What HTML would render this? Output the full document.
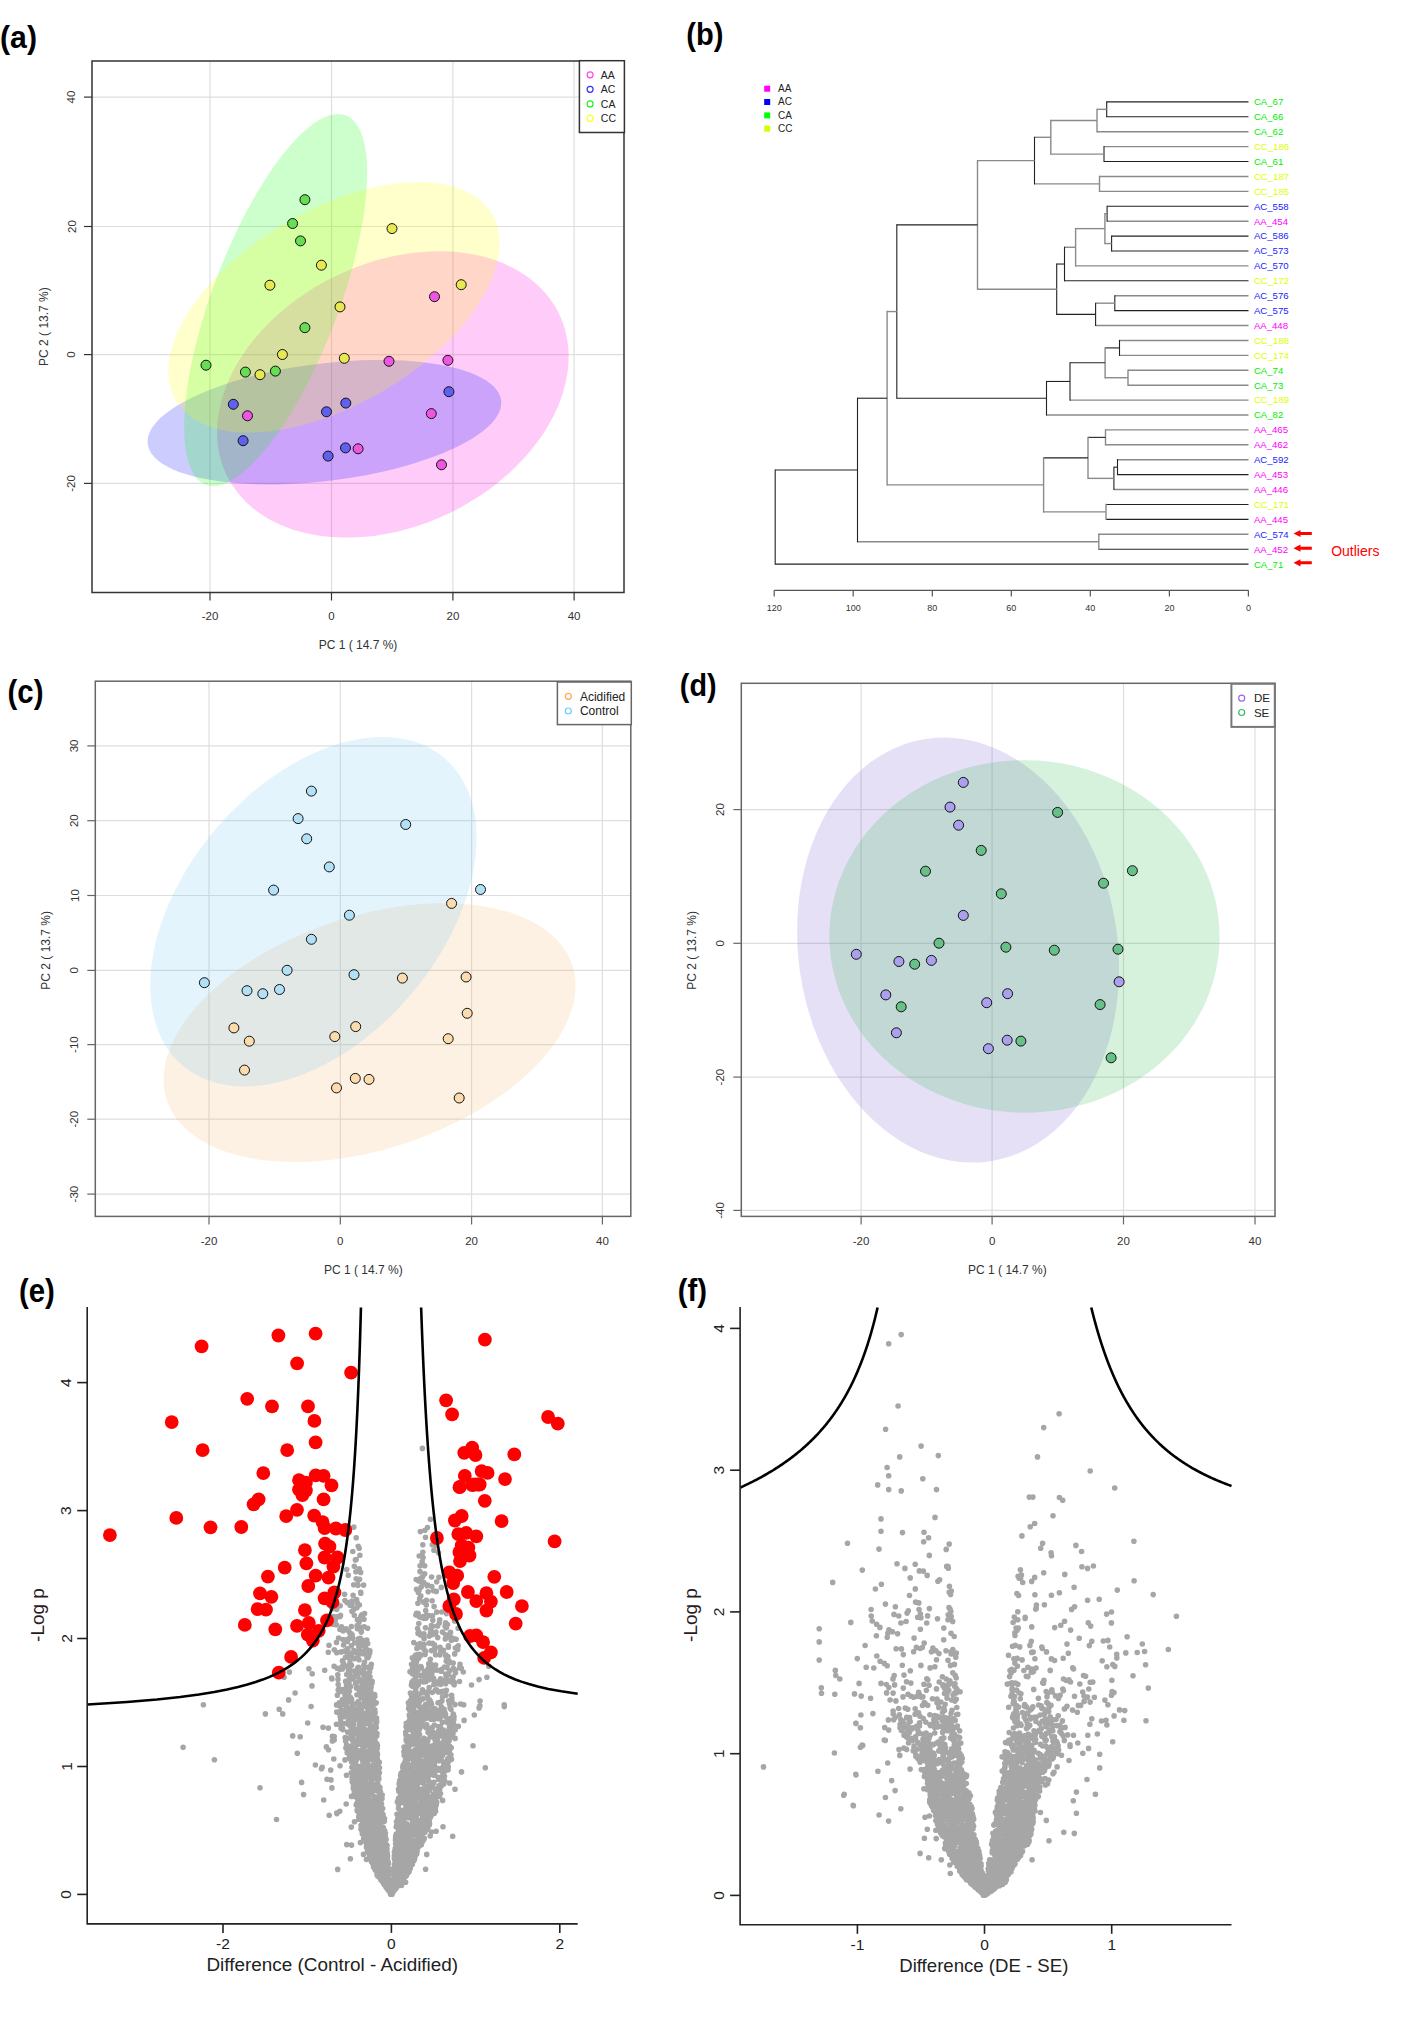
<!DOCTYPE html>
<html><head><meta charset="utf-8"><style>
html,body{margin:0;padding:0;background:#fff;overflow:hidden;}
svg{display:block;font-family:"Liberation Sans", sans-serif;}
</style></head><body>
<svg width="1421" height="2031" viewBox="0 0 1421 2031">
<rect width="1421" height="2031" fill="#fff"/>
<line x1="210" y1="61" x2="210" y2="592.5" stroke="#dedede" stroke-width="1.2"/>
<line x1="331.5" y1="61" x2="331.5" y2="592.5" stroke="#dedede" stroke-width="1.2"/>
<line x1="452.9" y1="61" x2="452.9" y2="592.5" stroke="#dedede" stroke-width="1.2"/>
<line x1="574.1" y1="61" x2="574.1" y2="592.5" stroke="#dedede" stroke-width="1.2"/>
<line x1="92" y1="97.1" x2="624" y2="97.1" stroke="#dedede" stroke-width="1.2"/>
<line x1="92" y1="226.5" x2="624" y2="226.5" stroke="#dedede" stroke-width="1.2"/>
<line x1="92" y1="354.6" x2="624" y2="354.6" stroke="#dedede" stroke-width="1.2"/>
<line x1="92" y1="483.4" x2="624" y2="483.4" stroke="#dedede" stroke-width="1.2"/>
<path d="M335.3,276.2 L325.0,281.6 L314.9,287.3 L305.2,293.5 L295.8,300.1 L286.8,307.0 L278.2,314.3 L270.0,321.9 L262.4,329.8 L255.2,338.0 L248.6,346.3 L242.6,354.9 L237.2,363.6 L232.3,372.5 L228.1,381.4 L224.6,390.4 L221.7,399.4 L219.5,408.4 L218.0,417.3 L217.2,426.1 L217.0,434.8 L217.6,443.4 L218.8,451.7 L220.8,459.9 L223.4,467.7 L226.7,475.3 L230.6,482.6 L235.2,489.5 L240.4,496.0 L246.2,502.2 L252.6,507.9 L259.5,513.2 L267.0,518.0 L274.9,522.3 L283.4,526.1 L292.2,529.4 L301.5,532.1 L311.1,534.3 L321.0,536.0 L331.3,537.1 L341.7,537.6 L352.4,537.6 L363.2,537.0 L374.1,535.9 L385.2,534.1 L396.2,531.9 L407.2,529.1 L418.2,525.7 L429.1,521.9 L439.8,517.5 L450.4,512.7 L460.7,507.4 L470.7,501.6 L480.5,495.4 L489.9,488.9 L498.9,481.9 L507.5,474.6 L515.6,467.0 L523.3,459.1 L530.4,451.0 L537.0,442.6 L543.1,434.0 L548.5,425.3 L553.3,416.4 L557.5,407.5 L561.1,398.5 L563.9,389.5 L566.1,380.6 L567.7,371.6 L568.5,362.8 L568.6,354.1 L568.1,345.5 L566.8,337.2 L564.9,329.1 L562.3,321.2 L559.0,313.6 L555.0,306.3 L550.5,299.4 L545.3,292.9 L539.4,286.7 L533.1,281.0 L526.1,275.8 L518.7,271.0 L510.7,266.7 L502.3,262.8 L493.4,259.6 L484.2,256.8 L474.6,254.6 L464.6,252.9 L454.4,251.8 L443.9,251.3 L433.3,251.3 L422.5,251.9 L411.5,253.1 L400.5,254.8 L389.5,257.0 L378.4,259.8 L367.4,263.2 L356.6,267.0 L345.8,271.4Z" fill="#ff00e4" fill-opacity="0.2"/>
<path d="M317.3,363.9 L306.2,365.4 L295.2,367.1 L284.3,369.1 L273.5,371.2 L263.0,373.5 L252.7,376.1 L242.7,378.8 L233.0,381.6 L223.7,384.7 L214.7,387.9 L206.2,391.2 L198.2,394.7 L190.7,398.2 L183.7,401.9 L177.2,405.6 L171.3,409.4 L166.1,413.2 L161.4,417.1 L157.4,421.0 L154.1,424.9 L151.4,428.8 L149.5,432.7 L148.2,436.5 L147.6,440.3 L147.7,444.0 L148.5,447.6 L150.0,451.2 L152.1,454.6 L155.0,457.8 L158.5,461.0 L162.7,464.0 L167.6,466.8 L173.0,469.4 L179.0,471.9 L185.7,474.1 L192.8,476.2 L200.5,478.0 L208.7,479.6 L217.3,481.0 L226.4,482.2 L235.8,483.1 L245.6,483.8 L255.7,484.3 L266.1,484.4 L276.7,484.4 L287.4,484.1 L298.4,483.6 L309.4,482.8 L320.5,481.8 L331.6,480.5 L342.7,479.0 L353.7,477.3 L364.6,475.4 L375.4,473.3 L385.9,470.9 L396.2,468.4 L406.2,465.7 L415.9,462.8 L425.2,459.8 L434.2,456.6 L442.7,453.2 L450.7,449.8 L458.2,446.2 L465.2,442.6 L471.7,438.9 L477.5,435.1 L482.8,431.2 L487.5,427.3 L491.4,423.4 L494.8,419.5 L497.4,415.6 L499.4,411.7 L500.7,407.9 L501.3,404.1 L501.2,400.4 L500.4,396.8 L498.9,393.3 L496.7,389.9 L493.9,386.6 L490.3,383.5 L486.2,380.5 L481.3,377.7 L475.9,375.0 L469.8,372.6 L463.2,370.3 L456.1,368.3 L448.4,366.4 L440.2,364.8 L431.6,363.4 L422.5,362.3 L413.1,361.3 L403.3,360.6 L393.2,360.2 L382.8,360.0 L372.2,360.1 L361.4,360.3 L350.5,360.9 L339.5,361.7 L328.4,362.7Z" fill="#0000ff" fill-opacity="0.2"/>
<path d="M216.7,277.7 L212.4,289.4 L208.4,301.0 L204.7,312.7 L201.2,324.4 L198.0,335.9 L195.1,347.3 L192.5,358.5 L190.3,369.5 L188.4,380.2 L186.8,390.6 L185.6,400.6 L184.8,410.2 L184.3,419.4 L184.2,428.2 L184.4,436.4 L185.0,444.1 L185.9,451.2 L187.2,457.7 L188.9,463.6 L190.9,468.9 L193.2,473.5 L195.9,477.4 L198.8,480.6 L202.1,483.0 L205.7,484.8 L209.5,485.8 L213.6,486.2 L217.9,485.7 L222.5,484.6 L227.3,482.7 L232.3,480.1 L237.4,476.7 L242.7,472.7 L248.1,468.0 L253.7,462.6 L259.3,456.6 L265.0,450.0 L270.7,442.8 L276.5,435.0 L282.2,426.7 L287.9,417.9 L293.6,408.6 L299.2,398.9 L304.7,388.8 L310.1,378.4 L315.3,367.6 L320.4,356.6 L325.4,345.4 L330.1,333.9 L334.6,322.4 L338.9,310.7 L342.9,299.0 L346.7,287.4 L350.2,275.7 L353.4,264.2 L356.2,252.8 L358.8,241.6 L361.0,230.6 L362.9,219.9 L364.5,209.5 L365.7,199.5 L366.6,189.8 L367.0,180.6 L367.2,171.9 L366.9,163.7 L366.4,156.0 L365.4,148.9 L364.1,142.4 L362.5,136.5 L360.5,131.2 L358.1,126.6 L355.5,122.7 L352.5,119.5 L349.2,117.0 L345.7,115.3 L341.8,114.2 L337.7,113.9 L333.4,114.4 L328.8,115.5 L324.0,117.4 L319.1,120.0 L313.9,123.3 L308.6,127.4 L303.2,132.1 L297.7,137.4 L292.0,143.4 L286.3,150.1 L280.6,157.3 L274.9,165.1 L269.1,173.4 L263.4,182.2 L257.7,191.5 L252.1,201.2 L246.6,211.3 L241.2,221.7 L236.0,232.5 L230.9,243.5 L226.0,254.7 L221.2,266.2Z" fill="#00ff00" fill-opacity="0.2"/>
<path d="M284.6,223.5 L274.7,229.6 L265.1,235.9 L255.8,242.5 L246.8,249.4 L238.1,256.4 L229.8,263.7 L221.9,271.2 L214.5,278.8 L207.5,286.5 L201.0,294.3 L195.0,302.2 L189.6,310.1 L184.8,317.9 L180.6,325.7 L176.9,333.5 L173.9,341.1 L171.5,348.6 L169.7,356.0 L168.6,363.1 L168.2,370.1 L168.4,376.8 L169.3,383.2 L170.8,389.3 L172.9,395.1 L175.7,400.5 L179.1,405.6 L183.1,410.3 L187.8,414.5 L192.9,418.4 L198.7,421.8 L205.0,424.8 L211.8,427.3 L219.0,429.3 L226.8,430.9 L234.9,431.9 L243.5,432.5 L252.4,432.6 L261.6,432.1 L271.1,431.2 L280.8,429.8 L290.8,427.9 L300.9,425.6 L311.2,422.7 L321.6,419.4 L332.0,415.7 L342.4,411.6 L352.7,407.0 L363.0,402.0 L373.2,396.7 L383.3,391.0 L393.1,385.0 L402.7,378.7 L412.0,372.1 L421.1,365.2 L429.7,358.1 L438.0,350.8 L445.9,343.3 L453.4,335.7 L460.3,328.0 L466.8,320.2 L472.8,312.4 L478.2,304.5 L483.0,296.6 L487.3,288.8 L490.9,281.1 L493.9,273.4 L496.3,265.9 L498.1,258.6 L499.2,251.4 L499.6,244.5 L499.4,237.8 L498.6,231.4 L497.1,225.3 L494.9,219.5 L492.1,214.0 L488.7,209.0 L484.7,204.3 L480.1,200.0 L474.9,196.1 L469.1,192.7 L462.8,189.8 L456.1,187.3 L448.8,185.2 L441.1,183.7 L432.9,182.6 L424.4,182.1 L415.5,182.0 L406.2,182.4 L396.7,183.3 L387.0,184.7 L377.0,186.6 L366.9,189.0 L356.6,191.8 L346.3,195.1 L335.9,198.8 L325.5,203.0 L315.1,207.5 L304.8,212.5 L294.6,217.8Z" fill="#ffff00" fill-opacity="0.2"/>
<circle cx="304.9" cy="199.7" r="5.0" fill="#66dd55" stroke="#111" stroke-width="1"/>
<circle cx="292.6" cy="223.5" r="5.0" fill="#66dd55" stroke="#111" stroke-width="1"/>
<circle cx="392.0" cy="228.6" r="5.0" fill="#e8e850" stroke="#111" stroke-width="1"/>
<circle cx="300.5" cy="240.9" r="5.0" fill="#66dd55" stroke="#111" stroke-width="1"/>
<circle cx="321.4" cy="265.2" r="5.0" fill="#e8e850" stroke="#111" stroke-width="1"/>
<circle cx="269.9" cy="285.2" r="5.0" fill="#e8e850" stroke="#111" stroke-width="1"/>
<circle cx="461.2" cy="284.7" r="5.0" fill="#e8e850" stroke="#111" stroke-width="1"/>
<circle cx="340.0" cy="306.9" r="5.0" fill="#e8e850" stroke="#111" stroke-width="1"/>
<circle cx="304.9" cy="327.7" r="5.0" fill="#66dd55" stroke="#111" stroke-width="1"/>
<circle cx="282.4" cy="354.5" r="5.0" fill="#e8e850" stroke="#111" stroke-width="1"/>
<circle cx="206.0" cy="365.2" r="5.0" fill="#66dd55" stroke="#111" stroke-width="1"/>
<circle cx="245.4" cy="372.1" r="5.0" fill="#66dd55" stroke="#111" stroke-width="1"/>
<circle cx="260.0" cy="374.7" r="5.0" fill="#e8e850" stroke="#111" stroke-width="1"/>
<circle cx="275.4" cy="371.1" r="5.0" fill="#66dd55" stroke="#111" stroke-width="1"/>
<circle cx="344.3" cy="358.3" r="5.0" fill="#e8e850" stroke="#111" stroke-width="1"/>
<circle cx="434.5" cy="296.7" r="5.0" fill="#ee55e0" stroke="#111" stroke-width="1"/>
<circle cx="389.0" cy="361.3" r="5.0" fill="#ee55e0" stroke="#111" stroke-width="1"/>
<circle cx="447.9" cy="360.3" r="5.0" fill="#ee55e0" stroke="#111" stroke-width="1"/>
<circle cx="448.9" cy="391.7" r="5.0" fill="#6060ee" stroke="#111" stroke-width="1"/>
<circle cx="233.3" cy="404.3" r="5.0" fill="#6060ee" stroke="#111" stroke-width="1"/>
<circle cx="247.5" cy="415.8" r="5.0" fill="#ee55e0" stroke="#111" stroke-width="1"/>
<circle cx="326.5" cy="411.8" r="5.0" fill="#6060ee" stroke="#111" stroke-width="1"/>
<circle cx="345.8" cy="403.1" r="5.0" fill="#6060ee" stroke="#111" stroke-width="1"/>
<circle cx="431.3" cy="413.6" r="5.0" fill="#ee55e0" stroke="#111" stroke-width="1"/>
<circle cx="243.1" cy="440.7" r="5.0" fill="#6060ee" stroke="#111" stroke-width="1"/>
<circle cx="345.5" cy="447.9" r="5.0" fill="#6060ee" stroke="#111" stroke-width="1"/>
<circle cx="358.1" cy="448.8" r="5.0" fill="#ee55e0" stroke="#111" stroke-width="1"/>
<circle cx="328.1" cy="456.1" r="5.0" fill="#6060ee" stroke="#111" stroke-width="1"/>
<circle cx="441.5" cy="464.8" r="5.0" fill="#ee55e0" stroke="#111" stroke-width="1"/>
<rect x="92" y="61" width="532" height="531.5" fill="none" stroke="#333" stroke-width="1.5"/>
<line x1="210" y1="592.5" x2="210" y2="600.5" stroke="#333" stroke-width="1.2"/>
<text x="210" y="620" font-size="11.5" text-anchor="middle" fill="#333" font-weight="normal">-20</text>
<line x1="331.5" y1="592.5" x2="331.5" y2="600.5" stroke="#333" stroke-width="1.2"/>
<text x="331.5" y="620" font-size="11.5" text-anchor="middle" fill="#333" font-weight="normal">0</text>
<line x1="452.9" y1="592.5" x2="452.9" y2="600.5" stroke="#333" stroke-width="1.2"/>
<text x="452.9" y="620" font-size="11.5" text-anchor="middle" fill="#333" font-weight="normal">20</text>
<line x1="574.1" y1="592.5" x2="574.1" y2="600.5" stroke="#333" stroke-width="1.2"/>
<text x="574.1" y="620" font-size="11.5" text-anchor="middle" fill="#333" font-weight="normal">40</text>
<line x1="84" y1="97.1" x2="92" y2="97.1" stroke="#333" stroke-width="1.2"/>
<text x="75.5" y="97.1" font-size="11.5" text-anchor="middle" fill="#333" font-weight="normal" transform="rotate(-90 75.5 97.1)">40</text>
<line x1="84" y1="226.5" x2="92" y2="226.5" stroke="#333" stroke-width="1.2"/>
<text x="75.5" y="226.5" font-size="11.5" text-anchor="middle" fill="#333" font-weight="normal" transform="rotate(-90 75.5 226.5)">20</text>
<line x1="84" y1="354.6" x2="92" y2="354.6" stroke="#333" stroke-width="1.2"/>
<text x="75.5" y="354.6" font-size="11.5" text-anchor="middle" fill="#333" font-weight="normal" transform="rotate(-90 75.5 354.6)">0</text>
<line x1="84" y1="483.4" x2="92" y2="483.4" stroke="#333" stroke-width="1.2"/>
<text x="75.5" y="483.4" font-size="11.5" text-anchor="middle" fill="#333" font-weight="normal" transform="rotate(-90 75.5 483.4)">-20</text>
<text x="358" y="648.5" font-size="12" text-anchor="middle" fill="#333" font-weight="normal">PC 1 ( 14.7 %)</text>
<text x="48" y="326.6" font-size="12" text-anchor="middle" fill="#333" font-weight="normal" transform="rotate(-90 48 326.6)">PC 2 ( 13.7 %)</text>
<rect x="579.4" y="60.7" width="45" height="71.8" fill="#fff" stroke="#333" stroke-width="1.5"/>
<circle cx="590.1" cy="74.8" r="3" fill="none" stroke="#ff44ee" stroke-width="1.2"/>
<text x="600.8" y="78.6" font-size="10.5" text-anchor="start" fill="#222" font-weight="normal">AA</text>
<circle cx="590.1" cy="89.35" r="3" fill="none" stroke="#3333ff" stroke-width="1.2"/>
<text x="600.8" y="93.14999999999999" font-size="10.5" text-anchor="start" fill="#222" font-weight="normal">AC</text>
<circle cx="590.1" cy="103.9" r="3" fill="none" stroke="#22ee22" stroke-width="1.2"/>
<text x="600.8" y="107.7" font-size="10.5" text-anchor="start" fill="#222" font-weight="normal">CA</text>
<circle cx="590.1" cy="118.45" r="3" fill="none" stroke="#ffff22" stroke-width="1.2"/>
<text x="600.8" y="122.25" font-size="10.5" text-anchor="start" fill="#222" font-weight="normal">CC</text>
<line x1="209" y1="681.2" x2="209" y2="1216.4" stroke="#dedede" stroke-width="1.2"/>
<line x1="340.3" y1="681.2" x2="340.3" y2="1216.4" stroke="#dedede" stroke-width="1.2"/>
<line x1="471.6" y1="681.2" x2="471.6" y2="1216.4" stroke="#dedede" stroke-width="1.2"/>
<line x1="602.4" y1="681.2" x2="602.4" y2="1216.4" stroke="#dedede" stroke-width="1.2"/>
<line x1="95.3" y1="745.9" x2="630.8" y2="745.9" stroke="#dedede" stroke-width="1.2"/>
<line x1="95.3" y1="820.7" x2="630.8" y2="820.7" stroke="#dedede" stroke-width="1.2"/>
<line x1="95.3" y1="895.5" x2="630.8" y2="895.5" stroke="#dedede" stroke-width="1.2"/>
<line x1="95.3" y1="970.4" x2="630.8" y2="970.4" stroke="#dedede" stroke-width="1.2"/>
<line x1="95.3" y1="1044.6" x2="630.8" y2="1044.6" stroke="#dedede" stroke-width="1.2"/>
<line x1="95.3" y1="1119.2" x2="630.8" y2="1119.2" stroke="#dedede" stroke-width="1.2"/>
<line x1="95.3" y1="1194.1" x2="630.8" y2="1194.1" stroke="#dedede" stroke-width="1.2"/>
<path d="M332.7,922.3 L320.1,926.8 L307.6,931.7 L295.4,936.9 L283.5,942.6 L271.9,948.6 L260.7,955.0 L249.9,961.6 L239.6,968.6 L229.8,975.7 L220.6,983.2 L212.0,990.8 L203.9,998.5 L196.6,1006.4 L189.9,1014.4 L183.9,1022.5 L178.7,1030.7 L174.2,1038.8 L170.5,1046.9 L167.5,1054.9 L165.4,1062.9 L164.1,1070.7 L163.5,1078.4 L163.8,1085.9 L164.9,1093.2 L166.9,1100.3 L169.6,1107.1 L173.1,1113.6 L177.4,1119.8 L182.4,1125.6 L188.2,1131.1 L194.7,1136.1 L201.8,1140.8 L209.7,1145.1 L218.1,1148.9 L227.2,1152.2 L236.9,1155.1 L247.0,1157.5 L257.6,1159.4 L268.7,1160.8 L280.2,1161.6 L292.0,1162.0 L304.2,1161.9 L316.6,1161.2 L329.2,1160.1 L341.9,1158.4 L354.8,1156.3 L367.8,1153.7 L380.7,1150.5 L393.6,1147.0 L406.4,1142.9 L419.0,1138.5 L431.5,1133.6 L443.7,1128.3 L455.6,1122.6 L467.2,1116.6 L478.4,1110.3 L489.2,1103.6 L499.5,1096.7 L509.3,1089.5 L518.5,1082.1 L527.1,1074.5 L535.2,1066.7 L542.5,1058.8 L549.2,1050.8 L555.2,1042.7 L560.4,1034.6 L564.9,1026.4 L568.6,1018.3 L571.6,1010.3 L573.7,1002.3 L575.0,994.5 L575.6,986.8 L575.3,979.3 L574.2,972.0 L572.2,964.9 L569.5,958.1 L566.0,951.6 L561.7,945.5 L556.7,939.6 L550.9,934.2 L544.4,929.1 L537.3,924.4 L529.4,920.2 L521.0,916.4 L511.9,913.0 L502.2,910.2 L492.1,907.8 L481.5,905.9 L470.4,904.5 L458.9,903.6 L447.1,903.2 L434.9,903.3 L422.5,904.0 L409.9,905.1 L397.2,906.8 L384.3,908.9 L371.3,911.6 L358.4,914.7 L345.5,918.3Z" fill="#f7b973" fill-opacity="0.2"/>
<path d="M215.9,828.8 L207.9,838.6 L200.3,848.7 L193.1,859.1 L186.5,869.6 L180.3,880.4 L174.6,891.2 L169.5,902.2 L165.0,913.1 L161.0,924.1 L157.6,935.0 L154.9,945.8 L152.8,956.5 L151.3,967.1 L150.5,977.4 L150.2,987.4 L150.7,997.1 L151.8,1006.5 L153.5,1015.6 L155.9,1024.2 L158.8,1032.3 L162.4,1040.0 L166.6,1047.2 L171.4,1053.9 L176.7,1060.0 L182.5,1065.5 L188.9,1070.4 L195.8,1074.7 L203.1,1078.3 L210.9,1081.3 L219.1,1083.6 L227.6,1085.2 L236.5,1086.2 L245.7,1086.4 L255.1,1086.0 L264.8,1084.9 L274.7,1083.1 L284.7,1080.6 L294.9,1077.4 L305.1,1073.6 L315.3,1069.2 L325.6,1064.1 L335.8,1058.5 L345.9,1052.2 L355.8,1045.4 L365.6,1038.1 L375.2,1030.3 L384.6,1022.0 L393.7,1013.2 L402.4,1004.1 L410.8,994.6 L418.9,984.8 L426.5,974.7 L433.6,964.3 L440.3,953.8 L446.5,943.0 L452.2,932.2 L457.3,921.3 L461.8,910.3 L465.8,899.3 L469.1,888.4 L471.9,877.6 L474.0,866.9 L475.5,856.4 L476.3,846.1 L476.5,836.0 L476.1,826.3 L475.0,816.9 L473.3,807.9 L470.9,799.2 L468.0,791.1 L464.4,783.4 L460.2,776.2 L455.4,769.5 L450.1,763.4 L444.2,757.9 L437.9,753.0 L431.0,748.7 L423.7,745.1 L415.9,742.1 L407.7,739.8 L399.2,738.2 L390.3,737.2 L381.1,737.0 L371.7,737.4 L362.0,738.5 L352.1,740.4 L342.1,742.8 L331.9,746.0 L321.7,749.8 L311.5,754.2 L301.2,759.3 L291.0,765.0 L280.9,771.2 L271.0,778.0 L261.1,785.3 L251.5,793.1 L242.2,801.4 L233.1,810.2 L224.3,819.3Z" fill="#73c8f5" fill-opacity="0.2"/>
<circle cx="311.4" cy="791.1" r="5.0" fill="#b2e0f6" stroke="#111" stroke-width="1"/>
<circle cx="298.1" cy="818.6" r="5.0" fill="#b2e0f6" stroke="#111" stroke-width="1"/>
<circle cx="405.7" cy="824.5" r="5.0" fill="#b2e0f6" stroke="#111" stroke-width="1"/>
<circle cx="306.7" cy="838.8" r="5.0" fill="#b2e0f6" stroke="#111" stroke-width="1"/>
<circle cx="329.3" cy="866.9" r="5.0" fill="#b2e0f6" stroke="#111" stroke-width="1"/>
<circle cx="273.6" cy="890.1" r="5.0" fill="#b2e0f6" stroke="#111" stroke-width="1"/>
<circle cx="480.5" cy="889.5" r="5.0" fill="#b2e0f6" stroke="#111" stroke-width="1"/>
<circle cx="349.4" cy="915.2" r="5.0" fill="#b2e0f6" stroke="#111" stroke-width="1"/>
<circle cx="311.4" cy="939.3" r="5.0" fill="#b2e0f6" stroke="#111" stroke-width="1"/>
<circle cx="287.1" cy="970.3" r="5.0" fill="#b2e0f6" stroke="#111" stroke-width="1"/>
<circle cx="204.4" cy="982.7" r="5.0" fill="#b2e0f6" stroke="#111" stroke-width="1"/>
<circle cx="247.0" cy="990.7" r="5.0" fill="#b2e0f6" stroke="#111" stroke-width="1"/>
<circle cx="262.8" cy="993.7" r="5.0" fill="#b2e0f6" stroke="#111" stroke-width="1"/>
<circle cx="279.5" cy="989.5" r="5.0" fill="#b2e0f6" stroke="#111" stroke-width="1"/>
<circle cx="354.0" cy="974.7" r="5.0" fill="#b2e0f6" stroke="#111" stroke-width="1"/>
<circle cx="451.6" cy="903.4" r="5.0" fill="#fcdcae" stroke="#111" stroke-width="1"/>
<circle cx="402.4" cy="978.1" r="5.0" fill="#fcdcae" stroke="#111" stroke-width="1"/>
<circle cx="466.1" cy="977.0" r="5.0" fill="#fcdcae" stroke="#111" stroke-width="1"/>
<circle cx="467.2" cy="1013.3" r="5.0" fill="#fcdcae" stroke="#111" stroke-width="1"/>
<circle cx="233.9" cy="1027.9" r="5.0" fill="#fcdcae" stroke="#111" stroke-width="1"/>
<circle cx="249.3" cy="1041.2" r="5.0" fill="#fcdcae" stroke="#111" stroke-width="1"/>
<circle cx="334.8" cy="1036.6" r="5.0" fill="#fcdcae" stroke="#111" stroke-width="1"/>
<circle cx="355.7" cy="1026.6" r="5.0" fill="#fcdcae" stroke="#111" stroke-width="1"/>
<circle cx="448.2" cy="1038.7" r="5.0" fill="#fcdcae" stroke="#111" stroke-width="1"/>
<circle cx="244.5" cy="1070.1" r="5.0" fill="#fcdcae" stroke="#111" stroke-width="1"/>
<circle cx="355.3" cy="1078.4" r="5.0" fill="#fcdcae" stroke="#111" stroke-width="1"/>
<circle cx="369.0" cy="1079.4" r="5.0" fill="#fcdcae" stroke="#111" stroke-width="1"/>
<circle cx="336.5" cy="1087.9" r="5.0" fill="#fcdcae" stroke="#111" stroke-width="1"/>
<circle cx="459.2" cy="1098.0" r="5.0" fill="#fcdcae" stroke="#111" stroke-width="1"/>
<rect x="95.3" y="681.2" width="535.5" height="535.2" fill="none" stroke="#666" stroke-width="1.5"/>
<line x1="209" y1="1216.4" x2="209" y2="1224.4" stroke="#666" stroke-width="1.2"/>
<text x="209" y="1245.2" font-size="11.5" text-anchor="middle" fill="#333" font-weight="normal">-20</text>
<line x1="340.3" y1="1216.4" x2="340.3" y2="1224.4" stroke="#666" stroke-width="1.2"/>
<text x="340.3" y="1245.2" font-size="11.5" text-anchor="middle" fill="#333" font-weight="normal">0</text>
<line x1="471.6" y1="1216.4" x2="471.6" y2="1224.4" stroke="#666" stroke-width="1.2"/>
<text x="471.6" y="1245.2" font-size="11.5" text-anchor="middle" fill="#333" font-weight="normal">20</text>
<line x1="602.4" y1="1216.4" x2="602.4" y2="1224.4" stroke="#666" stroke-width="1.2"/>
<text x="602.4" y="1245.2" font-size="11.5" text-anchor="middle" fill="#333" font-weight="normal">40</text>
<line x1="87.3" y1="745.9" x2="95.3" y2="745.9" stroke="#666" stroke-width="1.2"/>
<text x="78.5" y="745.9" font-size="11.5" text-anchor="middle" fill="#333" font-weight="normal" transform="rotate(-90 78.5 745.9)">30</text>
<line x1="87.3" y1="820.7" x2="95.3" y2="820.7" stroke="#666" stroke-width="1.2"/>
<text x="78.5" y="820.7" font-size="11.5" text-anchor="middle" fill="#333" font-weight="normal" transform="rotate(-90 78.5 820.7)">20</text>
<line x1="87.3" y1="895.5" x2="95.3" y2="895.5" stroke="#666" stroke-width="1.2"/>
<text x="78.5" y="895.5" font-size="11.5" text-anchor="middle" fill="#333" font-weight="normal" transform="rotate(-90 78.5 895.5)">10</text>
<line x1="87.3" y1="970.4" x2="95.3" y2="970.4" stroke="#666" stroke-width="1.2"/>
<text x="78.5" y="970.4" font-size="11.5" text-anchor="middle" fill="#333" font-weight="normal" transform="rotate(-90 78.5 970.4)">0</text>
<line x1="87.3" y1="1044.6" x2="95.3" y2="1044.6" stroke="#666" stroke-width="1.2"/>
<text x="78.5" y="1044.6" font-size="11.5" text-anchor="middle" fill="#333" font-weight="normal" transform="rotate(-90 78.5 1044.6)">-10</text>
<line x1="87.3" y1="1119.2" x2="95.3" y2="1119.2" stroke="#666" stroke-width="1.2"/>
<text x="78.5" y="1119.2" font-size="11.5" text-anchor="middle" fill="#333" font-weight="normal" transform="rotate(-90 78.5 1119.2)">-20</text>
<line x1="87.3" y1="1194.1" x2="95.3" y2="1194.1" stroke="#666" stroke-width="1.2"/>
<text x="78.5" y="1194.1" font-size="11.5" text-anchor="middle" fill="#333" font-weight="normal" transform="rotate(-90 78.5 1194.1)">-30</text>
<text x="363.3" y="1274" font-size="12" text-anchor="middle" fill="#333" font-weight="normal">PC 1 ( 14.7 %)</text>
<text x="50.5" y="950.3" font-size="12" text-anchor="middle" fill="#333" font-weight="normal" transform="rotate(-90 50.5 950.3)">PC 2 ( 13.7 %)</text>
<rect x="557.4" y="682" width="73.9" height="42.6" fill="#fff" stroke="#666" stroke-width="1.5"/>
<circle cx="568.3" cy="696.3" r="3" fill="none" stroke="#ffaa55" stroke-width="1.2"/>
<text x="579.9" y="700.5" font-size="12" text-anchor="start" fill="#222" font-weight="normal">Acidified</text>
<circle cx="568.3" cy="711.0" r="3" fill="none" stroke="#66ccff" stroke-width="1.2"/>
<text x="579.9" y="715.2" font-size="12" text-anchor="start" fill="#222" font-weight="normal">Control</text>
<line x1="861.1" y1="683.3" x2="861.1" y2="1216.4" stroke="#dedede" stroke-width="1.2"/>
<line x1="992.1" y1="683.3" x2="992.1" y2="1216.4" stroke="#dedede" stroke-width="1.2"/>
<line x1="1123.5" y1="683.3" x2="1123.5" y2="1216.4" stroke="#dedede" stroke-width="1.2"/>
<line x1="1255" y1="683.3" x2="1255" y2="1216.4" stroke="#dedede" stroke-width="1.2"/>
<line x1="741.3" y1="809.6" x2="1275" y2="809.6" stroke="#dedede" stroke-width="1.2"/>
<line x1="741.3" y1="943.3" x2="1275" y2="943.3" stroke="#dedede" stroke-width="1.2"/>
<line x1="741.3" y1="1077.1" x2="1275" y2="1077.1" stroke="#dedede" stroke-width="1.2"/>
<line x1="741.3" y1="1210.4" x2="1275" y2="1210.4" stroke="#dedede" stroke-width="1.2"/>
<path d="M800.3,974.1 L802.6,987.3 L805.6,1000.4 L809.1,1013.2 L813.2,1025.9 L817.9,1038.2 L823.2,1050.1 L829.0,1061.7 L835.3,1072.9 L842.1,1083.5 L849.3,1093.6 L857.0,1103.2 L865.0,1112.1 L873.5,1120.5 L882.3,1128.1 L891.3,1135.0 L900.7,1141.2 L910.2,1146.7 L920.0,1151.4 L929.9,1155.3 L939.9,1158.3 L949.9,1160.6 L960.1,1162.0 L970.2,1162.6 L980.2,1162.4 L990.2,1161.3 L1000.0,1159.3 L1009.7,1156.6 L1019.2,1153.0 L1028.4,1148.7 L1037.4,1143.5 L1046.0,1137.6 L1054.3,1130.9 L1062.2,1123.6 L1069.7,1115.5 L1076.8,1106.8 L1083.4,1097.5 L1089.5,1087.6 L1095.1,1077.1 L1100.1,1066.2 L1104.6,1054.8 L1108.5,1043.0 L1111.8,1030.8 L1114.5,1018.3 L1116.6,1005.5 L1118.1,992.5 L1118.9,979.4 L1119.1,966.1 L1118.6,952.7 L1117.6,939.4 L1115.9,926.1 L1113.5,912.9 L1110.6,899.8 L1107.0,886.9 L1102.9,874.3 L1098.2,862.0 L1092.9,850.0 L1087.2,838.5 L1080.9,827.3 L1074.1,816.7 L1066.8,806.5 L1059.2,797.0 L1051.1,788.0 L1042.7,779.7 L1033.9,772.1 L1024.8,765.1 L1015.5,758.9 L1005.9,753.5 L996.2,748.8 L986.3,744.9 L976.3,741.8 L966.2,739.6 L956.1,738.2 L946.0,737.6 L935.9,737.8 L925.9,738.9 L916.1,740.8 L906.4,743.6 L897.0,747.2 L887.7,751.5 L878.8,756.7 L870.1,762.6 L861.8,769.2 L853.9,776.6 L846.4,784.6 L839.3,793.4 L832.7,802.7 L826.6,812.6 L821.1,823.0 L816.0,834.0 L811.5,845.4 L807.6,857.2 L804.3,869.4 L801.6,881.9 L799.5,894.7 L798.1,907.7 L797.3,920.8 L797.1,934.1 L797.5,947.4 L798.6,960.8Z" fill="#8264d7" fill-opacity="0.2"/>
<path d="M1026.0,760.2 L1013.8,760.4 L1001.6,761.3 L989.4,762.9 L977.4,765.3 L965.6,768.2 L954.1,771.9 L942.8,776.2 L931.8,781.1 L921.2,786.7 L911.0,792.8 L901.3,799.5 L892.0,806.7 L883.3,814.5 L875.1,822.7 L867.5,831.4 L860.5,840.5 L854.2,850.0 L848.6,859.8 L843.6,869.9 L839.4,880.3 L835.8,890.9 L833.1,901.7 L831.1,912.6 L829.8,923.6 L829.3,934.7 L829.6,945.7 L830.7,956.8 L832.5,967.7 L835.1,978.5 L838.4,989.2 L842.5,999.7 L847.2,1009.9 L852.7,1019.8 L858.9,1029.4 L865.7,1038.6 L873.1,1047.4 L881.1,1055.8 L889.7,1063.7 L898.9,1071.1 L908.5,1078.0 L918.6,1084.3 L929.1,1090.0 L939.9,1095.1 L951.2,1099.6 L962.7,1103.5 L974.4,1106.7 L986.3,1109.2 L998.4,1111.0 L1010.6,1112.2 L1022.9,1112.7 L1035.1,1112.4 L1047.3,1111.5 L1059.5,1109.9 L1071.4,1107.5 L1083.2,1104.6 L1094.8,1100.9 L1106.1,1096.6 L1117.1,1091.7 L1127.7,1086.1 L1137.9,1080.0 L1147.6,1073.3 L1156.9,1066.1 L1165.6,1058.3 L1173.8,1050.1 L1181.4,1041.4 L1188.3,1032.3 L1194.7,1022.8 L1200.3,1013.0 L1205.3,1002.9 L1209.5,992.5 L1213.0,981.9 L1215.8,971.1 L1217.8,960.2 L1219.1,949.2 L1219.6,938.1 L1219.3,927.1 L1218.2,916.0 L1216.4,905.1 L1213.8,894.3 L1210.5,883.6 L1206.4,873.1 L1201.7,862.9 L1196.2,853.0 L1190.0,843.4 L1183.2,834.2 L1175.8,825.4 L1167.8,817.0 L1159.2,809.1 L1150.0,801.7 L1140.4,794.8 L1130.3,788.5 L1119.8,782.8 L1108.9,777.7 L1097.7,773.2 L1086.2,769.3 L1074.5,766.1 L1062.6,763.6 L1050.5,761.8 L1038.3,760.6Z" fill="#32b852" fill-opacity="0.2"/>
<circle cx="963.3" cy="782.4" r="5.0" fill="#aaa0ee" stroke="#111" stroke-width="1"/>
<circle cx="950.0" cy="807.1" r="5.0" fill="#aaa0ee" stroke="#111" stroke-width="1"/>
<circle cx="1057.6" cy="812.4" r="5.0" fill="#66c088" stroke="#111" stroke-width="1"/>
<circle cx="958.6" cy="825.2" r="5.0" fill="#aaa0ee" stroke="#111" stroke-width="1"/>
<circle cx="981.2" cy="850.4" r="5.0" fill="#66c088" stroke="#111" stroke-width="1"/>
<circle cx="925.5" cy="871.2" r="5.0" fill="#66c088" stroke="#111" stroke-width="1"/>
<circle cx="1132.4" cy="870.7" r="5.0" fill="#66c088" stroke="#111" stroke-width="1"/>
<circle cx="1001.3" cy="893.8" r="5.0" fill="#66c088" stroke="#111" stroke-width="1"/>
<circle cx="963.3" cy="915.4" r="5.0" fill="#aaa0ee" stroke="#111" stroke-width="1"/>
<circle cx="939.0" cy="943.2" r="5.0" fill="#66c088" stroke="#111" stroke-width="1"/>
<circle cx="856.3" cy="954.3" r="5.0" fill="#aaa0ee" stroke="#111" stroke-width="1"/>
<circle cx="898.9" cy="961.5" r="5.0" fill="#aaa0ee" stroke="#111" stroke-width="1"/>
<circle cx="914.7" cy="964.2" r="5.0" fill="#66c088" stroke="#111" stroke-width="1"/>
<circle cx="931.4" cy="960.4" r="5.0" fill="#aaa0ee" stroke="#111" stroke-width="1"/>
<circle cx="1005.9" cy="947.2" r="5.0" fill="#66c088" stroke="#111" stroke-width="1"/>
<circle cx="1103.5" cy="883.2" r="5.0" fill="#66c088" stroke="#111" stroke-width="1"/>
<circle cx="1054.3" cy="950.2" r="5.0" fill="#66c088" stroke="#111" stroke-width="1"/>
<circle cx="1118.0" cy="949.2" r="5.0" fill="#66c088" stroke="#111" stroke-width="1"/>
<circle cx="1119.1" cy="981.8" r="5.0" fill="#aaa0ee" stroke="#111" stroke-width="1"/>
<circle cx="885.8" cy="994.9" r="5.0" fill="#aaa0ee" stroke="#111" stroke-width="1"/>
<circle cx="901.2" cy="1006.8" r="5.0" fill="#66c088" stroke="#111" stroke-width="1"/>
<circle cx="986.7" cy="1002.7" r="5.0" fill="#aaa0ee" stroke="#111" stroke-width="1"/>
<circle cx="1007.6" cy="993.7" r="5.0" fill="#aaa0ee" stroke="#111" stroke-width="1"/>
<circle cx="1100.1" cy="1004.6" r="5.0" fill="#66c088" stroke="#111" stroke-width="1"/>
<circle cx="896.4" cy="1032.8" r="5.0" fill="#aaa0ee" stroke="#111" stroke-width="1"/>
<circle cx="1007.2" cy="1040.2" r="5.0" fill="#aaa0ee" stroke="#111" stroke-width="1"/>
<circle cx="1020.9" cy="1041.1" r="5.0" fill="#66c088" stroke="#111" stroke-width="1"/>
<circle cx="988.4" cy="1048.7" r="5.0" fill="#aaa0ee" stroke="#111" stroke-width="1"/>
<circle cx="1111.1" cy="1057.8" r="5.0" fill="#66c088" stroke="#111" stroke-width="1"/>
<rect x="741.3" y="683.3" width="533.7" height="533.1000000000001" fill="none" stroke="#666" stroke-width="1.5"/>
<line x1="861.1" y1="1216.4" x2="861.1" y2="1224.4" stroke="#666" stroke-width="1.2"/>
<text x="861.1" y="1245.2" font-size="11.5" text-anchor="middle" fill="#333" font-weight="normal">-20</text>
<line x1="992.1" y1="1216.4" x2="992.1" y2="1224.4" stroke="#666" stroke-width="1.2"/>
<text x="992.1" y="1245.2" font-size="11.5" text-anchor="middle" fill="#333" font-weight="normal">0</text>
<line x1="1123.5" y1="1216.4" x2="1123.5" y2="1224.4" stroke="#666" stroke-width="1.2"/>
<text x="1123.5" y="1245.2" font-size="11.5" text-anchor="middle" fill="#333" font-weight="normal">20</text>
<line x1="1255" y1="1216.4" x2="1255" y2="1224.4" stroke="#666" stroke-width="1.2"/>
<text x="1255" y="1245.2" font-size="11.5" text-anchor="middle" fill="#333" font-weight="normal">40</text>
<line x1="733.3" y1="809.6" x2="741.3" y2="809.6" stroke="#666" stroke-width="1.2"/>
<text x="724.5" y="809.6" font-size="11.5" text-anchor="middle" fill="#333" font-weight="normal" transform="rotate(-90 724.5 809.6)">20</text>
<line x1="733.3" y1="943.3" x2="741.3" y2="943.3" stroke="#666" stroke-width="1.2"/>
<text x="724.5" y="943.3" font-size="11.5" text-anchor="middle" fill="#333" font-weight="normal" transform="rotate(-90 724.5 943.3)">0</text>
<line x1="733.3" y1="1077.1" x2="741.3" y2="1077.1" stroke="#666" stroke-width="1.2"/>
<text x="724.5" y="1077.1" font-size="11.5" text-anchor="middle" fill="#333" font-weight="normal" transform="rotate(-90 724.5 1077.1)">-20</text>
<line x1="733.3" y1="1210.4" x2="741.3" y2="1210.4" stroke="#666" stroke-width="1.2"/>
<text x="724.5" y="1210.4" font-size="11.5" text-anchor="middle" fill="#333" font-weight="normal" transform="rotate(-90 724.5 1210.4)">-40</text>
<text x="1007.4" y="1274" font-size="12" text-anchor="middle" fill="#333" font-weight="normal">PC 1 ( 14.7 %)</text>
<text x="696.5" y="950.3" font-size="12" text-anchor="middle" fill="#333" font-weight="normal" transform="rotate(-90 696.5 950.3)">PC 2 ( 13.7 %)</text>
<rect x="1231.4" y="683.8" width="43.4" height="43.1" fill="#fff" stroke="#777" stroke-width="2"/>
<circle cx="1241.7" cy="698.2" r="3" fill="none" stroke="#9966ee" stroke-width="1.2"/>
<text x="1253.9" y="702.4000000000001" font-size="11.5" text-anchor="start" fill="#222" font-weight="normal">DE</text>
<circle cx="1241.7" cy="712.5" r="3" fill="none" stroke="#33bb66" stroke-width="1.2"/>
<text x="1253.9" y="716.7" font-size="11.5" text-anchor="start" fill="#222" font-weight="normal">SE</text>
<line x1="1106.7" y1="101.90" x2="1248.5" y2="101.90" stroke="#222" stroke-width="1.1"/>
<line x1="1106.7" y1="116.81" x2="1248.5" y2="116.81" stroke="#222" stroke-width="1.1"/>
<line x1="1106.7" y1="101.90" x2="1106.7" y2="116.81" stroke="#222" stroke-width="1.1" stroke-linecap="square"/>
<line x1="1097" y1="109.35" x2="1106.7" y2="109.35" stroke="#8a8a8a" stroke-width="1.4"/>
<line x1="1097" y1="131.72" x2="1248.5" y2="131.72" stroke="#8a8a8a" stroke-width="1.4"/>
<line x1="1097" y1="109.35" x2="1097" y2="131.72" stroke="#8a8a8a" stroke-width="1.4" stroke-linecap="square"/>
<line x1="1104" y1="146.63" x2="1248.5" y2="146.63" stroke="#8a8a8a" stroke-width="1.4"/>
<line x1="1104" y1="161.54" x2="1248.5" y2="161.54" stroke="#222" stroke-width="1.1"/>
<line x1="1104" y1="146.63" x2="1104" y2="161.54" stroke="#222" stroke-width="1.1" stroke-linecap="square"/>
<line x1="1050.8" y1="120.54" x2="1097" y2="120.54" stroke="#8a8a8a" stroke-width="1.4"/>
<line x1="1050.8" y1="154.08" x2="1104" y2="154.08" stroke="#8a8a8a" stroke-width="1.4"/>
<line x1="1050.8" y1="120.54" x2="1050.8" y2="154.08" stroke="#8a8a8a" stroke-width="1.4" stroke-linecap="square"/>
<line x1="1099.5" y1="176.45" x2="1248.5" y2="176.45" stroke="#8a8a8a" stroke-width="1.4"/>
<line x1="1099.5" y1="191.36" x2="1248.5" y2="191.36" stroke="#8a8a8a" stroke-width="1.4"/>
<line x1="1099.5" y1="176.45" x2="1099.5" y2="191.36" stroke="#8a8a8a" stroke-width="1.4" stroke-linecap="square"/>
<line x1="1034.5" y1="137.31" x2="1050.8" y2="137.31" stroke="#8a8a8a" stroke-width="1.4"/>
<line x1="1034.5" y1="183.90" x2="1099.5" y2="183.90" stroke="#8a8a8a" stroke-width="1.4"/>
<line x1="1034.5" y1="137.31" x2="1034.5" y2="183.90" stroke="#222" stroke-width="1.1" stroke-linecap="square"/>
<line x1="1107.1" y1="206.27" x2="1248.5" y2="206.27" stroke="#222" stroke-width="1.1"/>
<line x1="1107.1" y1="221.18" x2="1248.5" y2="221.18" stroke="#8a8a8a" stroke-width="1.4"/>
<line x1="1107.1" y1="206.27" x2="1107.1" y2="221.18" stroke="#222" stroke-width="1.1" stroke-linecap="square"/>
<line x1="1111.6" y1="236.09" x2="1248.5" y2="236.09" stroke="#222" stroke-width="1.1"/>
<line x1="1111.6" y1="251.00" x2="1248.5" y2="251.00" stroke="#222" stroke-width="1.1"/>
<line x1="1111.6" y1="236.09" x2="1111.6" y2="251.00" stroke="#222" stroke-width="1.1" stroke-linecap="square"/>
<line x1="1104.9" y1="213.72" x2="1107.1" y2="213.72" stroke="#8a8a8a" stroke-width="1.4"/>
<line x1="1104.9" y1="243.54" x2="1111.6" y2="243.54" stroke="#8a8a8a" stroke-width="1.4"/>
<line x1="1104.9" y1="213.72" x2="1104.9" y2="243.54" stroke="#8a8a8a" stroke-width="1.4" stroke-linecap="square"/>
<line x1="1075.6" y1="228.63" x2="1104.9" y2="228.63" stroke="#8a8a8a" stroke-width="1.4"/>
<line x1="1075.6" y1="265.91" x2="1248.5" y2="265.91" stroke="#8a8a8a" stroke-width="1.4"/>
<line x1="1075.6" y1="228.63" x2="1075.6" y2="265.91" stroke="#8a8a8a" stroke-width="1.4" stroke-linecap="square"/>
<line x1="1064.5" y1="247.27" x2="1075.6" y2="247.27" stroke="#8a8a8a" stroke-width="1.4"/>
<line x1="1064.5" y1="280.82" x2="1248.5" y2="280.82" stroke="#222" stroke-width="1.1"/>
<line x1="1064.5" y1="247.27" x2="1064.5" y2="280.82" stroke="#222" stroke-width="1.1" stroke-linecap="square"/>
<line x1="1114.8" y1="295.73" x2="1248.5" y2="295.73" stroke="#8a8a8a" stroke-width="1.4"/>
<line x1="1114.8" y1="310.64" x2="1248.5" y2="310.64" stroke="#222" stroke-width="1.1"/>
<line x1="1114.8" y1="295.73" x2="1114.8" y2="310.64" stroke="#222" stroke-width="1.1" stroke-linecap="square"/>
<line x1="1095.6" y1="303.18" x2="1114.8" y2="303.18" stroke="#8a8a8a" stroke-width="1.4"/>
<line x1="1095.6" y1="325.55" x2="1248.5" y2="325.55" stroke="#8a8a8a" stroke-width="1.4"/>
<line x1="1095.6" y1="303.18" x2="1095.6" y2="325.55" stroke="#222" stroke-width="1.1" stroke-linecap="square"/>
<line x1="1056.7" y1="264.04" x2="1064.5" y2="264.04" stroke="#222" stroke-width="1.1"/>
<line x1="1056.7" y1="314.36" x2="1095.6" y2="314.36" stroke="#222" stroke-width="1.1"/>
<line x1="1056.7" y1="264.04" x2="1056.7" y2="314.36" stroke="#222" stroke-width="1.1" stroke-linecap="square"/>
<line x1="977.5" y1="160.61" x2="1034.5" y2="160.61" stroke="#8a8a8a" stroke-width="1.4"/>
<line x1="977.5" y1="289.20" x2="1056.7" y2="289.20" stroke="#8a8a8a" stroke-width="1.4"/>
<line x1="977.5" y1="160.61" x2="977.5" y2="289.20" stroke="#8a8a8a" stroke-width="1.4" stroke-linecap="square"/>
<line x1="1119.5" y1="340.45" x2="1248.5" y2="340.45" stroke="#8a8a8a" stroke-width="1.4"/>
<line x1="1119.5" y1="355.36" x2="1248.5" y2="355.36" stroke="#8a8a8a" stroke-width="1.4"/>
<line x1="1119.5" y1="340.45" x2="1119.5" y2="355.36" stroke="#222" stroke-width="1.1" stroke-linecap="square"/>
<line x1="1128" y1="370.27" x2="1248.5" y2="370.27" stroke="#8a8a8a" stroke-width="1.4"/>
<line x1="1128" y1="385.18" x2="1248.5" y2="385.18" stroke="#8a8a8a" stroke-width="1.4"/>
<line x1="1128" y1="370.27" x2="1128" y2="385.18" stroke="#8a8a8a" stroke-width="1.4" stroke-linecap="square"/>
<line x1="1105.1" y1="347.91" x2="1119.5" y2="347.91" stroke="#222" stroke-width="1.1"/>
<line x1="1105.1" y1="377.73" x2="1128" y2="377.73" stroke="#8a8a8a" stroke-width="1.4"/>
<line x1="1105.1" y1="347.91" x2="1105.1" y2="377.73" stroke="#8a8a8a" stroke-width="1.4" stroke-linecap="square"/>
<line x1="1070" y1="362.82" x2="1105.1" y2="362.82" stroke="#222" stroke-width="1.1"/>
<line x1="1070" y1="400.09" x2="1248.5" y2="400.09" stroke="#8a8a8a" stroke-width="1.4"/>
<line x1="1070" y1="362.82" x2="1070" y2="400.09" stroke="#222" stroke-width="1.1" stroke-linecap="square"/>
<line x1="1046.5" y1="381.46" x2="1070" y2="381.46" stroke="#222" stroke-width="1.1"/>
<line x1="1046.5" y1="415.00" x2="1248.5" y2="415.00" stroke="#8a8a8a" stroke-width="1.4"/>
<line x1="1046.5" y1="381.46" x2="1046.5" y2="415.00" stroke="#222" stroke-width="1.1" stroke-linecap="square"/>
<line x1="1105.5" y1="429.91" x2="1248.5" y2="429.91" stroke="#8a8a8a" stroke-width="1.4"/>
<line x1="1105.5" y1="444.82" x2="1248.5" y2="444.82" stroke="#8a8a8a" stroke-width="1.4"/>
<line x1="1105.5" y1="429.91" x2="1105.5" y2="444.82" stroke="#8a8a8a" stroke-width="1.4" stroke-linecap="square"/>
<line x1="1117.5" y1="459.73" x2="1248.5" y2="459.73" stroke="#8a8a8a" stroke-width="1.4"/>
<line x1="1117.5" y1="474.64" x2="1248.5" y2="474.64" stroke="#222" stroke-width="1.1"/>
<line x1="1117.5" y1="459.73" x2="1117.5" y2="474.64" stroke="#222" stroke-width="1.1" stroke-linecap="square"/>
<line x1="1113.9" y1="467.19" x2="1117.5" y2="467.19" stroke="#222" stroke-width="1.1"/>
<line x1="1113.9" y1="489.55" x2="1248.5" y2="489.55" stroke="#8a8a8a" stroke-width="1.4"/>
<line x1="1113.9" y1="467.19" x2="1113.9" y2="489.55" stroke="#222" stroke-width="1.1" stroke-linecap="square"/>
<line x1="1088" y1="437.37" x2="1105.5" y2="437.37" stroke="#222" stroke-width="1.1"/>
<line x1="1088" y1="478.37" x2="1113.9" y2="478.37" stroke="#8a8a8a" stroke-width="1.4"/>
<line x1="1088" y1="437.37" x2="1088" y2="478.37" stroke="#8a8a8a" stroke-width="1.4" stroke-linecap="square"/>
<line x1="1106" y1="504.46" x2="1248.5" y2="504.46" stroke="#222" stroke-width="1.1"/>
<line x1="1106" y1="519.37" x2="1248.5" y2="519.37" stroke="#222" stroke-width="1.1"/>
<line x1="1106" y1="504.46" x2="1106" y2="519.37" stroke="#8a8a8a" stroke-width="1.4" stroke-linecap="square"/>
<line x1="1043.6" y1="457.87" x2="1088" y2="457.87" stroke="#222" stroke-width="1.1"/>
<line x1="1043.6" y1="511.92" x2="1106" y2="511.92" stroke="#8a8a8a" stroke-width="1.4"/>
<line x1="1043.6" y1="457.87" x2="1043.6" y2="511.92" stroke="#8a8a8a" stroke-width="1.4" stroke-linecap="square"/>
<line x1="1098.8" y1="534.28" x2="1248.5" y2="534.28" stroke="#8a8a8a" stroke-width="1.4"/>
<line x1="1098.8" y1="549.19" x2="1248.5" y2="549.19" stroke="#222" stroke-width="1.1"/>
<line x1="1098.8" y1="534.28" x2="1098.8" y2="549.19" stroke="#8a8a8a" stroke-width="1.4" stroke-linecap="square"/>
<line x1="896.8" y1="224.90" x2="977.5" y2="224.90" stroke="#222" stroke-width="1.1"/>
<line x1="896.8" y1="398.23" x2="1046.5" y2="398.23" stroke="#222" stroke-width="1.1"/>
<line x1="896.8" y1="224.90" x2="896.8" y2="398.23" stroke="#222" stroke-width="1.1" stroke-linecap="square"/>
<line x1="887.1" y1="311.57" x2="896.8" y2="311.57" stroke="#8a8a8a" stroke-width="1.4"/>
<line x1="887.1" y1="484.89" x2="1043.6" y2="484.89" stroke="#8a8a8a" stroke-width="1.4"/>
<line x1="887.1" y1="311.57" x2="887.1" y2="484.89" stroke="#8a8a8a" stroke-width="1.4" stroke-linecap="square"/>
<line x1="857.5" y1="398.23" x2="887.1" y2="398.23" stroke="#222" stroke-width="1.1"/>
<line x1="857.5" y1="541.74" x2="1098.8" y2="541.74" stroke="#8a8a8a" stroke-width="1.4"/>
<line x1="857.5" y1="398.23" x2="857.5" y2="541.74" stroke="#222" stroke-width="1.1" stroke-linecap="square"/>
<line x1="775.2" y1="469.98" x2="857.5" y2="469.98" stroke="#222" stroke-width="1.1"/>
<line x1="775.2" y1="564.10" x2="1248.5" y2="564.10" stroke="#222" stroke-width="1.1"/>
<line x1="775.2" y1="469.98" x2="775.2" y2="564.10" stroke="#222" stroke-width="1.1" stroke-linecap="square"/>
<text x="1253.9" y="105.30" font-size="9.6" fill="#00ee00">CA_67</text>
<text x="1253.9" y="120.21" font-size="9.6" fill="#00ee00">CA_66</text>
<text x="1253.9" y="135.12" font-size="9.6" fill="#00ee00">CA_62</text>
<text x="1253.9" y="150.03" font-size="9.6" fill="#ddff00">CC_186</text>
<text x="1253.9" y="164.94" font-size="9.6" fill="#00ee00">CA_61</text>
<text x="1253.9" y="179.85" font-size="9.6" fill="#ddff00">CC_187</text>
<text x="1253.9" y="194.76" font-size="9.6" fill="#ddff00">CC_185</text>
<text x="1253.9" y="209.67" font-size="9.6" fill="#2222ff">AC_558</text>
<text x="1253.9" y="224.58" font-size="9.6" fill="#ff00ff">AA_454</text>
<text x="1253.9" y="239.49" font-size="9.6" fill="#2222ff">AC_586</text>
<text x="1253.9" y="254.40" font-size="9.6" fill="#2222ff">AC_573</text>
<text x="1253.9" y="269.31" font-size="9.6" fill="#2222ff">AC_570</text>
<text x="1253.9" y="284.22" font-size="9.6" fill="#ddff00">CC_172</text>
<text x="1253.9" y="299.13" font-size="9.6" fill="#2222ff">AC_576</text>
<text x="1253.9" y="314.04" font-size="9.6" fill="#2222ff">AC_575</text>
<text x="1253.9" y="328.95" font-size="9.6" fill="#ff00ff">AA_448</text>
<text x="1253.9" y="343.85" font-size="9.6" fill="#ddff00">CC_188</text>
<text x="1253.9" y="358.76" font-size="9.6" fill="#ddff00">CC_174</text>
<text x="1253.9" y="373.67" font-size="9.6" fill="#00ee00">CA_74</text>
<text x="1253.9" y="388.58" font-size="9.6" fill="#00ee00">CA_73</text>
<text x="1253.9" y="403.49" font-size="9.6" fill="#ddff00">CC_189</text>
<text x="1253.9" y="418.40" font-size="9.6" fill="#00ee00">CA_82</text>
<text x="1253.9" y="433.31" font-size="9.6" fill="#ff00ff">AA_465</text>
<text x="1253.9" y="448.22" font-size="9.6" fill="#ff00ff">AA_462</text>
<text x="1253.9" y="463.13" font-size="9.6" fill="#2222ff">AC_592</text>
<text x="1253.9" y="478.04" font-size="9.6" fill="#ff00ff">AA_453</text>
<text x="1253.9" y="492.95" font-size="9.6" fill="#ff00ff">AA_446</text>
<text x="1253.9" y="507.86" font-size="9.6" fill="#ddff00">CC_171</text>
<text x="1253.9" y="522.77" font-size="9.6" fill="#ff00ff">AA_445</text>
<text x="1253.9" y="537.68" font-size="9.6" fill="#2222ff">AC_574</text>
<text x="1253.9" y="552.59" font-size="9.6" fill="#ff00ff">AA_452</text>
<text x="1253.9" y="567.50" font-size="9.6" fill="#00ee00">CA_71</text>
<rect x="764.2" y="85.7" width="6" height="6" fill="#ff00ff"/>
<text x="778" y="92.1" font-size="10" fill="#222">AA</text>
<rect x="764.2" y="99.0" width="6" height="6" fill="#0000ff"/>
<text x="778" y="105.4" font-size="10" fill="#222">AC</text>
<rect x="764.2" y="112.4" width="6" height="6" fill="#00ff00"/>
<text x="778" y="118.8" font-size="10" fill="#222">CA</text>
<rect x="764.2" y="125.7" width="6" height="6" fill="#d4ff00"/>
<text x="778" y="132.1" font-size="10" fill="#222">CC</text>
<line x1="774.2" y1="590.3" x2="1248.4" y2="590.3" stroke="#555" stroke-width="1.2"/>
<line x1="774.2" y1="590.3" x2="774.2" y2="596.6" stroke="#555" stroke-width="1.2"/>
<text x="774.2" y="610.7" font-size="9" text-anchor="middle" fill="#333">120</text>
<line x1="853.2" y1="590.3" x2="853.2" y2="596.6" stroke="#555" stroke-width="1.2"/>
<text x="853.2" y="610.7" font-size="9" text-anchor="middle" fill="#333">100</text>
<line x1="932.3" y1="590.3" x2="932.3" y2="596.6" stroke="#555" stroke-width="1.2"/>
<text x="932.3" y="610.7" font-size="9" text-anchor="middle" fill="#333">80</text>
<line x1="1011.3" y1="590.3" x2="1011.3" y2="596.6" stroke="#555" stroke-width="1.2"/>
<text x="1011.3" y="610.7" font-size="9" text-anchor="middle" fill="#333">60</text>
<line x1="1090.3" y1="590.3" x2="1090.3" y2="596.6" stroke="#555" stroke-width="1.2"/>
<text x="1090.3" y="610.7" font-size="9" text-anchor="middle" fill="#333">40</text>
<line x1="1169.4" y1="590.3" x2="1169.4" y2="596.6" stroke="#555" stroke-width="1.2"/>
<text x="1169.4" y="610.7" font-size="9" text-anchor="middle" fill="#333">20</text>
<line x1="1248.4" y1="590.3" x2="1248.4" y2="596.6" stroke="#555" stroke-width="1.2"/>
<text x="1248.4" y="610.7" font-size="9" text-anchor="middle" fill="#333">0</text>
<path d="M1293.5,533.5 L1300.5,529.9 L1300.5,532.0 L1311.8,532.0 L1311.8,535.0 L1300.5,535.0 L1300.5,537.1 Z" fill="#ff0000"/>
<path d="M1293.5,548.2 L1300.5,544.6 L1300.5,546.7 L1311.8,546.7 L1311.8,549.7 L1300.5,549.7 L1300.5,551.8000000000001 Z" fill="#ff0000"/>
<path d="M1293.5,562.8 L1300.5,559.1999999999999 L1300.5,561.3 L1311.8,561.3 L1311.8,564.3 L1300.5,564.3 L1300.5,566.4 Z" fill="#ff0000"/>
<text x="1331.2" y="555.5" font-size="14" fill="#ff0000">Outliers</text>
<path d="M388.3 1878.0h0M381.1 1864.0h0M391.0 1889.8h0M387.8 1864.1h0M387.0 1884.4h0M387.4 1880.9h0M378.4 1867.9h0M385.4 1881.3h0M384.2 1876.8h0M390.6 1893.5h0M388.7 1870.3h0M379.3 1877.2h0M389.9 1883.9h0M388.2 1869.2h0M384.4 1884.7h0M388.6 1879.9h0M389.7 1890.1h0M387.1 1881.5h0M389.6 1887.9h0M387.8 1886.0h0M376.7 1870.4h0M388.1 1885.4h0M383.6 1878.9h0M372.6 1863.0h0M381.1 1863.6h0M384.7 1871.2h0M384.4 1877.1h0M385.9 1885.5h0M388.6 1889.3h0M372.7 1863.4h0M386.3 1877.9h0M388.8 1890.7h0M384.6 1874.5h0M389.0 1869.6h0M381.5 1874.8h0M373.8 1865.1h0M391.1 1893.1h0M379.9 1877.5h0M382.0 1879.7h0M390.8 1892.4h0M379.3 1873.9h0M384.0 1867.1h0M381.9 1875.4h0M387.9 1886.1h0M385.6 1867.5h0M385.2 1878.1h0M385.6 1878.1h0M387.8 1870.3h0M388.2 1889.7h0M384.7 1868.2h0M385.2 1872.5h0M375.2 1869.2h0M389.3 1888.3h0M383.2 1868.7h0M387.5 1888.3h0M390.6 1891.8h0M374.3 1867.0h0M381.6 1866.8h0M383.0 1866.4h0M386.9 1879.3h0M388.8 1885.6h0M390.6 1894.2h0M383.1 1873.7h0M388.4 1871.4h0M388.0 1867.7h0M386.0 1885.4h0M386.7 1887.5h0M377.1 1873.9h0M388.0 1868.6h0M384.3 1863.6h0M388.3 1889.6h0M381.7 1879.0h0M375.8 1865.8h0M388.7 1880.9h0M380.3 1875.5h0M390.7 1893.6h0M377.3 1872.9h0M381.5 1865.0h0M379.2 1868.0h0M385.6 1866.1h0M379.6 1873.3h0M390.6 1886.5h0M376.8 1869.8h0M387.8 1887.6h0M384.1 1867.8h0M391.0 1892.4h0M382.0 1868.0h0M388.4 1889.1h0M383.0 1882.4h0M384.1 1884.3h0M382.0 1872.3h0M389.8 1888.7h0M389.3 1881.7h0M390.8 1894.2h0M387.4 1886.0h0M388.2 1880.9h0M389.9 1891.0h0M384.6 1874.1h0M384.0 1882.2h0M388.2 1871.2h0M386.8 1873.5h0M388.3 1880.6h0M381.5 1866.7h0M385.2 1874.2h0M380.2 1868.5h0M386.9 1883.5h0M385.9 1877.0h0M388.0 1888.1h0M378.9 1862.5h0M390.1 1886.6h0M388.6 1886.2h0M390.3 1892.1h0M387.3 1886.2h0M382.6 1870.0h0M386.8 1872.1h0M388.8 1890.3h0M386.1 1882.4h0M384.5 1880.9h0M378.0 1873.1h0M389.6 1879.8h0M388.1 1875.6h0M377.9 1867.5h0M387.8 1871.2h0M390.2 1882.7h0M380.9 1880.1h0M390.0 1882.6h0M389.1 1890.9h0M386.6 1887.9h0M388.3 1885.3h0M386.4 1884.4h0M389.7 1884.4h0M377.7 1876.0h0M373.8 1863.3h0M384.9 1869.6h0M388.1 1869.1h0M378.1 1870.1h0M377.2 1875.3h0M386.2 1865.0h0M377.3 1872.3h0M380.9 1878.4h0M390.8 1891.9h0M388.1 1878.8h0M389.9 1887.6h0M390.2 1890.2h0M385.5 1878.2h0M386.2 1869.3h0M388.6 1885.0h0M380.9 1869.8h0M383.3 1877.6h0M387.8 1889.6h0M385.9 1863.5h0M382.7 1881.6h0M389.1 1885.0h0M385.7 1867.3h0M388.7 1890.4h0M381.3 1870.9h0M388.1 1888.4h0M382.9 1881.8h0M387.0 1887.0h0M377.4 1867.5h0M387.5 1881.9h0M383.4 1863.2h0M383.2 1874.4h0M384.0 1872.2h0M387.8 1877.7h0M385.8 1884.5h0M383.8 1881.7h0M373.8 1864.3h0M388.1 1888.0h0M379.8 1862.8h0M383.9 1870.1h0M387.3 1882.9h0M378.8 1873.9h0M384.4 1882.2h0M389.5 1882.2h0M383.7 1878.3h0M390.6 1893.9h0M381.2 1878.6h0M382.3 1863.3h0M385.6 1885.3h0M377.3 1870.5h0M384.3 1880.2h0M386.9 1887.7h0M386.2 1865.5h0M390.6 1893.9h0M385.1 1884.7h0M381.6 1862.4h0M386.3 1886.0h0M381.3 1867.2h0M379.7 1875.0h0M384.2 1868.6h0M381.1 1874.2h0M389.8 1882.8h0M375.2 1870.1h0M390.7 1893.6h0M381.6 1880.1h0M385.2 1882.5h0M383.2 1879.1h0M388.6 1890.3h0M386.1 1887.3h0M385.4 1876.4h0M387.9 1882.0h0M378.1 1869.1h0M383.6 1875.0h0M373.5 1866.9h0M381.3 1871.0h0M388.3 1875.1h0M390.2 1885.2h0M337.7 1869.4h0M388.8 1886.4h0M390.8 1892.0h0M377.4 1863.6h0M387.0 1877.1h0M383.7 1869.6h0M385.7 1877.5h0M379.7 1874.8h0M390.7 1893.3h0M387.2 1888.4h0M385.6 1872.8h0M377.8 1876.1h0M389.1 1889.3h0M382.8 1863.9h0M387.9 1889.5h0M387.9 1878.1h0M388.1 1889.8h0M388.8 1871.5h0M389.6 1885.6h0M389.5 1890.1h0M391.0 1892.9h0M388.2 1888.8h0M388.5 1888.3h0M387.0 1877.2h0M385.8 1880.0h0M388.4 1863.8h0M373.8 1863.9h0M388.3 1868.9h0M385.2 1872.9h0M375.2 1867.4h0M380.3 1864.4h0M390.9 1893.7h0M389.4 1890.6h0M385.1 1882.9h0M390.5 1891.4h0M388.3 1875.2h0M387.2 1886.1h0M388.0 1885.9h0M386.9 1885.2h0M389.2 1891.3h0M381.3 1870.7h0M386.7 1873.6h0M385.3 1875.0h0M390.6 1893.3h0M387.8 1880.7h0M385.3 1872.5h0M387.9 1889.4h0M386.4 1882.1h0M390.8 1893.8h0M389.6 1891.8h0M386.9 1887.5h0M389.8 1881.1h0M376.5 1847.6h0M369.8 1834.1h0M384.7 1852.3h0M385.5 1861.7h0M368.1 1836.0h0M375.4 1860.4h0M370.7 1859.4h0M384.4 1831.6h0M385.3 1838.3h0M367.5 1851.6h0M375.3 1858.2h0M385.3 1850.0h0M374.2 1851.6h0M370.5 1834.4h0M372.9 1849.0h0M373.5 1859.8h0M368.2 1832.8h0M374.5 1842.5h0M350.4 1858.7h0M384.6 1858.8h0M366.5 1847.5h0M380.2 1859.5h0M380.7 1842.2h0M372.5 1842.7h0M376.7 1861.4h0M372.4 1836.6h0M366.1 1837.2h0M371.4 1833.1h0M378.1 1841.0h0M384.4 1840.2h0M385.9 1857.2h0M379.8 1861.6h0M383.4 1860.3h0M382.5 1831.6h0M368.2 1841.8h0M374.7 1832.1h0M372.8 1851.2h0M366.9 1838.3h0M387.0 1860.3h0M370.2 1857.1h0M376.5 1853.5h0M380.0 1844.8h0M346.7 1844.6h0M382.2 1846.5h0M380.3 1848.8h0M373.6 1844.0h0M381.1 1831.5h0M377.7 1847.8h0M379.5 1835.6h0M374.7 1860.6h0M382.9 1850.1h0M371.0 1844.5h0M360.4 1842.6h0M379.3 1854.4h0M377.5 1849.6h0M376.2 1832.1h0M375.0 1841.7h0M368.4 1843.7h0M379.0 1860.3h0M374.1 1860.7h0M373.8 1855.7h0M384.5 1858.0h0M378.4 1830.9h0M385.8 1862.3h0M371.6 1850.7h0M386.5 1860.5h0M367.7 1841.9h0M378.8 1860.9h0M380.6 1860.2h0M378.2 1859.9h0M377.2 1853.7h0M373.3 1844.0h0M373.4 1836.6h0M381.5 1853.9h0M369.8 1853.4h0M371.9 1836.0h0M363.7 1838.6h0M385.8 1858.4h0M364.4 1836.6h0M371.5 1835.8h0M375.2 1856.7h0M366.0 1842.4h0M386.7 1856.1h0M383.5 1854.6h0M375.0 1846.6h0M380.4 1845.7h0M386.6 1847.1h0M351.5 1845.1h0M374.7 1855.6h0M370.5 1837.5h0M387.2 1853.5h0M377.9 1833.2h0M368.7 1845.9h0M374.5 1852.7h0M376.3 1856.8h0M366.5 1846.9h0M380.6 1850.4h0M384.4 1842.5h0M373.9 1846.5h0M377.4 1861.2h0M373.3 1835.8h0M371.7 1860.8h0M370.3 1835.9h0M384.6 1836.4h0M370.1 1832.9h0M385.3 1841.2h0M377.4 1857.3h0M376.8 1848.3h0M386.8 1848.4h0M382.3 1842.2h0M378.6 1850.2h0M379.3 1840.8h0M385.3 1855.9h0M375.0 1851.1h0M366.6 1845.0h0M386.2 1848.7h0M374.1 1858.5h0M377.2 1831.5h0M380.4 1840.3h0M367.7 1835.8h0M368.5 1851.0h0M362.3 1832.2h0M364.6 1836.4h0M382.8 1831.1h0M387.6 1856.1h0M371.4 1847.1h0M371.6 1850.1h0M383.2 1842.8h0M363.5 1854.4h0M376.7 1859.2h0M379.1 1847.2h0M383.1 1842.0h0M380.4 1850.1h0M378.6 1830.8h0M386.9 1849.4h0M382.0 1852.8h0M380.4 1836.4h0M372.9 1847.5h0M375.1 1853.7h0M374.2 1853.2h0M378.5 1832.1h0M371.3 1831.6h0M384.2 1841.7h0M372.6 1853.5h0M365.3 1839.7h0M373.1 1855.5h0M372.9 1852.1h0M374.6 1845.1h0M371.5 1849.6h0M377.9 1851.2h0M379.0 1831.3h0M373.5 1857.0h0M375.2 1842.8h0M372.4 1861.2h0M366.4 1859.5h0M377.6 1855.7h0M384.7 1830.7h0M381.3 1839.2h0M369.1 1834.6h0M380.5 1860.8h0M365.9 1840.6h0M374.5 1848.3h0M381.8 1849.1h0M380.8 1839.8h0M381.5 1852.6h0M382.2 1846.0h0M377.3 1854.1h0M385.4 1849.9h0M374.4 1845.4h0M380.0 1857.4h0M370.3 1853.6h0M368.8 1849.0h0M380.9 1847.3h0M382.2 1836.8h0M377.0 1841.8h0M376.1 1844.4h0M369.3 1834.6h0M369.5 1856.1h0M372.1 1859.1h0M379.2 1849.8h0M378.1 1858.0h0M374.3 1844.6h0M367.8 1844.1h0M386.1 1858.2h0M368.0 1839.5h0M380.9 1844.6h0M384.7 1848.9h0M362.5 1833.1h0M377.7 1835.0h0M373.5 1855.3h0M381.2 1857.1h0M378.9 1833.1h0M377.9 1857.4h0M381.1 1838.2h0M382.8 1852.4h0M386.2 1850.9h0M371.4 1844.7h0M363.9 1832.8h0M388.3 1862.3h0M382.6 1857.2h0M366.8 1839.4h0M374.9 1849.8h0M385.1 1853.2h0M380.0 1831.6h0M383.6 1854.0h0M386.1 1839.6h0M382.7 1831.6h0M383.4 1838.0h0M375.3 1839.7h0M369.0 1839.3h0M374.1 1836.7h0M374.8 1853.7h0M367.2 1842.4h0M368.1 1836.7h0M362.3 1834.0h0M385.4 1833.4h0M363.8 1833.5h0M383.4 1859.3h0M369.7 1850.4h0M383.6 1847.8h0M365.2 1833.9h0M378.2 1849.0h0M387.3 1853.9h0M371.5 1861.8h0M385.4 1853.2h0M385.5 1837.4h0M374.7 1861.8h0M381.8 1857.1h0M387.0 1852.5h0M387.0 1845.4h0M378.9 1850.8h0M383.4 1834.2h0M381.1 1855.8h0M372.0 1844.4h0M364.4 1837.5h0M378.6 1832.7h0M372.2 1834.5h0M375.1 1858.1h0M367.9 1837.1h0M375.5 1840.8h0M370.9 1848.9h0M380.7 1861.6h0M374.1 1857.0h0M372.0 1838.4h0M379.7 1859.7h0M370.1 1852.4h0M381.4 1854.2h0M378.2 1838.5h0M377.3 1850.9h0M387.4 1859.6h0M369.3 1818.6h0M384.1 1820.0h0M359.9 1807.5h0M375.5 1820.2h0M359.4 1808.2h0M378.9 1813.2h0M362.9 1802.0h0M367.0 1807.0h0M369.4 1817.4h0M360.3 1814.9h0M381.9 1815.3h0M357.8 1802.5h0M378.3 1826.0h0M377.6 1816.9h0M365.6 1813.3h0M373.7 1816.5h0M339.8 1811.3h0M369.2 1814.5h0M361.6 1817.2h0M382.7 1808.5h0M374.2 1819.9h0M378.9 1811.0h0M364.2 1807.1h0M365.5 1826.2h0M381.0 1820.0h0M359.4 1800.2h0M373.9 1799.5h0M361.6 1798.7h0M382.2 1829.1h0M346.2 1804.0h0M364.7 1800.5h0M368.9 1801.6h0M364.5 1807.6h0M362.5 1808.8h0M358.2 1807.4h0M366.6 1812.0h0M378.3 1805.2h0M363.7 1814.4h0M374.2 1823.2h0M367.8 1827.4h0M363.5 1801.4h0M359.1 1806.3h0M370.1 1824.8h0M376.5 1804.1h0M373.6 1820.8h0M366.7 1810.1h0M369.8 1819.0h0M379.8 1823.6h0M364.3 1824.8h0M371.0 1828.2h0M371.0 1828.0h0M380.2 1828.2h0M373.0 1827.5h0M375.7 1803.7h0M375.5 1813.9h0M376.6 1826.3h0M336.9 1813.6h0M336.7 1813.1h0M360.3 1814.5h0M365.8 1823.8h0M358.7 1816.5h0M366.2 1802.6h0M373.4 1818.2h0M373.4 1814.3h0M380.7 1800.7h0M367.0 1823.0h0M374.5 1807.2h0M383.1 1814.9h0M358.2 1805.2h0M378.8 1818.9h0M381.1 1813.1h0M365.3 1818.6h0M361.5 1802.7h0M361.4 1801.2h0M367.2 1810.2h0M381.7 1799.0h0M369.0 1807.0h0M356.7 1803.9h0M370.0 1801.8h0M376.9 1821.7h0M367.1 1798.9h0M368.1 1817.9h0M375.5 1814.5h0M365.5 1824.7h0M359.8 1804.1h0M383.5 1819.6h0M381.0 1808.4h0M372.0 1823.4h0M382.3 1819.2h0M379.3 1818.1h0M362.8 1822.9h0M361.0 1829.3h0M360.2 1805.8h0M323.7 1800.0h0M364.7 1823.2h0M370.3 1825.2h0M358.9 1819.3h0M378.5 1827.8h0M359.3 1809.6h0M384.5 1818.6h0M378.4 1812.4h0M357.9 1801.4h0M368.3 1802.9h0M375.9 1800.9h0M363.4 1800.5h0M374.7 1811.6h0M368.3 1814.4h0M375.2 1829.2h0M351.3 1827.1h0M382.3 1813.7h0M357.8 1803.0h0M361.5 1816.6h0M373.8 1830.3h0M378.4 1823.6h0M380.3 1806.1h0M361.1 1825.4h0M371.2 1824.0h0M384.3 1821.3h0M367.2 1810.9h0M362.2 1803.7h0M377.2 1823.4h0M357.6 1811.2h0M382.2 1813.5h0M380.7 1816.2h0M367.3 1811.9h0M370.0 1804.4h0M375.7 1823.5h0M365.8 1814.5h0M362.2 1827.3h0M361.3 1814.0h0M363.3 1805.1h0M374.3 1798.5h0M329.2 1815.2h0M379.6 1820.9h0M360.4 1811.9h0M366.7 1818.5h0M370.8 1826.7h0M381.6 1813.6h0M360.0 1804.9h0M378.9 1801.9h0M368.4 1799.1h0M360.3 1818.7h0M375.6 1822.4h0M374.0 1826.9h0M359.6 1816.5h0M374.5 1804.6h0M373.3 1822.9h0M372.5 1803.2h0M372.1 1807.7h0M374.1 1824.0h0M357.1 1810.2h0M361.0 1804.2h0M380.7 1800.6h0M369.4 1825.2h0M381.5 1804.1h0M380.4 1805.6h0M370.0 1822.6h0M368.8 1821.0h0M377.6 1799.8h0M373.6 1818.8h0M376.0 1821.2h0M364.2 1807.4h0M375.0 1826.2h0M373.8 1815.0h0M363.0 1819.0h0M366.3 1813.0h0M381.4 1811.1h0M368.7 1809.9h0M377.6 1816.6h0M374.9 1802.1h0M365.8 1803.7h0M358.9 1800.6h0M374.3 1816.2h0M368.6 1807.1h0M381.7 1816.6h0M364.9 1821.5h0M378.1 1809.6h0M371.0 1800.2h0M375.6 1804.7h0M371.1 1821.3h0M377.0 1823.1h0M370.2 1805.7h0M370.9 1807.9h0M365.7 1802.8h0M367.7 1825.7h0M368.3 1802.9h0M364.7 1816.6h0M354.5 1821.7h0M372.6 1819.4h0M382.0 1798.6h0M361.6 1799.8h0M373.8 1827.7h0M364.5 1820.3h0M360.2 1807.4h0M383.3 1829.3h0M375.6 1829.3h0M367.3 1829.0h0M370.3 1802.6h0M372.8 1819.7h0M372.3 1820.2h0M356.2 1805.0h0M378.4 1820.2h0M378.8 1806.8h0M364.6 1818.6h0M363.1 1820.9h0M382.1 1818.0h0M369.7 1825.0h0M364.1 1828.0h0M363.3 1802.6h0M377.7 1802.6h0M379.7 1815.7h0M371.2 1808.4h0M372.0 1802.8h0M379.4 1817.9h0M369.5 1807.7h0M377.5 1806.3h0M383.4 1827.9h0M372.7 1826.0h0M357.7 1806.4h0M378.6 1807.9h0M379.8 1824.5h0M368.9 1804.0h0M357.2 1804.8h0M373.2 1819.8h0M276.5 1819.5h0M371.0 1826.9h0M375.6 1816.2h0M382.4 1826.9h0M367.2 1813.0h0M372.0 1810.4h0M358.4 1811.8h0M376.2 1828.1h0M379.3 1810.5h0M374.1 1806.4h0M373.2 1825.9h0M376.0 1811.4h0M371.4 1804.2h0M366.9 1824.2h0M361.6 1801.2h0M366.0 1799.3h0M366.2 1775.7h0M376.4 1770.5h0M362.8 1789.7h0M372.5 1777.2h0M357.9 1768.8h0M355.8 1797.0h0M354.8 1772.2h0M373.7 1790.9h0M366.8 1772.8h0M367.8 1777.9h0M357.2 1772.8h0M369.3 1785.6h0M370.3 1784.0h0M361.9 1768.9h0M366.0 1796.2h0M358.2 1793.4h0M351.9 1767.3h0M354.3 1769.2h0M354.3 1793.7h0M322.2 1767.3h0M369.1 1789.9h0M358.8 1769.9h0M354.0 1769.5h0M362.7 1797.7h0M366.2 1798.1h0M376.8 1788.0h0M358.1 1768.7h0M353.5 1773.1h0M367.5 1786.1h0M354.4 1771.0h0M364.4 1788.6h0M373.4 1787.3h0M354.4 1792.3h0M357.5 1767.7h0M351.3 1772.7h0M363.2 1783.6h0M360.6 1790.0h0M370.9 1767.5h0M366.0 1785.7h0M370.4 1791.7h0M361.6 1784.9h0M352.8 1775.4h0M363.5 1773.8h0M382.2 1795.0h0M371.2 1768.2h0M364.6 1776.9h0M351.5 1796.4h0M362.2 1771.7h0M373.2 1767.3h0M362.0 1771.6h0M358.2 1798.1h0M366.0 1783.3h0M356.3 1779.6h0M364.1 1770.0h0M301.6 1782.4h0M355.1 1796.0h0M377.9 1768.6h0M371.5 1768.0h0M362.1 1782.9h0M359.7 1796.7h0M374.1 1771.6h0M354.7 1774.7h0M358.6 1767.4h0M379.0 1798.2h0M368.1 1784.5h0M356.5 1789.4h0M369.3 1795.0h0M354.9 1774.9h0M375.2 1787.5h0M358.2 1797.2h0M362.5 1794.2h0M379.4 1772.7h0M377.9 1779.1h0M361.2 1791.6h0M355.9 1776.2h0M371.0 1794.3h0M372.5 1776.9h0M352.2 1777.5h0M358.9 1798.3h0M352.3 1782.1h0M346.5 1775.2h0M365.2 1774.2h0M376.8 1775.9h0M330.7 1770.1h0M367.9 1774.2h0M375.9 1768.9h0M376.7 1785.2h0M357.1 1797.3h0M357.4 1792.6h0M354.6 1789.2h0M357.5 1797.1h0M367.2 1795.0h0M365.9 1781.8h0M365.1 1790.4h0M359.8 1789.3h0M373.6 1774.7h0M367.1 1771.1h0M367.4 1770.9h0M359.1 1786.6h0M378.4 1775.7h0M360.7 1771.2h0M379.4 1793.6h0M366.5 1792.0h0M374.1 1777.7h0M354.1 1789.9h0M379.2 1792.3h0M372.3 1786.7h0M377.0 1797.9h0M373.3 1784.4h0M363.1 1796.9h0M378.6 1790.6h0M364.0 1791.5h0M331.9 1787.9h0M380.7 1794.4h0M353.9 1783.4h0M365.8 1776.4h0M379.9 1787.6h0M321.5 1768.8h0M368.5 1770.9h0M377.5 1788.6h0M360.5 1797.2h0M354.1 1773.9h0M362.0 1790.8h0M368.3 1787.8h0M331.0 1779.9h0M378.2 1766.5h0M374.6 1788.9h0M364.5 1783.5h0M374.8 1778.4h0M361.1 1776.6h0M368.0 1791.7h0M357.0 1779.4h0M352.6 1781.0h0M377.3 1777.4h0M361.4 1794.8h0M380.7 1794.4h0M363.0 1767.2h0M369.2 1772.2h0M365.4 1772.0h0M357.5 1768.6h0M379.5 1767.7h0M363.3 1785.9h0M354.5 1774.3h0M354.7 1777.9h0M365.7 1780.5h0M361.3 1776.7h0M376.0 1788.2h0M373.3 1770.9h0M353.4 1785.4h0M379.8 1793.7h0M357.2 1798.1h0M372.5 1778.0h0M366.7 1791.0h0M372.9 1767.9h0M379.6 1792.2h0M356.9 1788.3h0M360.5 1767.0h0M355.7 1781.8h0M360.4 1768.9h0M358.7 1773.4h0M303.6 1794.6h0M380.4 1791.5h0M378.4 1786.1h0M354.6 1770.3h0M260.0 1787.8h0M377.2 1783.6h0M377.7 1783.1h0M378.7 1788.0h0M369.5 1773.3h0M365.5 1796.7h0M356.0 1791.2h0M373.4 1772.0h0M378.9 1778.7h0M353.3 1782.1h0M376.8 1786.6h0M360.9 1794.3h0M354.5 1783.8h0M366.5 1766.9h0M352.2 1779.4h0M371.6 1780.0h0M373.4 1766.8h0M354.3 1770.1h0M359.3 1766.5h0M370.0 1767.9h0M378.5 1777.1h0M371.9 1788.7h0M362.4 1778.3h0M365.1 1787.3h0M371.5 1772.5h0M370.0 1794.0h0M371.7 1783.6h0M376.4 1771.5h0M362.5 1783.9h0M327.0 1779.2h0M357.9 1795.3h0M358.8 1789.3h0M366.7 1767.9h0M358.1 1777.4h0M363.3 1786.8h0M354.6 1781.9h0M373.3 1773.7h0M370.7 1773.2h0M365.9 1772.0h0M377.6 1789.2h0M365.2 1790.8h0M368.3 1778.0h0M359.4 1781.6h0M357.3 1780.4h0M378.3 1791.6h0M353.3 1788.2h0M357.0 1774.4h0M359.8 1787.0h0M372.4 1774.2h0M374.6 1796.9h0M353.6 1768.0h0M377.2 1759.8h0M374.5 1751.2h0M358.9 1737.0h0M371.9 1758.3h0M362.9 1759.2h0M362.0 1734.9h0M366.5 1737.5h0M353.1 1749.4h0M373.7 1764.5h0M354.8 1747.1h0M366.5 1758.4h0M351.4 1759.6h0M334.2 1736.6h0M371.4 1746.6h0M369.5 1752.2h0M373.6 1764.4h0M369.3 1754.6h0M367.7 1738.8h0M354.9 1756.8h0M357.6 1756.1h0M353.9 1747.0h0M362.4 1758.4h0M370.1 1748.6h0M374.0 1741.9h0M349.5 1757.3h0M359.5 1751.3h0M373.4 1748.0h0M369.7 1754.8h0M362.3 1759.3h0M365.2 1762.8h0M377.2 1748.4h0M368.0 1736.5h0M340.1 1765.8h0M351.6 1738.8h0M372.3 1735.7h0M371.5 1749.1h0M366.3 1735.5h0M371.5 1743.9h0M352.1 1749.0h0M361.7 1751.6h0M373.4 1751.5h0M363.4 1744.6h0M362.9 1758.9h0M371.3 1743.6h0M360.0 1750.7h0M354.3 1744.9h0M332.4 1736.4h0M369.9 1759.0h0M373.4 1753.6h0M369.1 1757.6h0M355.8 1764.8h0M354.9 1746.6h0M348.7 1746.3h0M365.9 1734.5h0M183.1 1747.2h0M373.0 1753.8h0M362.6 1737.6h0M375.9 1766.0h0M357.3 1756.8h0M369.5 1742.4h0M364.2 1761.3h0M365.8 1754.9h0M367.8 1739.3h0M352.8 1755.4h0M377.3 1758.7h0M348.9 1738.0h0M376.9 1764.0h0M374.7 1739.0h0M373.3 1756.4h0M352.9 1759.8h0M347.4 1750.8h0M373.7 1751.0h0M361.2 1735.6h0M360.6 1742.4h0M373.2 1751.7h0M355.6 1748.6h0M365.3 1756.3h0M371.7 1735.0h0M369.9 1754.1h0M358.4 1738.1h0M377.4 1745.5h0M351.5 1737.1h0M353.9 1755.1h0M362.6 1753.1h0M377.5 1754.6h0M356.4 1740.0h0M368.2 1736.0h0M374.9 1740.1h0M369.5 1752.0h0M366.3 1739.9h0M374.4 1743.1h0M348.4 1749.8h0M366.2 1760.6h0M354.3 1758.8h0M359.7 1743.9h0M367.3 1760.1h0M363.2 1748.5h0M362.2 1740.7h0M367.1 1745.5h0M326.4 1746.9h0M353.4 1758.2h0M363.8 1762.6h0M364.6 1765.4h0M315.4 1765.0h0M333.8 1759.0h0M349.2 1748.6h0M349.7 1752.9h0M356.5 1759.9h0M376.8 1756.8h0M367.2 1751.7h0M332.4 1740.9h0M362.3 1745.5h0M355.2 1765.1h0M369.4 1751.0h0M352.8 1760.5h0M370.5 1739.1h0M363.4 1738.1h0M371.5 1748.7h0M355.0 1742.9h0M373.8 1744.5h0M352.4 1740.3h0M357.6 1757.5h0M374.0 1759.1h0M354.2 1742.6h0M376.3 1735.8h0M366.0 1759.1h0M352.8 1748.3h0M371.5 1749.0h0M360.5 1754.5h0M363.2 1742.5h0M379.3 1762.2h0M365.9 1754.6h0M347.2 1752.7h0M376.7 1736.0h0M373.3 1744.6h0M376.9 1743.7h0M362.0 1734.5h0M370.8 1759.2h0M375.2 1747.1h0M376.9 1763.0h0M376.7 1761.3h0M357.7 1744.2h0M373.3 1740.0h0M347.4 1746.1h0M345.9 1747.9h0M369.1 1741.2h0M292.7 1735.9h0M352.4 1736.8h0M368.8 1740.6h0M361.3 1752.6h0M358.9 1741.9h0M350.2 1759.0h0M345.2 1737.5h0M356.5 1757.5h0M373.5 1735.1h0M360.4 1756.8h0M377.1 1758.0h0M365.6 1755.7h0M355.1 1750.9h0M354.3 1760.0h0M368.5 1758.0h0M369.9 1738.2h0M300.2 1736.7h0M351.5 1761.5h0M352.6 1752.3h0M357.4 1753.0h0M334.2 1740.0h0M369.6 1745.3h0M355.4 1753.4h0M357.9 1741.2h0M376.5 1747.1h0M214.4 1759.8h0M345.6 1741.1h0M370.2 1751.6h0M345.5 1738.1h0M352.6 1745.2h0M362.8 1761.6h0M374.0 1742.2h0M363.8 1747.9h0M348.1 1749.1h0M377.2 1753.0h0M369.0 1745.2h0M368.0 1764.4h0M353.4 1750.3h0M375.9 1736.5h0M345.0 1759.9h0M351.7 1762.1h0M297.3 1753.3h0M328.5 1749.8h0M354.6 1754.4h0M349.4 1751.0h0M346.6 1744.9h0M345.6 1741.1h0M362.9 1764.8h0M374.2 1754.2h0M363.0 1746.6h0M374.8 1765.8h0M361.4 1736.1h0M375.7 1746.0h0M356.7 1750.9h0M376.5 1720.1h0M371.6 1729.8h0M348.2 1732.3h0M375.1 1712.7h0M370.5 1704.9h0M367.8 1709.1h0M368.0 1733.8h0M350.6 1733.2h0M376.5 1718.1h0M364.2 1716.1h0M346.8 1715.1h0M346.8 1706.4h0M339.3 1705.7h0M376.2 1702.8h0M340.0 1723.8h0M365.9 1719.5h0M339.3 1702.7h0M336.7 1712.1h0M365.7 1732.6h0M359.5 1705.4h0M362.3 1714.7h0M341.0 1728.3h0M362.8 1723.3h0M355.0 1716.0h0M364.4 1713.6h0M352.7 1721.3h0M351.9 1710.7h0M351.9 1717.4h0M357.2 1703.3h0M362.4 1707.2h0M369.2 1729.7h0M360.9 1731.2h0M358.6 1707.2h0M356.3 1715.0h0M375.6 1703.2h0M374.7 1720.5h0M352.8 1728.7h0M353.4 1733.3h0M374.8 1709.9h0M351.8 1731.8h0M282.7 1713.9h0M340.2 1716.4h0M358.5 1710.8h0M373.2 1704.3h0M350.9 1726.9h0M361.9 1719.0h0M341.1 1710.4h0M361.1 1728.0h0M372.7 1731.5h0M374.2 1730.0h0M203.4 1704.7h0M279.2 1709.2h0M328.4 1728.1h0M374.9 1734.0h0M353.1 1714.1h0M336.4 1724.2h0M323.0 1727.2h0M342.5 1728.1h0M363.7 1719.4h0M366.2 1723.5h0M340.0 1704.4h0M369.5 1716.4h0M340.5 1705.7h0M336.6 1704.9h0M371.0 1705.7h0M366.7 1718.5h0M349.8 1715.8h0M370.7 1717.4h0M355.3 1733.8h0M362.4 1704.2h0M342.8 1729.6h0M345.1 1716.8h0M339.4 1712.6h0M357.1 1709.3h0M350.5 1717.1h0M371.4 1714.0h0M351.4 1708.0h0M373.3 1713.9h0M369.2 1713.1h0M352.9 1707.1h0M347.6 1732.1h0M372.5 1717.9h0M371.4 1733.6h0M374.9 1729.6h0M377.0 1733.6h0M371.1 1706.8h0M364.8 1723.9h0M376.0 1717.8h0M373.1 1709.3h0M353.1 1712.4h0M342.3 1704.8h0M376.1 1718.8h0M349.5 1712.0h0M368.0 1706.7h0M365.9 1731.0h0M340.6 1719.4h0M368.2 1731.6h0M371.9 1716.6h0M348.4 1724.4h0M372.1 1707.6h0M356.4 1719.5h0M358.7 1729.3h0M371.6 1706.5h0M349.0 1720.8h0M357.7 1733.8h0M374.6 1725.9h0M351.8 1722.2h0M367.1 1733.6h0M368.6 1730.0h0M352.1 1725.0h0M376.0 1723.7h0M349.8 1720.5h0M359.4 1724.9h0M353.6 1724.2h0M349.8 1719.7h0M346.0 1723.2h0M343.9 1710.5h0M368.9 1709.5h0M361.9 1733.9h0M362.1 1729.3h0M353.5 1731.2h0M347.9 1723.2h0M367.1 1723.1h0M358.6 1710.5h0M356.2 1711.1h0M372.5 1706.2h0M342.3 1712.6h0M358.3 1715.4h0M373.8 1702.7h0M265.4 1713.9h0M376.7 1722.0h0M369.8 1724.7h0M374.7 1733.3h0M344.8 1704.3h0M349.1 1710.4h0M369.4 1722.4h0M311.1 1706.5h0M370.4 1710.1h0M375.2 1719.6h0M364.6 1703.9h0M352.5 1705.9h0M358.6 1720.2h0M359.4 1720.8h0M365.0 1729.6h0M350.9 1731.2h0M341.6 1723.0h0M376.3 1727.6h0M373.1 1732.3h0M350.9 1710.9h0M346.8 1703.7h0M362.1 1712.5h0M373.1 1705.4h0M366.6 1706.6h0M362.2 1713.8h0M354.7 1717.7h0M307.7 1723.0h0M360.9 1718.6h0M352.3 1724.2h0M355.1 1729.0h0M371.1 1718.6h0M372.6 1713.3h0M357.4 1715.7h0M344.3 1710.9h0M341.2 1723.7h0M375.7 1734.5h0M353.2 1727.7h0M370.8 1725.2h0M371.6 1716.8h0M360.9 1722.0h0M340.1 1713.4h0M367.9 1695.3h0M371.1 1687.5h0M368.4 1702.4h0M365.0 1680.5h0M337.8 1674.8h0M349.6 1675.0h0M346.7 1674.5h0M360.9 1696.2h0M354.5 1671.1h0M346.7 1684.8h0M374.8 1696.5h0M342.8 1699.6h0M349.1 1700.2h0M370.7 1682.1h0M349.0 1682.4h0M284.1 1677.3h0M372.2 1681.4h0M312.0 1685.9h0M350.3 1697.3h0M353.0 1679.0h0M368.6 1702.3h0M369.7 1681.4h0M372.5 1697.2h0M363.9 1697.4h0M365.8 1673.5h0M362.5 1672.8h0M365.1 1679.4h0M337.3 1695.2h0M358.5 1687.5h0M340.5 1691.4h0M371.8 1698.7h0M345.0 1694.9h0M345.9 1700.6h0M350.4 1671.4h0M362.7 1694.9h0M338.2 1690.1h0M348.3 1694.6h0M358.6 1681.6h0M338.2 1684.5h0M331.7 1678.0h0M351.9 1702.1h0M365.9 1695.9h0M365.8 1684.0h0M288.6 1699.9h0M365.2 1690.6h0M341.7 1689.6h0M362.5 1686.1h0M349.5 1691.2h0M331.9 1679.0h0M351.6 1699.1h0M349.0 1700.5h0M368.4 1692.4h0M342.4 1699.6h0M363.8 1689.9h0M348.5 1684.0h0M373.3 1699.8h0M362.3 1687.8h0M346.5 1684.7h0M369.1 1684.4h0M358.2 1701.5h0M353.7 1677.7h0M349.1 1679.4h0M295.1 1693.0h0M361.8 1687.4h0M365.7 1678.8h0M355.0 1675.8h0M372.8 1694.6h0M366.0 1677.8h0M338.9 1688.9h0M369.6 1672.0h0M357.7 1674.4h0M339.0 1691.0h0M344.3 1691.0h0M368.7 1686.9h0M358.3 1671.7h0M367.8 1697.9h0M368.3 1684.9h0M365.6 1681.8h0M338.0 1679.4h0M343.0 1700.3h0M355.6 1683.3h0M356.4 1688.1h0M359.6 1691.6h0M348.4 1671.4h0M345.3 1699.1h0M360.6 1679.8h0M346.5 1695.9h0M289.4 1672.1h0M350.6 1686.5h0M346.1 1688.0h0M374.6 1694.5h0M367.3 1685.4h0M363.7 1674.8h0M364.4 1700.2h0M345.6 1681.4h0M371.3 1697.8h0M369.3 1695.3h0M357.7 1675.2h0M343.3 1700.2h0M359.3 1679.1h0M346.2 1700.6h0M364.6 1686.2h0M362.5 1682.5h0M361.3 1697.8h0M370.0 1676.8h0M365.1 1695.4h0M366.7 1687.3h0M356.9 1694.8h0M369.4 1678.0h0M346.8 1694.4h0M347.3 1694.1h0M351.8 1702.1h0M312.2 1673.7h0M342.1 1701.4h0M366.4 1692.4h0M365.1 1681.8h0M370.8 1691.9h0M371.9 1683.4h0M349.7 1658.8h0M363.8 1665.4h0M363.5 1669.9h0M358.4 1667.3h0M362.9 1653.7h0M363.5 1651.5h0M367.1 1643.8h0M366.8 1640.0h0M367.8 1657.7h0M359.3 1644.1h0M367.0 1657.5h0M354.4 1658.6h0M334.1 1666.2h0M354.7 1642.7h0M359.0 1659.7h0M334.3 1649.8h0M351.8 1653.9h0M349.1 1638.6h0M364.5 1662.3h0M336.8 1652.8h0M329.0 1645.2h0M371.3 1664.4h0M360.9 1644.2h0M337.2 1652.6h0M368.2 1667.2h0M342.8 1639.5h0M345.5 1657.3h0M349.2 1655.3h0M361.7 1645.4h0M347.0 1639.6h0M350.0 1662.6h0M346.2 1666.1h0M358.8 1646.7h0M347.6 1648.8h0M368.6 1656.2h0M367.1 1649.8h0M362.5 1640.3h0M367.7 1643.6h0M328.3 1652.3h0M345.2 1641.4h0M366.2 1641.3h0M351.4 1645.8h0M342.0 1666.7h0M356.3 1652.5h0M344.7 1651.1h0M336.5 1642.4h0M358.3 1654.0h0M369.9 1650.9h0M365.3 1647.6h0M370.7 1667.8h0M308.9 1668.7h0M339.9 1669.5h0M349.9 1667.1h0M343.1 1662.3h0M342.4 1668.9h0M347.9 1651.4h0M361.0 1652.2h0M358.0 1655.9h0M361.1 1670.2h0M365.6 1653.9h0M347.2 1666.4h0M324.7 1670.3h0M343.5 1645.0h0M347.5 1641.4h0M337.1 1668.2h0M359.2 1649.4h0M339.1 1668.8h0M341.2 1651.9h0M353.9 1650.5h0M346.4 1651.7h0M358.5 1638.8h0M369.1 1650.9h0M351.5 1665.2h0M361.4 1640.6h0M342.5 1660.9h0M369.6 1653.2h0M367.8 1656.7h0M361.8 1644.7h0M357.8 1667.8h0M341.5 1626.7h0M332.7 1624.3h0M336.7 1609.5h0M346.1 1628.9h0M361.2 1627.4h0M361.4 1631.8h0M333.4 1622.2h0M367.6 1628.3h0M363.2 1618.5h0M335.3 1619.9h0M340.0 1616.6h0M336.3 1624.8h0M343.2 1631.0h0M338.6 1638.0h0M364.0 1619.3h0M348.8 1631.3h0M360.2 1638.3h0M351.4 1626.5h0M360.5 1629.7h0M360.7 1616.7h0M360.5 1629.0h0M364.2 1626.7h0M354.3 1615.3h0M336.6 1616.9h0M350.0 1633.4h0M357.4 1619.7h0M332.1 1608.7h0M353.8 1609.4h0M351.9 1611.3h0M339.9 1629.5h0M356.9 1607.8h0M361.2 1632.1h0M357.2 1625.6h0M352.1 1634.8h0M332.7 1620.4h0M340.5 1615.4h0M333.2 1616.5h0M352.8 1638.3h0M357.3 1628.6h0M361.8 1614.8h0M364.6 1613.5h0M359.2 1621.8h0M351.3 1633.9h0M344.6 1594.3h0M358.1 1580.2h0M357.6 1584.7h0M358.0 1585.3h0M353.7 1584.7h0M353.1 1595.3h0M344.9 1600.5h0M363.6 1585.1h0M352.0 1601.1h0M348.3 1575.3h0M357.3 1602.7h0M340.2 1605.8h0M350.1 1605.2h0M351.9 1604.8h0M360.8 1593.3h0M360.7 1592.2h0M347.0 1602.4h0M356.2 1578.7h0M359.6 1579.2h0M359.4 1605.0h0M356.6 1599.6h0M359.2 1548.3h0M358.2 1546.2h0M355.9 1571.7h0M354.3 1566.3h0M359.2 1568.9h0M356.1 1559.6h0M360.7 1572.4h0M355.4 1559.9h0M346.7 1569.6h0M359.9 1555.2h0M352.8 1551.5h0M353.8 1527.1h0M356.2 1537.7h0M398.6 1872.7h0M393.4 1889.9h0M401.5 1871.1h0M393.0 1890.1h0M401.6 1875.9h0M393.7 1875.0h0M395.8 1878.2h0M391.5 1893.0h0M398.9 1884.6h0M392.7 1889.7h0M394.3 1886.5h0M393.3 1887.6h0M395.1 1886.5h0M395.3 1867.8h0M397.5 1885.4h0M400.2 1867.1h0M394.1 1890.6h0M392.0 1889.6h0M409.0 1871.7h0M393.8 1888.9h0M397.3 1868.6h0M392.6 1892.3h0M412.3 1864.5h0M396.7 1883.8h0M396.7 1873.4h0M398.1 1883.6h0M406.3 1875.8h0M406.4 1870.7h0M392.9 1890.5h0M404.4 1869.3h0M401.6 1878.9h0M394.5 1880.4h0M403.8 1866.6h0M397.3 1864.7h0M394.8 1889.0h0M402.0 1871.2h0M397.2 1863.3h0M395.4 1888.1h0M404.9 1865.2h0M398.6 1868.1h0M403.9 1865.5h0M407.4 1873.4h0M393.1 1889.7h0M396.7 1881.4h0M401.8 1879.8h0M400.4 1878.6h0M391.6 1893.6h0M391.9 1892.5h0M397.0 1864.8h0M391.5 1893.9h0M395.5 1889.1h0M402.1 1868.2h0M407.5 1869.2h0M397.5 1880.7h0M392.0 1893.1h0M393.8 1882.3h0M401.8 1875.6h0M391.7 1891.9h0M397.9 1868.7h0M402.1 1874.7h0M397.6 1870.5h0M406.2 1863.2h0M399.9 1881.4h0M406.0 1875.1h0M425.6 1869.2h0M392.0 1890.1h0M403.1 1865.4h0M396.0 1873.8h0M395.9 1873.8h0M399.1 1884.1h0M393.6 1891.1h0M392.7 1883.4h0M402.5 1876.9h0M398.0 1868.1h0M399.6 1873.8h0M395.3 1887.0h0M392.3 1889.0h0M394.1 1887.1h0M398.5 1876.3h0M394.2 1889.6h0M398.1 1880.4h0M394.3 1868.1h0M392.0 1888.7h0M393.0 1880.8h0M394.0 1883.5h0M408.9 1868.4h0M398.3 1880.7h0M395.2 1884.6h0M394.6 1889.3h0M409.2 1869.6h0M402.6 1878.5h0M392.7 1882.8h0M401.1 1870.0h0M400.5 1864.9h0M406.8 1864.3h0M392.5 1892.5h0M410.3 1867.9h0M396.2 1877.5h0M399.6 1879.8h0M406.3 1871.8h0M408.6 1869.8h0M398.7 1869.5h0M396.0 1877.8h0M399.9 1880.1h0M394.1 1890.6h0M396.0 1876.7h0M395.9 1881.3h0M407.8 1870.2h0M395.4 1883.2h0M396.9 1867.7h0M406.9 1862.8h0M396.1 1881.3h0M393.0 1880.1h0M392.6 1881.0h0M394.2 1890.1h0M404.3 1866.7h0M393.2 1889.1h0M397.9 1880.4h0M398.2 1883.7h0M402.1 1871.2h0M401.9 1880.2h0M392.4 1887.9h0M397.9 1886.1h0M395.5 1881.7h0M397.8 1883.1h0M398.9 1879.6h0M391.6 1892.8h0M402.7 1863.4h0M391.8 1893.4h0M394.6 1875.7h0M394.7 1868.5h0M400.2 1876.0h0M397.4 1873.5h0M393.3 1889.9h0M401.5 1875.1h0M406.7 1864.6h0M397.0 1866.3h0M397.3 1879.7h0M396.3 1866.1h0M392.1 1893.9h0M410.1 1868.3h0M401.4 1881.2h0M399.7 1869.2h0M394.6 1865.3h0M402.0 1875.0h0M399.5 1872.4h0M391.7 1890.1h0M400.7 1869.7h0M392.1 1894.1h0M394.3 1875.9h0M403.6 1879.0h0M399.6 1879.6h0M394.2 1883.7h0M393.6 1879.6h0M392.7 1881.0h0M402.2 1876.0h0M393.7 1883.4h0M400.1 1874.1h0M393.5 1881.3h0M408.0 1872.3h0M393.5 1869.5h0M395.0 1883.9h0M394.9 1883.2h0M395.2 1862.9h0M403.4 1871.0h0M408.3 1870.4h0M394.7 1879.3h0M394.5 1864.4h0M393.6 1881.7h0M395.3 1880.7h0M404.2 1874.5h0M399.8 1878.0h0M403.7 1870.1h0M405.8 1876.2h0M407.9 1872.2h0M407.4 1866.9h0M400.4 1872.7h0M394.6 1884.6h0M394.8 1871.8h0M393.8 1878.9h0M391.7 1894.0h0M400.5 1866.3h0M391.6 1892.6h0M393.2 1869.3h0M393.1 1891.3h0M391.9 1893.2h0M398.7 1877.5h0M398.2 1884.2h0M407.4 1871.8h0M396.2 1884.7h0M391.6 1891.9h0M393.9 1872.8h0M396.9 1878.1h0M398.1 1883.1h0M396.7 1872.5h0M404.9 1873.5h0M393.5 1889.4h0M403.1 1873.6h0M391.7 1890.1h0M401.5 1885.5h0M398.6 1880.1h0M393.3 1890.4h0M392.1 1894.2h0M394.2 1878.4h0M397.8 1869.8h0M398.6 1877.7h0M392.0 1887.4h0M400.6 1863.8h0M392.3 1893.1h0M403.7 1874.1h0M398.4 1880.1h0M401.5 1879.5h0M406.5 1864.3h0M402.4 1873.4h0M397.4 1881.2h0M394.4 1871.3h0M395.5 1884.4h0M400.8 1881.3h0M394.0 1889.8h0M398.6 1872.4h0M406.8 1871.5h0M394.6 1887.4h0M391.5 1893.0h0M409.9 1868.9h0M394.4 1886.4h0M399.9 1881.8h0M411.1 1863.3h0M391.7 1892.5h0M392.1 1893.9h0M396.8 1883.8h0M403.4 1877.6h0M395.5 1879.9h0M391.5 1894.1h0M406.9 1864.5h0M392.0 1887.2h0M397.4 1884.0h0M394.2 1890.3h0M392.9 1887.8h0M397.3 1865.3h0M391.5 1894.0h0M394.3 1890.0h0M396.8 1876.0h0M396.2 1863.5h0M400.5 1876.0h0M391.6 1892.4h0M392.9 1889.3h0M392.6 1886.3h0M395.0 1887.8h0M399.2 1882.4h0M392.2 1889.9h0M395.7 1864.8h0M407.2 1864.9h0M392.9 1892.3h0M396.7 1886.4h0M399.4 1865.3h0M394.5 1874.6h0M391.8 1889.3h0M392.6 1881.8h0M396.8 1862.4h0M395.2 1872.2h0M404.3 1866.1h0M392.3 1885.0h0M405.8 1872.3h0M403.7 1868.7h0M404.3 1877.2h0M392.1 1894.1h0M402.4 1864.0h0M394.2 1888.1h0M398.7 1884.7h0M392.8 1886.3h0M399.2 1862.6h0M405.6 1882.2h0M395.4 1889.1h0M399.2 1865.7h0M397.8 1871.1h0M411.6 1864.0h0M393.6 1868.4h0M394.7 1881.4h0M396.5 1887.2h0M395.5 1883.6h0M396.5 1887.4h0M394.3 1873.9h0M391.7 1891.9h0M393.6 1872.6h0M396.1 1864.7h0M393.0 1885.6h0M422.9 1832.3h0M402.0 1858.9h0M423.8 1839.6h0M410.3 1837.6h0M398.9 1860.8h0M414.8 1832.1h0M412.7 1843.0h0M417.6 1839.4h0M407.2 1833.4h0M419.0 1840.9h0M404.9 1854.6h0M396.2 1852.3h0M422.1 1836.0h0M407.6 1832.1h0M411.8 1843.7h0M410.7 1859.1h0M412.4 1830.6h0M406.7 1852.4h0M420.1 1840.6h0M408.7 1847.7h0M410.7 1836.5h0M395.9 1862.2h0M403.2 1839.3h0M424.9 1832.2h0M399.8 1844.7h0M414.9 1846.1h0M395.7 1852.4h0M402.6 1848.8h0M411.5 1851.1h0M401.3 1850.5h0M414.0 1843.6h0M409.6 1844.1h0M417.2 1850.7h0M406.7 1846.0h0M396.0 1835.6h0M395.8 1850.7h0M413.2 1834.2h0M402.2 1860.7h0M415.3 1846.0h0M413.0 1846.5h0M412.6 1852.9h0M411.0 1841.2h0M413.1 1853.1h0M405.8 1848.9h0M403.2 1831.8h0M403.8 1844.5h0M394.5 1856.7h0M403.6 1851.2h0M405.5 1859.4h0M417.4 1843.3h0M398.4 1860.6h0M404.3 1839.9h0M406.4 1837.5h0M396.8 1854.6h0M415.7 1841.6h0M406.6 1833.9h0M415.2 1852.9h0M399.0 1836.4h0M409.9 1843.4h0M397.8 1837.7h0M412.7 1858.7h0M394.9 1857.2h0M408.2 1860.9h0M395.9 1835.2h0M407.0 1838.3h0M402.0 1831.3h0M397.9 1854.3h0M410.7 1845.0h0M408.6 1843.0h0M409.3 1844.4h0M416.4 1834.7h0M403.3 1838.8h0M402.2 1861.3h0M405.1 1847.1h0M416.2 1841.3h0M403.0 1852.1h0M399.0 1839.2h0M452.7 1836.3h0M405.1 1859.7h0M414.3 1849.7h0M396.8 1840.3h0M404.7 1845.1h0M395.6 1837.3h0M399.0 1853.8h0M398.4 1862.0h0M421.0 1837.7h0M401.6 1849.7h0M416.2 1832.2h0M398.3 1862.0h0M408.9 1848.9h0M396.8 1847.2h0M398.7 1849.5h0M405.3 1855.6h0M414.6 1851.6h0M411.8 1859.2h0M415.7 1850.9h0M396.5 1851.6h0M399.6 1840.1h0M394.3 1858.5h0M399.9 1833.2h0M404.9 1855.9h0M395.0 1850.4h0M407.8 1833.8h0M436.1 1831.3h0M400.7 1831.3h0M397.2 1838.8h0M396.0 1837.8h0M415.5 1850.1h0M424.2 1838.2h0M403.4 1858.9h0M410.0 1842.5h0M404.8 1855.7h0M397.7 1849.3h0M398.0 1858.8h0M407.8 1861.6h0M406.8 1857.4h0M407.8 1848.3h0M418.8 1838.0h0M404.0 1854.8h0M394.4 1858.7h0M404.9 1860.2h0M402.5 1847.9h0M407.3 1849.6h0M402.3 1846.3h0M398.8 1844.6h0M401.3 1853.4h0M394.8 1854.3h0M398.4 1831.2h0M411.8 1861.3h0M415.3 1842.0h0M412.5 1856.2h0M400.4 1839.2h0M404.7 1849.2h0M401.0 1837.3h0M406.4 1831.5h0M414.6 1850.4h0M399.2 1849.3h0M396.3 1834.1h0M417.3 1838.2h0M405.9 1831.5h0M395.9 1848.6h0M415.1 1834.8h0M417.9 1831.2h0M405.0 1843.8h0M401.3 1858.7h0M396.3 1854.0h0M411.9 1846.6h0M407.1 1848.0h0M401.7 1846.4h0M413.6 1840.8h0M416.8 1853.7h0M415.4 1846.7h0M396.9 1862.1h0M395.8 1839.1h0M395.6 1843.7h0M405.9 1856.1h0M430.2 1836.0h0M401.2 1844.9h0M402.9 1842.6h0M408.8 1854.0h0M417.7 1842.3h0M400.9 1858.4h0M397.4 1850.6h0M426.7 1854.4h0M402.7 1831.7h0M414.6 1834.2h0M418.3 1840.6h0M415.1 1856.6h0M410.5 1857.4h0M395.4 1852.5h0M410.8 1855.7h0M407.6 1855.3h0M415.2 1845.6h0M402.8 1843.1h0M400.5 1844.7h0M421.3 1836.1h0M417.0 1850.3h0M413.6 1861.0h0M412.5 1855.5h0M403.5 1853.8h0M404.1 1860.2h0M406.3 1860.7h0M412.6 1860.5h0M396.0 1858.9h0M419.0 1846.3h0M403.7 1848.5h0M420.1 1834.7h0M399.5 1838.7h0M395.5 1851.0h0M403.5 1859.0h0M401.2 1844.1h0M423.6 1831.6h0M409.0 1850.7h0M410.7 1831.6h0M398.9 1847.9h0M396.0 1854.2h0M415.1 1842.4h0M417.9 1835.5h0M402.2 1859.2h0M403.3 1833.2h0M403.1 1849.8h0M408.9 1849.8h0M404.0 1840.2h0M403.9 1836.1h0M403.4 1858.9h0M401.3 1848.6h0M395.7 1838.9h0M400.6 1847.9h0M403.8 1831.2h0M422.4 1841.8h0M397.8 1857.8h0M396.9 1859.0h0M399.3 1848.7h0M396.6 1844.2h0M413.3 1848.1h0M417.6 1835.4h0M397.1 1842.8h0M419.7 1832.6h0M418.2 1832.9h0M396.9 1845.3h0M397.7 1849.8h0M395.5 1856.6h0M411.9 1839.9h0M404.1 1842.3h0M409.4 1845.5h0M403.5 1833.2h0M405.2 1849.5h0M404.4 1846.4h0M398.1 1845.9h0M394.4 1852.3h0M400.9 1848.2h0M411.4 1848.3h0M421.3 1844.7h0M395.3 1848.2h0M405.0 1851.4h0M407.5 1856.1h0M421.9 1835.0h0M401.7 1845.9h0M406.4 1835.0h0M431.4 1832.0h0M397.1 1853.0h0M406.2 1843.2h0M413.2 1832.1h0M394.4 1855.9h0M408.5 1854.0h0M396.1 1844.3h0M396.8 1859.4h0M414.5 1859.4h0M413.2 1858.7h0M401.1 1832.3h0M410.2 1832.9h0M417.2 1831.5h0M407.4 1849.3h0M398.9 1858.0h0M402.9 1841.0h0M410.9 1850.4h0M400.4 1848.0h0M396.5 1858.2h0M405.6 1858.3h0M403.9 1857.3h0M407.3 1834.3h0M418.6 1838.8h0M400.3 1840.7h0M413.2 1847.9h0M419.3 1837.8h0M397.8 1851.4h0M397.5 1858.4h0M411.9 1849.6h0M395.5 1840.0h0M399.9 1840.4h0M403.1 1830.9h0M408.9 1842.6h0M394.7 1859.8h0M400.5 1848.6h0M404.0 1835.1h0M413.7 1802.5h0M433.2 1800.6h0M410.7 1826.1h0M415.1 1808.5h0M432.2 1811.6h0M429.2 1821.6h0M429.3 1825.0h0M414.4 1825.7h0M401.2 1814.2h0M406.1 1804.7h0M405.9 1802.1h0M436.2 1801.8h0M432.4 1801.6h0M405.2 1823.2h0M422.4 1804.9h0M408.6 1798.5h0M402.7 1819.3h0M415.9 1815.0h0M428.6 1822.6h0M430.4 1817.5h0M423.4 1810.3h0M420.3 1827.6h0M407.2 1801.6h0M409.6 1814.5h0M412.2 1830.0h0M415.5 1823.4h0M411.7 1801.2h0M408.7 1803.6h0M442.6 1800.4h0M422.0 1814.1h0M411.7 1807.6h0M426.6 1823.8h0M402.3 1819.3h0M401.2 1810.9h0M431.3 1801.1h0M402.7 1820.3h0M413.5 1827.6h0M428.8 1821.4h0M414.0 1827.5h0M398.5 1808.3h0M422.4 1828.5h0M426.3 1813.0h0M408.9 1815.4h0M435.5 1805.6h0M413.1 1821.0h0M406.0 1816.7h0M417.8 1809.2h0M398.5 1804.0h0M403.5 1822.6h0M423.5 1799.6h0M409.5 1815.4h0M409.4 1806.8h0M399.5 1814.5h0M415.1 1820.3h0M433.0 1812.3h0M412.7 1810.4h0M428.3 1799.6h0M398.1 1814.8h0M422.7 1803.4h0M427.7 1798.8h0M405.8 1805.1h0M428.2 1819.9h0M412.1 1818.0h0M436.7 1802.3h0M419.8 1829.6h0M423.9 1815.9h0M421.6 1801.1h0M423.0 1829.2h0M425.9 1810.2h0M417.1 1814.8h0M427.4 1816.6h0M420.7 1806.5h0M398.7 1804.6h0M418.4 1809.1h0M409.5 1827.8h0M417.6 1803.7h0M415.4 1803.8h0M414.5 1814.4h0M422.2 1803.7h0M407.1 1824.1h0M426.3 1816.3h0M399.6 1814.6h0M397.9 1818.3h0M419.5 1807.5h0M404.3 1799.4h0M415.6 1825.7h0M424.2 1815.0h0M422.0 1810.8h0M415.7 1828.4h0M432.1 1803.6h0M423.1 1826.8h0M408.8 1826.4h0M426.9 1826.7h0M399.5 1823.8h0M413.4 1801.7h0M402.5 1820.8h0M409.0 1817.7h0M424.1 1814.2h0M431.9 1803.5h0M400.7 1800.1h0M422.4 1818.2h0M403.6 1820.8h0M416.9 1824.7h0M397.5 1823.2h0M417.0 1810.0h0M403.4 1817.6h0M435.0 1803.8h0M410.5 1816.8h0M405.6 1801.5h0M420.6 1810.0h0M424.7 1809.0h0M424.5 1819.0h0M415.5 1803.8h0M424.4 1804.1h0M435.3 1798.7h0M415.5 1800.1h0M434.5 1810.6h0M435.4 1808.6h0M407.8 1827.7h0M397.5 1823.5h0M403.8 1802.4h0M411.1 1804.8h0M434.7 1805.2h0M415.8 1827.3h0M434.2 1813.5h0M404.6 1799.5h0M404.7 1802.4h0M403.7 1798.6h0M404.2 1809.9h0M411.8 1806.8h0M418.2 1826.5h0M407.9 1817.4h0M436.1 1805.3h0M422.7 1822.4h0M428.6 1816.8h0M398.9 1827.7h0M405.5 1816.7h0M399.8 1822.1h0M428.9 1808.9h0M429.8 1800.9h0M417.0 1805.8h0M426.7 1814.1h0M406.0 1810.1h0M427.3 1814.6h0M398.7 1816.0h0M410.1 1800.5h0M414.6 1813.9h0M428.0 1816.5h0M407.2 1828.9h0M420.7 1822.9h0M411.3 1803.4h0M411.3 1828.3h0M406.5 1823.9h0M421.4 1802.5h0M397.4 1802.1h0M416.6 1815.7h0M410.1 1809.1h0M424.4 1823.5h0M409.8 1812.9h0M429.6 1815.2h0M434.2 1807.6h0M408.3 1804.9h0M414.3 1823.8h0M399.1 1800.1h0M411.3 1805.3h0M423.6 1817.8h0M434.0 1798.9h0M428.8 1818.0h0M412.7 1807.7h0M396.7 1825.6h0M412.3 1798.7h0M426.1 1799.3h0M410.1 1798.8h0M427.8 1805.5h0M413.6 1828.2h0M413.8 1820.8h0M400.2 1829.6h0M426.3 1814.1h0M407.4 1810.6h0M427.8 1799.1h0M415.9 1821.3h0M416.1 1811.3h0M430.6 1798.7h0M415.8 1808.9h0M406.2 1803.4h0M421.8 1800.0h0M424.6 1829.2h0M425.9 1811.0h0M397.0 1814.2h0M397.4 1814.1h0M430.5 1809.7h0M443.0 1826.8h0M435.6 1811.2h0M422.3 1825.7h0M431.5 1814.9h0M427.9 1812.7h0M429.2 1804.1h0M426.4 1825.7h0M429.3 1798.7h0M407.8 1803.8h0M420.7 1829.6h0M400.1 1802.9h0M422.2 1814.2h0M428.4 1798.5h0M408.4 1816.6h0M402.6 1830.0h0M434.2 1805.1h0M406.1 1814.8h0M396.2 1827.0h0M396.6 1825.7h0M425.8 1809.9h0M409.0 1807.3h0M400.8 1825.9h0M403.2 1828.5h0M423.2 1823.6h0M416.7 1826.9h0M408.1 1817.8h0M429.1 1813.1h0M424.4 1823.6h0M413.0 1802.4h0M398.2 1800.1h0M424.5 1818.4h0M427.3 1825.0h0M431.4 1804.1h0M405.2 1823.2h0M429.6 1806.8h0M422.2 1804.2h0M415.4 1828.1h0M400.7 1829.2h0M412.7 1823.3h0M408.1 1828.4h0M421.2 1825.4h0M406.1 1799.5h0M413.2 1812.6h0M421.9 1828.6h0M427.3 1829.4h0M422.7 1802.4h0M400.1 1819.2h0M424.5 1822.9h0M425.2 1816.2h0M423.2 1810.2h0M397.1 1822.1h0M427.0 1827.9h0M427.3 1826.6h0M404.6 1801.5h0M428.9 1818.8h0M411.0 1816.3h0M398.5 1823.6h0M402.8 1825.8h0M421.8 1805.9h0M429.5 1823.8h0M428.0 1827.3h0M412.2 1820.0h0M406.8 1826.9h0M418.9 1820.9h0M405.5 1813.3h0M407.1 1825.8h0M418.0 1812.1h0M423.9 1811.7h0M416.5 1815.3h0M396.5 1821.7h0M419.6 1806.8h0M436.5 1803.3h0M397.6 1820.3h0M413.9 1797.0h0M402.7 1767.5h0M417.7 1772.7h0M409.9 1769.9h0M403.3 1777.9h0M429.2 1797.5h0M400.7 1783.2h0M430.9 1797.0h0M427.0 1792.9h0M434.2 1796.5h0M400.6 1783.7h0M409.9 1784.1h0M419.3 1793.5h0M421.8 1770.3h0M399.7 1787.5h0M421.6 1769.7h0M412.7 1786.8h0M443.4 1766.8h0M407.7 1798.4h0M401.7 1780.6h0M408.0 1769.2h0M412.5 1775.3h0M410.5 1777.3h0M426.6 1767.0h0M407.9 1794.1h0M403.5 1794.0h0M404.8 1789.2h0M405.7 1772.2h0M439.8 1788.9h0M433.8 1775.3h0M438.1 1777.2h0M402.2 1780.0h0M414.5 1797.6h0M421.5 1793.0h0M421.8 1768.4h0M399.9 1797.1h0M408.7 1789.4h0M418.9 1795.8h0M430.1 1786.7h0M414.1 1793.3h0M423.8 1783.6h0M435.2 1769.3h0M442.5 1777.6h0M434.5 1767.9h0M411.1 1795.0h0M405.4 1779.8h0M411.9 1772.8h0M427.9 1778.5h0M402.9 1782.3h0M437.2 1795.2h0M403.3 1788.0h0M411.2 1767.5h0M406.5 1782.9h0M408.5 1795.4h0M420.7 1778.0h0M439.4 1796.4h0M434.5 1793.9h0M416.4 1791.0h0M413.9 1795.9h0M426.0 1792.4h0M424.7 1792.9h0M433.2 1782.7h0M412.8 1789.6h0M408.0 1768.4h0M440.6 1784.9h0M400.2 1782.9h0M400.6 1775.3h0M416.2 1787.0h0M422.8 1771.9h0M401.5 1783.4h0M422.9 1791.6h0M408.5 1789.8h0M410.2 1776.0h0M427.6 1767.5h0M433.9 1782.3h0M416.1 1771.4h0M432.1 1786.9h0M429.3 1790.3h0M401.0 1777.5h0M400.6 1790.9h0M425.3 1795.9h0M399.1 1783.8h0M400.3 1798.4h0M410.1 1785.7h0M413.3 1778.5h0M435.6 1791.0h0M430.2 1797.9h0M419.6 1781.9h0M408.3 1770.7h0M401.0 1775.9h0M432.7 1774.1h0M414.0 1773.8h0M402.0 1789.1h0M440.6 1770.5h0M443.8 1784.0h0M427.2 1767.9h0M398.9 1791.5h0M409.5 1796.1h0M412.1 1782.5h0M429.8 1782.1h0M438.3 1768.7h0M404.1 1779.8h0M438.7 1779.5h0M415.7 1781.7h0M398.6 1798.4h0M417.2 1766.9h0M403.4 1786.9h0M417.3 1786.5h0M411.1 1773.2h0M430.9 1770.9h0M419.0 1795.2h0M433.4 1794.3h0M413.3 1776.2h0M419.7 1774.4h0M402.9 1794.7h0M438.1 1793.5h0M426.6 1779.9h0M405.0 1778.4h0M427.5 1792.1h0M404.9 1770.6h0M401.3 1787.6h0M403.6 1786.5h0M398.5 1789.4h0M413.7 1775.6h0M444.7 1780.9h0M406.9 1775.0h0M441.1 1779.2h0M415.9 1795.7h0M441.7 1778.1h0M408.7 1793.3h0M435.9 1792.3h0M399.7 1780.6h0M409.2 1781.7h0M432.6 1787.6h0M402.8 1777.1h0M412.1 1788.9h0M410.4 1795.5h0M411.0 1787.9h0M439.1 1785.7h0M424.4 1781.3h0M399.7 1791.1h0M401.1 1773.4h0M485.3 1767.8h0M408.6 1795.3h0M437.7 1768.2h0M426.4 1790.2h0M410.4 1786.0h0M402.2 1776.4h0M455.0 1789.2h0M436.2 1789.1h0M403.5 1797.0h0M411.8 1775.5h0M415.9 1784.7h0M424.1 1772.0h0M448.2 1766.7h0M446.1 1769.1h0M433.8 1782.9h0M429.9 1774.4h0M399.8 1788.2h0M436.7 1770.5h0M433.9 1795.0h0M420.2 1782.1h0M429.7 1782.4h0M409.0 1768.3h0M402.6 1771.9h0M461.5 1771.9h0M445.7 1770.6h0M442.9 1774.3h0M449.6 1783.1h0M403.4 1793.2h0M406.9 1790.6h0M408.1 1785.9h0M402.1 1780.4h0M442.3 1767.7h0M409.4 1797.5h0M417.5 1769.4h0M426.5 1786.4h0M400.1 1782.4h0M415.7 1775.7h0M400.9 1797.1h0M417.2 1789.9h0M434.5 1774.5h0M437.7 1791.4h0M424.0 1795.7h0M403.6 1792.9h0M403.1 1798.0h0M403.7 1769.9h0M407.5 1781.0h0M420.8 1776.0h0M430.7 1796.9h0M429.0 1773.0h0M415.8 1784.2h0M404.8 1791.4h0M443.6 1773.0h0M411.2 1788.6h0M406.4 1797.4h0M411.8 1793.9h0M440.5 1793.5h0M404.2 1787.6h0M425.4 1789.7h0M403.9 1797.0h0M412.6 1794.4h0M408.8 1767.1h0M403.5 1767.2h0M442.2 1769.2h0M417.7 1773.3h0M409.3 1792.9h0M444.5 1776.3h0M425.7 1789.0h0M400.8 1795.0h0M404.2 1796.5h0M414.2 1792.0h0M428.8 1775.8h0M416.8 1794.1h0M423.3 1774.6h0M429.5 1767.3h0M415.5 1782.8h0M415.7 1777.9h0M406.3 1770.6h0M417.5 1790.0h0M444.4 1769.7h0M427.0 1778.5h0M414.0 1783.9h0M405.9 1781.9h0M436.1 1793.8h0M425.2 1776.5h0M411.6 1770.5h0M424.0 1779.0h0M441.4 1785.7h0M441.3 1785.4h0M419.8 1795.4h0M424.8 1774.1h0M422.1 1789.1h0M417.5 1797.9h0M448.1 1769.7h0M415.2 1792.7h0M442.9 1784.6h0M406.3 1763.3h0M439.2 1736.1h0M415.1 1741.9h0M448.1 1741.6h0M438.0 1750.4h0M444.7 1743.7h0M415.5 1754.3h0M406.7 1739.5h0M435.2 1761.3h0M416.4 1755.5h0M431.5 1762.6h0M409.1 1753.2h0M417.3 1738.9h0M425.8 1743.4h0M435.9 1735.5h0M434.9 1735.4h0M412.1 1736.2h0M427.0 1744.7h0M406.2 1761.2h0M406.1 1755.7h0M455.1 1738.4h0M424.9 1744.9h0M434.4 1759.8h0M429.5 1756.0h0M417.5 1747.0h0M419.8 1756.1h0M404.5 1762.8h0M437.6 1756.0h0M413.0 1741.4h0M426.0 1741.0h0M473.0 1745.7h0M406.5 1737.7h0M420.1 1764.5h0M443.8 1763.9h0M447.0 1747.4h0M412.3 1758.8h0M418.6 1750.7h0M430.2 1734.8h0M420.1 1759.3h0M430.4 1762.4h0M408.3 1743.5h0M424.1 1738.3h0M416.0 1761.6h0M424.5 1766.2h0M425.9 1755.2h0M431.8 1763.4h0M427.3 1753.9h0M432.4 1758.3h0M414.7 1743.9h0M439.0 1752.2h0M418.2 1734.7h0M410.4 1765.3h0M416.0 1762.4h0M407.8 1764.4h0M426.0 1745.4h0M405.4 1752.9h0M439.1 1760.5h0M434.1 1753.3h0M408.4 1759.1h0M408.2 1746.8h0M439.2 1750.7h0M403.1 1765.4h0M413.5 1764.4h0M439.2 1760.7h0M405.5 1749.3h0M449.3 1738.4h0M434.4 1763.7h0M410.1 1753.3h0M410.4 1752.6h0M407.7 1745.6h0M439.4 1754.7h0M446.3 1751.1h0M449.3 1749.7h0M412.2 1740.1h0M444.1 1740.0h0M427.8 1746.1h0M405.9 1734.8h0M411.8 1753.6h0M406.4 1766.1h0M436.5 1738.6h0M438.0 1742.6h0M443.1 1752.9h0M408.9 1756.9h0M441.8 1748.5h0M428.4 1766.1h0M410.4 1766.4h0M421.9 1743.3h0M404.4 1751.1h0M449.6 1746.2h0M422.0 1761.4h0M417.4 1736.1h0M426.7 1761.7h0M443.7 1761.9h0M434.9 1752.7h0M409.4 1750.8h0M414.9 1749.7h0M409.7 1745.5h0M424.2 1739.1h0M445.0 1735.0h0M406.4 1752.1h0M449.4 1751.8h0M441.1 1759.0h0M411.8 1744.1h0M417.3 1750.0h0M429.3 1752.0h0M410.2 1755.5h0M439.0 1751.4h0M428.1 1746.6h0M435.1 1740.1h0M450.9 1747.5h0M418.6 1742.7h0M422.7 1753.6h0M422.8 1747.9h0M435.5 1737.3h0M433.0 1751.2h0M407.1 1761.3h0M448.3 1741.8h0M429.4 1748.1h0M430.8 1756.8h0M448.2 1760.0h0M413.5 1758.4h0M408.0 1740.1h0M428.3 1745.9h0M447.5 1749.7h0M405.5 1760.4h0M406.5 1741.3h0M434.7 1750.7h0M429.8 1757.1h0M421.1 1745.0h0M437.5 1744.4h0M448.9 1761.1h0M406.3 1738.8h0M430.3 1753.8h0M451.5 1759.2h0M416.9 1757.1h0M407.9 1736.4h0M403.9 1751.8h0M432.7 1745.7h0M421.0 1750.2h0M419.6 1734.6h0M441.1 1743.2h0M406.1 1739.9h0M404.2 1755.4h0M430.8 1737.0h0M414.2 1741.4h0M421.8 1742.6h0M425.8 1739.6h0M436.6 1751.7h0M425.8 1745.1h0M444.3 1738.7h0M407.7 1757.0h0M423.8 1738.8h0M427.8 1741.0h0M437.2 1740.3h0M439.3 1745.0h0M406.6 1754.0h0M424.8 1747.3h0M450.2 1737.6h0M419.2 1742.2h0M406.7 1748.5h0M418.9 1758.8h0M411.5 1738.3h0M434.9 1749.8h0M448.2 1759.5h0M442.7 1755.3h0M434.6 1754.1h0M451.2 1747.7h0M414.4 1765.9h0M431.4 1759.2h0M425.9 1763.9h0M430.2 1736.0h0M421.9 1753.5h0M447.6 1752.7h0M410.0 1743.8h0M436.4 1746.9h0M426.9 1748.0h0M422.2 1748.5h0M412.5 1757.0h0M420.2 1745.4h0M450.9 1754.7h0M449.2 1740.4h0M413.3 1756.5h0M423.3 1750.3h0M444.9 1765.0h0M418.9 1764.6h0M428.0 1746.9h0M445.7 1764.7h0M440.1 1736.0h0M447.8 1758.9h0M435.8 1749.3h0M441.1 1755.3h0M434.4 1766.1h0M419.0 1739.7h0M443.9 1745.2h0M420.6 1766.4h0M421.2 1754.4h0M435.6 1742.5h0M440.0 1747.4h0M424.6 1747.9h0M413.7 1762.0h0M447.6 1763.7h0M415.8 1736.4h0M413.1 1756.2h0M448.7 1758.2h0M425.2 1756.1h0M404.1 1747.1h0M406.8 1752.8h0M423.2 1752.0h0M433.6 1756.0h0M425.9 1757.1h0M408.6 1745.6h0M428.2 1757.0h0M408.2 1748.6h0M446.8 1746.5h0M423.8 1750.7h0M446.0 1739.3h0M447.1 1735.3h0M430.5 1751.0h0M419.8 1752.3h0M414.5 1736.8h0M416.8 1720.1h0M437.1 1715.3h0M428.9 1710.6h0M407.2 1729.5h0M411.8 1711.6h0M451.0 1709.2h0M442.4 1722.3h0M444.8 1712.4h0M409.3 1709.5h0M410.9 1724.7h0M418.3 1713.3h0M438.7 1726.5h0M433.1 1714.6h0M413.8 1728.1h0M445.4 1715.9h0M420.8 1726.7h0M452.2 1728.6h0M412.0 1703.4h0M432.6 1732.0h0M418.2 1717.7h0M440.2 1716.3h0M432.8 1709.2h0M415.6 1727.3h0M439.9 1702.6h0M431.1 1702.9h0M423.7 1718.4h0M409.3 1714.9h0M408.0 1722.6h0M450.8 1724.9h0M434.0 1716.3h0M411.0 1727.6h0M416.5 1717.5h0M411.5 1718.6h0M415.5 1724.4h0M431.6 1731.5h0M425.7 1715.7h0M460.6 1704.0h0M410.6 1707.5h0M438.9 1730.3h0M434.4 1725.0h0M453.9 1719.6h0M422.8 1714.5h0M425.8 1718.6h0M417.6 1712.9h0M439.3 1733.5h0M454.0 1716.5h0M433.4 1712.7h0M409.0 1704.8h0M440.4 1726.6h0M451.2 1732.9h0M422.2 1716.7h0M409.7 1717.1h0M443.3 1714.3h0M443.4 1730.0h0M451.1 1724.9h0M425.6 1704.6h0M419.3 1706.6h0M442.7 1712.5h0M435.0 1708.8h0M419.2 1722.5h0M415.4 1705.1h0M413.8 1732.7h0M410.8 1729.7h0M405.7 1732.4h0M415.6 1729.0h0M412.0 1708.3h0M441.3 1706.9h0M419.3 1712.5h0M418.5 1715.1h0M440.3 1710.1h0M418.9 1712.1h0M415.3 1704.2h0M479.9 1705.7h0M430.9 1728.6h0M410.9 1712.4h0M411.2 1709.3h0M425.1 1711.1h0M479.1 1707.9h0M426.8 1711.7h0M450.1 1708.1h0M412.3 1712.5h0M438.1 1718.8h0M413.0 1723.6h0M504.3 1706.6h0M443.2 1732.5h0M451.4 1719.0h0M439.3 1729.2h0M429.6 1731.6h0M411.6 1725.7h0M414.6 1720.1h0M424.1 1706.6h0M426.5 1714.0h0M419.3 1729.6h0M431.1 1702.9h0M441.8 1729.6h0M423.4 1713.8h0M441.0 1715.8h0M421.5 1725.6h0M438.0 1702.7h0M450.6 1718.4h0M453.1 1716.1h0M430.4 1711.6h0M416.4 1733.7h0M458.4 1726.3h0M415.9 1716.0h0M426.8 1724.7h0M432.5 1727.2h0M428.8 1716.9h0M411.2 1723.9h0M422.9 1710.1h0M417.4 1713.0h0M453.2 1714.0h0M413.4 1733.9h0M449.9 1721.8h0M450.0 1733.8h0M430.6 1714.5h0M415.8 1732.2h0M431.6 1704.8h0M447.9 1731.0h0M438.9 1710.6h0M436.6 1711.5h0M411.7 1720.2h0M453.6 1723.9h0M426.4 1710.6h0M417.4 1712.5h0M415.6 1733.3h0M439.7 1718.8h0M412.5 1725.1h0M414.2 1726.1h0M442.0 1710.4h0M421.4 1715.4h0M427.4 1708.7h0M430.9 1719.3h0M433.9 1719.3h0M464.1 1720.4h0M411.3 1718.1h0M436.9 1733.7h0M428.0 1732.3h0M451.4 1730.2h0M443.9 1715.7h0M408.6 1708.5h0M409.6 1724.2h0M446.9 1720.7h0M449.4 1727.2h0M436.4 1715.1h0M437.2 1732.9h0M452.6 1729.7h0M413.8 1708.5h0M406.3 1723.2h0M408.4 1702.8h0M412.5 1714.6h0M453.4 1725.1h0M445.6 1714.2h0M409.5 1703.7h0M416.1 1733.4h0M504.2 1704.8h0M411.6 1710.0h0M463.7 1704.8h0M444.0 1709.0h0M408.8 1702.9h0M419.1 1728.9h0M441.5 1711.9h0M417.8 1731.6h0M449.1 1719.5h0M455.0 1704.6h0M411.8 1706.3h0M474.3 1715.0h0M409.3 1721.1h0M409.2 1707.1h0M446.7 1721.3h0M453.0 1733.8h0M425.9 1727.4h0M420.1 1716.8h0M449.3 1719.7h0M428.1 1703.6h0M422.5 1721.4h0M421.0 1718.5h0M408.3 1725.1h0M406.1 1726.7h0M417.4 1733.0h0M455.2 1729.7h0M449.4 1704.0h0M447.4 1722.4h0M406.3 1727.3h0M436.2 1716.8h0M411.8 1719.3h0M442.3 1711.8h0M441.1 1671.3h0M414.8 1694.7h0M433.9 1684.6h0M438.3 1691.9h0M415.5 1674.8h0M451.6 1695.3h0M413.5 1681.0h0M432.3 1692.5h0M420.7 1675.2h0M413.8 1700.7h0M415.4 1678.2h0M423.9 1681.0h0M427.4 1674.3h0M429.7 1701.9h0M442.8 1691.3h0M422.4 1699.1h0M440.6 1678.7h0M413.8 1673.6h0M452.9 1682.9h0M452.0 1701.8h0M413.1 1680.8h0M439.1 1681.4h0M445.8 1680.0h0M411.4 1685.2h0M424.9 1672.4h0M448.7 1700.7h0M429.2 1677.1h0M440.0 1683.5h0M445.7 1674.1h0M413.5 1681.0h0M411.3 1702.3h0M453.1 1676.8h0M453.8 1681.8h0M427.2 1698.1h0M454.3 1683.1h0M412.5 1684.6h0M417.1 1674.1h0M416.3 1675.7h0M410.0 1671.8h0M427.5 1674.7h0M435.3 1690.3h0M420.4 1681.2h0M417.9 1701.6h0M428.3 1677.0h0M453.2 1681.7h0M449.7 1670.8h0M419.3 1694.0h0M411.8 1700.7h0M417.1 1696.9h0M412.0 1671.9h0M486.9 1677.3h0M423.4 1692.8h0M427.8 1671.9h0M424.4 1671.2h0M428.5 1677.5h0M445.6 1683.7h0M411.2 1694.5h0M411.9 1682.3h0M442.5 1697.0h0M413.6 1699.3h0M451.9 1698.3h0M415.8 1701.8h0M427.4 1696.4h0M445.5 1679.8h0M433.6 1679.9h0M420.7 1676.0h0M413.0 1694.6h0M430.1 1700.8h0M418.3 1684.8h0M428.9 1679.7h0M440.1 1691.8h0M447.8 1680.6h0M463.3 1672.0h0M418.5 1698.3h0M471.5 1685.0h0M411.6 1684.5h0M410.4 1700.5h0M429.6 1672.8h0M419.4 1701.8h0M431.8 1673.7h0M415.6 1690.7h0M412.6 1674.0h0M423.3 1682.0h0M455.5 1672.8h0M417.2 1683.3h0M414.9 1699.5h0M446.0 1690.7h0M446.3 1690.4h0M440.5 1684.5h0M480.1 1701.0h0M441.6 1680.9h0M433.0 1670.7h0M428.4 1691.2h0M479.1 1679.6h0M448.1 1674.7h0M410.4 1693.1h0M416.6 1681.4h0M445.9 1690.8h0M425.3 1673.2h0M412.3 1696.1h0M414.2 1682.0h0M449.3 1701.9h0M416.2 1687.3h0M414.2 1697.2h0M416.2 1694.7h0M459.5 1681.5h0M422.9 1698.7h0M424.3 1692.1h0M429.2 1687.5h0M441.9 1701.1h0M411.6 1695.9h0M425.8 1681.7h0M452.2 1679.4h0M436.3 1684.0h0M426.7 1692.2h0M422.4 1689.7h0M412.8 1686.5h0M415.2 1682.5h0M446.2 1676.5h0M436.5 1689.7h0M440.8 1691.9h0M446.0 1695.3h0M433.8 1679.1h0M424.7 1673.3h0M421.6 1681.2h0M449.6 1681.2h0M417.6 1697.4h0M441.0 1691.7h0M454.2 1684.8h0M424.1 1676.2h0M433.3 1678.1h0M429.3 1699.9h0M435.6 1654.7h0M418.5 1658.5h0M451.3 1640.5h0M441.7 1669.2h0M412.3 1657.7h0M458.2 1645.7h0M416.2 1658.5h0M431.3 1664.4h0M434.6 1669.8h0M411.5 1664.3h0M415.7 1655.1h0M449.1 1661.0h0M420.3 1656.0h0M445.8 1656.1h0M456.1 1639.2h0M415.5 1670.5h0M412.4 1668.9h0M424.1 1649.2h0M424.1 1638.7h0M418.3 1669.8h0M413.8 1642.6h0M459.6 1667.7h0M420.9 1666.6h0M413.8 1663.0h0M418.1 1669.0h0M445.8 1655.0h0M431.5 1650.6h0M488.8 1666.3h0M448.4 1647.3h0M454.8 1639.1h0M415.3 1656.3h0M437.1 1670.1h0M435.6 1665.1h0M434.8 1649.8h0M445.3 1638.9h0M460.0 1664.4h0M453.3 1668.3h0M414.8 1656.2h0M434.9 1647.3h0M440.0 1647.3h0M416.5 1662.1h0M413.7 1659.8h0M443.4 1650.3h0M416.7 1666.6h0M424.1 1644.5h0M447.9 1656.6h0M421.3 1667.6h0M453.2 1663.1h0M461.3 1668.4h0M416.9 1654.7h0M414.6 1657.9h0M414.9 1659.8h0M420.1 1643.6h0M413.3 1668.1h0M425.1 1654.4h0M419.9 1654.4h0M429.2 1643.1h0M446.2 1661.1h0M428.7 1663.7h0M457.7 1649.4h0M448.8 1662.9h0M427.8 1669.6h0M415.6 1668.0h0M444.6 1667.0h0M454.7 1653.9h0M440.7 1651.9h0M434.5 1644.7h0M417.9 1644.7h0M414.2 1669.2h0M417.0 1659.2h0M435.6 1665.0h0M448.4 1645.7h0M418.6 1656.0h0M432.2 1667.8h0M420.3 1647.0h0M455.4 1648.0h0M430.3 1659.3h0M416.9 1648.4h0M428.4 1668.4h0M433.5 1667.2h0M425.7 1651.3h0M447.0 1667.6h0M441.7 1651.1h0M440.0 1655.0h0M432.5 1643.4h0M455.1 1670.3h0M416.7 1667.4h0M442.5 1632.1h0M430.8 1629.3h0M434.1 1606.6h0M451.8 1637.7h0M426.5 1615.1h0M418.9 1632.0h0M445.7 1634.8h0M445.1 1626.2h0M417.6 1628.5h0M420.4 1634.9h0M441.8 1612.0h0M425.7 1610.5h0M431.4 1625.5h0M423.9 1633.8h0M449.7 1637.3h0M450.5 1632.4h0M415.9 1615.0h0M437.6 1625.9h0M439.7 1619.8h0M432.5 1615.8h0M445.6 1622.9h0M421.5 1617.4h0M418.8 1623.5h0M424.1 1618.5h0M431.6 1634.7h0M418.1 1613.6h0M454.5 1620.9h0M435.9 1632.0h0M447.5 1624.5h0M446.5 1613.6h0M445.6 1624.1h0M426.0 1618.3h0M458.1 1628.3h0M439.3 1623.1h0M432.8 1620.2h0M423.8 1637.5h0M435.5 1633.9h0M436.7 1612.1h0M425.5 1627.7h0M423.2 1616.6h0M446.4 1627.7h0M429.3 1636.1h0M418.0 1633.2h0M437.7 1637.6h0M432.7 1626.2h0M430.5 1632.2h0M416.5 1613.3h0M446.5 1636.8h0M429.0 1615.6h0M419.5 1617.0h0M433.6 1590.8h0M436.3 1591.4h0M432.1 1600.7h0M421.0 1581.6h0M426.4 1600.3h0M431.8 1586.5h0M423.8 1582.6h0M422.6 1576.8h0M426.3 1605.0h0M416.5 1589.2h0M420.7 1578.2h0M417.9 1603.3h0M418.3 1591.9h0M436.7 1581.7h0M421.3 1586.8h0M420.8 1595.9h0M441.3 1587.4h0M418.7 1581.0h0M431.6 1577.0h0M423.5 1602.1h0M416.2 1579.5h0M427.0 1585.8h0M419.2 1589.4h0M418.3 1592.4h0M418.9 1590.2h0M428.2 1591.8h0M427.6 1585.1h0M438.9 1577.3h0M419.6 1598.9h0M424.7 1573.7h0M436.0 1545.4h0M432.3 1544.8h0M422.2 1561.6h0M422.8 1544.7h0M423.1 1557.6h0M424.7 1565.7h0M420.0 1571.6h0M438.5 1552.7h0M420.1 1565.8h0M422.8 1552.3h0M433.9 1550.3h0M419.2 1556.0h0M420.3 1531.6h0M424.9 1530.3h0M427.5 1527.6h0M425.5 1537.3h0M422.4 1448.4h0M430.4 1519.3h0" stroke="#a6a6a6" stroke-width="5.6" stroke-linecap="round" fill="none"/>
<g fill="#ff0000"><circle cx="201.6" cy="1346.4" r="6.9"/><circle cx="278.4" cy="1335.5" r="6.9"/><circle cx="315.6" cy="1333.7" r="6.9"/><circle cx="297.1" cy="1363.3" r="6.9"/><circle cx="351.1" cy="1372.7" r="6.9"/><circle cx="247.2" cy="1398.8" r="6.9"/><circle cx="272.0" cy="1406.4" r="6.9"/><circle cx="308.0" cy="1406.4" r="6.9"/><circle cx="171.7" cy="1422.1" r="6.9"/><circle cx="314.4" cy="1420.9" r="6.9"/><circle cx="315.6" cy="1442.4" r="6.9"/><circle cx="202.6" cy="1450.2" r="6.9"/><circle cx="287.2" cy="1450.2" r="6.9"/><circle cx="263.3" cy="1473.1" r="6.9"/><circle cx="299.0" cy="1480.2" r="6.9"/><circle cx="315.7" cy="1475.3" r="6.9"/><circle cx="323.6" cy="1475.8" r="6.9"/><circle cx="331.5" cy="1485.4" r="6.9"/><circle cx="305.9" cy="1482.7" r="6.9"/><circle cx="299.0" cy="1489.6" r="6.9"/><circle cx="305.9" cy="1490.5" r="6.9"/><circle cx="302.4" cy="1495.0" r="6.9"/><circle cx="323.6" cy="1499.4" r="6.9"/><circle cx="258.6" cy="1499.4" r="6.9"/><circle cx="253.6" cy="1504.3" r="6.9"/><circle cx="297.0" cy="1509.8" r="6.9"/><circle cx="286.2" cy="1516.2" r="6.9"/><circle cx="314.2" cy="1515.7" r="6.9"/><circle cx="322.6" cy="1522.1" r="6.9"/><circle cx="324.6" cy="1528.0" r="6.9"/><circle cx="335.9" cy="1528.5" r="6.9"/><circle cx="345.3" cy="1530.0" r="6.9"/><circle cx="241.3" cy="1527.0" r="6.9"/><circle cx="325.1" cy="1543.7" r="6.9"/><circle cx="329.5" cy="1546.7" r="6.9"/><circle cx="304.9" cy="1550.1" r="6.9"/><circle cx="324.6" cy="1557.5" r="6.9"/><circle cx="337.4" cy="1557.5" r="6.9"/><circle cx="176.3" cy="1517.9" r="6.9"/><circle cx="210.5" cy="1527.3" r="6.9"/><circle cx="109.9" cy="1535.1" r="6.9"/><circle cx="306.4" cy="1563.3" r="6.9"/><circle cx="284.7" cy="1567.7" r="6.9"/><circle cx="333.4" cy="1566.7" r="6.9"/><circle cx="267.9" cy="1576.6" r="6.9"/><circle cx="315.7" cy="1575.6" r="6.9"/><circle cx="328.5" cy="1577.6" r="6.9"/><circle cx="308.3" cy="1586.0" r="6.9"/><circle cx="334.4" cy="1592.4" r="6.9"/><circle cx="260.0" cy="1593.3" r="6.9"/><circle cx="271.4" cy="1596.8" r="6.9"/><circle cx="324.6" cy="1598.3" r="6.9"/><circle cx="332.5" cy="1602.2" r="6.9"/><circle cx="257.6" cy="1609.1" r="6.9"/><circle cx="266.0" cy="1609.6" r="6.9"/><circle cx="304.9" cy="1610.1" r="6.9"/><circle cx="327.0" cy="1620.4" r="6.9"/><circle cx="244.8" cy="1624.9" r="6.9"/><circle cx="275.3" cy="1629.3" r="6.9"/><circle cx="297.0" cy="1625.9" r="6.9"/><circle cx="308.8" cy="1622.9" r="6.9"/><circle cx="307.8" cy="1634.7" r="6.9"/><circle cx="318.7" cy="1630.8" r="6.9"/><circle cx="312.8" cy="1640.6" r="6.9"/><circle cx="291.1" cy="1656.9" r="6.9"/><circle cx="278.8" cy="1672.7" r="6.9"/><circle cx="484.9" cy="1339.7" r="6.9"/><circle cx="446.1" cy="1400.3" r="6.9"/><circle cx="452.1" cy="1414.3" r="6.9"/><circle cx="548.1" cy="1417.0" r="6.9"/><circle cx="557.8" cy="1423.7" r="6.9"/><circle cx="464.2" cy="1452.8" r="6.9"/><circle cx="472.2" cy="1447.7" r="6.9"/><circle cx="475.5" cy="1455.1" r="6.9"/><circle cx="514.3" cy="1454.4" r="6.9"/><circle cx="464.8" cy="1475.8" r="6.9"/><circle cx="481.6" cy="1471.1" r="6.9"/><circle cx="487.6" cy="1472.9" r="6.9"/><circle cx="505.0" cy="1479.1" r="6.9"/><circle cx="459.5" cy="1487.2" r="6.9"/><circle cx="472.2" cy="1485.2" r="6.9"/><circle cx="477.6" cy="1484.5" r="6.9"/><circle cx="460.0" cy="1486.8" r="6.9"/><circle cx="474.1" cy="1484.5" r="6.9"/><circle cx="479.7" cy="1484.5" r="6.9"/><circle cx="484.8" cy="1500.8" r="6.9"/><circle cx="461.7" cy="1516.0" r="6.9"/><circle cx="454.9" cy="1520.5" r="6.9"/><circle cx="501.6" cy="1521.1" r="6.9"/><circle cx="436.9" cy="1538.0" r="6.9"/><circle cx="458.3" cy="1534.1" r="6.9"/><circle cx="466.2" cy="1532.9" r="6.9"/><circle cx="476.3" cy="1536.3" r="6.9"/><circle cx="554.6" cy="1541.4" r="6.9"/><circle cx="461.7" cy="1545.3" r="6.9"/><circle cx="468.4" cy="1547.6" r="6.9"/><circle cx="459.4" cy="1552.1" r="6.9"/><circle cx="469.5" cy="1555.5" r="6.9"/><circle cx="460.0" cy="1561.1" r="6.9"/><circle cx="449.3" cy="1572.3" r="6.9"/><circle cx="457.2" cy="1575.7" r="6.9"/><circle cx="453.2" cy="1583.0" r="6.9"/><circle cx="494.3" cy="1576.8" r="6.9"/><circle cx="467.9" cy="1592.0" r="6.9"/><circle cx="486.4" cy="1593.2" r="6.9"/><circle cx="506.7" cy="1592.0" r="6.9"/><circle cx="453.8" cy="1599.4" r="6.9"/><circle cx="476.3" cy="1601.1" r="6.9"/><circle cx="490.9" cy="1601.6" r="6.9"/><circle cx="449.3" cy="1606.1" r="6.9"/><circle cx="456.0" cy="1614.0" r="6.9"/><circle cx="486.4" cy="1610.6" r="6.9"/><circle cx="521.9" cy="1606.1" r="6.9"/><circle cx="515.7" cy="1623.6" r="6.9"/><circle cx="470.1" cy="1636.0" r="6.9"/><circle cx="476.3" cy="1635.4" r="6.9"/><circle cx="483.1" cy="1642.2" r="6.9"/><circle cx="490.9" cy="1652.3" r="6.9"/><circle cx="484.2" cy="1657.9" r="6.9"/></g>
<path d="M360.94,1307.50 L360.87,1310.00 L360.80,1312.49 L360.74,1314.99 L360.67,1317.49 L360.60,1319.99 L360.53,1322.48 L360.46,1324.98 L360.39,1327.48 L360.31,1329.98 L360.24,1332.47 L360.17,1334.97 L360.09,1337.47 L360.01,1339.96 L359.94,1342.46 L359.86,1344.96 L359.78,1347.46 L359.70,1349.95 L359.62,1352.45 L359.53,1354.95 L359.45,1357.45 L359.36,1359.94 L359.28,1362.44 L359.19,1364.94 L359.10,1367.43 L359.01,1369.93 L358.92,1372.43 L358.83,1374.93 L358.73,1377.42 L358.64,1379.92 L358.54,1382.42 L358.44,1384.92 L358.34,1387.41 L358.24,1389.91 L358.14,1392.41 L358.04,1394.90 L357.93,1397.40 L357.82,1399.90 L357.71,1402.40 L357.60,1404.89 L357.49,1407.39 L357.38,1409.89 L357.26,1412.39 L357.14,1414.88 L357.02,1417.38 L356.90,1419.88 L356.77,1422.37 L356.65,1424.87 L356.52,1427.37 L356.39,1429.87 L356.26,1432.36 L356.12,1434.86 L355.98,1437.36 L355.84,1439.86 L355.70,1442.35 L355.56,1444.85 L355.41,1447.35 L355.26,1449.84 L355.11,1452.34 L354.95,1454.84 L354.79,1457.34 L354.63,1459.83 L354.46,1462.33 L354.29,1464.83 L354.12,1467.33 L353.95,1469.82 L353.77,1472.32 L353.59,1474.82 L353.40,1477.31 L353.21,1479.81 L353.02,1482.31 L352.82,1484.81 L352.62,1487.30 L352.41,1489.80 L352.20,1492.30 L351.98,1494.80 L351.76,1497.29 L351.54,1499.79 L351.31,1502.29 L351.07,1504.78 L350.83,1507.28 L350.58,1509.78 L350.33,1512.28 L350.07,1514.77 L349.80,1517.27 L349.53,1519.77 L349.25,1522.27 L348.96,1524.76 L348.67,1527.26 L348.37,1529.76 L348.06,1532.25 L347.74,1534.75 L347.42,1537.25 L347.08,1539.75 L346.74,1542.24 L346.38,1544.74 L346.02,1547.24 L345.64,1549.74 L345.25,1552.23 L344.86,1554.73 L344.45,1557.23 L344.02,1559.72 L343.59,1562.22 L343.14,1564.72 L342.67,1567.22 L342.19,1569.71 L341.69,1572.21 L341.18,1574.71 L340.65,1577.21 L340.10,1579.70 L339.53,1582.20 L338.94,1584.70 L338.32,1587.19 L337.69,1589.69 L337.03,1592.19 L336.34,1594.69 L335.62,1597.18 L334.88,1599.68 L334.10,1602.18 L333.29,1604.68 L332.44,1607.17 L331.56,1609.67 L330.64,1612.17 L329.67,1614.66 L328.65,1617.16 L327.59,1619.66 L326.47,1622.16 L325.29,1624.65 L324.05,1627.15 L322.74,1629.65 L321.35,1632.15 L319.89,1634.64 L318.33,1637.14 L316.68,1639.64 L314.93,1642.13 L313.06,1644.63 L311.06,1647.13 L308.92,1649.63 L306.62,1652.12 L304.15,1654.62 L301.49,1657.12 L298.60,1659.62 L295.46,1662.11 L292.05,1664.61 L288.31,1667.11 L284.20,1669.60 L279.67,1672.10 L274.63,1674.60 L269.02,1677.10 L262.71,1679.59 L255.57,1682.09 L247.42,1684.59 L238.05,1687.09 L227.13,1689.58 L214.27,1692.08 L198.89,1694.58 L180.15,1697.07 L156.85,1699.57 L127.05,1702.07 L87.60,1704.57" fill="none" stroke="#000" stroke-width="2.6"/>
<path d="M421.14,1307.50 L421.22,1309.93 L421.31,1312.36 L421.40,1314.79 L421.48,1317.22 L421.57,1319.65 L421.66,1322.08 L421.75,1324.51 L421.84,1326.94 L421.93,1329.36 L422.02,1331.79 L422.11,1334.22 L422.21,1336.65 L422.30,1339.08 L422.40,1341.51 L422.50,1343.94 L422.60,1346.37 L422.70,1348.80 L422.80,1351.23 L422.90,1353.66 L423.00,1356.09 L423.11,1358.52 L423.21,1360.95 L423.32,1363.38 L423.42,1365.81 L423.53,1368.23 L423.64,1370.66 L423.76,1373.09 L423.87,1375.52 L423.98,1377.95 L424.10,1380.38 L424.22,1382.81 L424.33,1385.24 L424.45,1387.67 L424.58,1390.10 L424.70,1392.53 L424.82,1394.96 L424.95,1397.39 L425.08,1399.82 L425.21,1402.25 L425.34,1404.68 L425.47,1407.10 L425.61,1409.53 L425.74,1411.96 L425.88,1414.39 L426.02,1416.82 L426.16,1419.25 L426.31,1421.68 L426.45,1424.11 L426.60,1426.54 L426.75,1428.97 L426.90,1431.40 L427.06,1433.83 L427.22,1436.26 L427.38,1438.69 L427.54,1441.12 L427.70,1443.55 L427.87,1445.97 L428.04,1448.40 L428.21,1450.83 L428.38,1453.26 L428.56,1455.69 L428.74,1458.12 L428.92,1460.55 L429.11,1462.98 L429.30,1465.41 L429.49,1467.84 L429.69,1470.27 L429.88,1472.70 L430.09,1475.13 L430.29,1477.56 L430.50,1479.99 L430.71,1482.42 L430.93,1484.85 L431.15,1487.27 L431.38,1489.70 L431.60,1492.13 L431.84,1494.56 L432.07,1496.99 L432.32,1499.42 L432.56,1501.85 L432.81,1504.28 L433.07,1506.71 L433.33,1509.14 L433.60,1511.57 L433.87,1514.00 L434.15,1516.43 L434.43,1518.86 L434.72,1521.29 L435.01,1523.72 L435.32,1526.14 L435.63,1528.57 L435.94,1531.00 L436.26,1533.43 L436.59,1535.86 L436.93,1538.29 L437.28,1540.72 L437.63,1543.15 L438.00,1545.58 L438.37,1548.01 L438.75,1550.44 L439.14,1552.87 L439.54,1555.30 L439.95,1557.73 L440.38,1560.16 L440.81,1562.59 L441.26,1565.01 L441.72,1567.44 L442.19,1569.87 L442.67,1572.30 L443.17,1574.73 L443.69,1577.16 L444.22,1579.59 L444.77,1582.02 L445.34,1584.45 L445.92,1586.88 L446.52,1589.31 L447.15,1591.74 L447.79,1594.17 L448.46,1596.60 L449.15,1599.03 L449.87,1601.46 L450.62,1603.89 L451.39,1606.31 L452.20,1608.74 L453.04,1611.17 L453.91,1613.60 L454.82,1616.03 L455.77,1618.46 L456.77,1620.89 L457.81,1623.32 L458.90,1625.75 L460.04,1628.18 L461.24,1630.61 L462.51,1633.04 L463.84,1635.47 L465.25,1637.90 L466.74,1640.33 L468.31,1642.76 L469.99,1645.18 L471.78,1647.61 L473.68,1650.04 L475.72,1652.47 L477.91,1654.90 L480.27,1657.33 L482.82,1659.76 L485.59,1662.19 L488.60,1664.62 L491.90,1667.05 L495.53,1669.48 L499.55,1671.91 L504.03,1674.34 L509.06,1676.77 L514.75,1679.20 L521.28,1681.63 L528.83,1684.05 L537.71,1686.48 L548.34,1688.91 L561.34,1691.34 L577.70,1693.77" fill="none" stroke="#000" stroke-width="2.6"/>
<path d="M87.2,1307 L87.2,1923.9 L577.7,1923.9" fill="none" stroke="#222" stroke-width="1.6"/>
<line x1="77.2" y1="1894.4" x2="87.2" y2="1894.4" stroke="#222" stroke-width="1.6"/>
<text x="71.5" y="1894.4" font-size="15.5" text-anchor="middle" fill="#222" transform="rotate(-90 71.5 1894.4)" dy="0">0</text>
<line x1="77.2" y1="1766.5" x2="87.2" y2="1766.5" stroke="#222" stroke-width="1.6"/>
<text x="71.5" y="1766.5" font-size="15.5" text-anchor="middle" fill="#222" transform="rotate(-90 71.5 1766.5)" dy="0">1</text>
<line x1="77.2" y1="1638.5" x2="87.2" y2="1638.5" stroke="#222" stroke-width="1.6"/>
<text x="71.5" y="1638.5" font-size="15.5" text-anchor="middle" fill="#222" transform="rotate(-90 71.5 1638.5)" dy="0">2</text>
<line x1="77.2" y1="1510.6" x2="87.2" y2="1510.6" stroke="#222" stroke-width="1.6"/>
<text x="71.5" y="1510.6" font-size="15.5" text-anchor="middle" fill="#222" transform="rotate(-90 71.5 1510.6)" dy="0">3</text>
<line x1="77.2" y1="1382.6" x2="87.2" y2="1382.6" stroke="#222" stroke-width="1.6"/>
<text x="71.5" y="1382.6" font-size="15.5" text-anchor="middle" fill="#222" transform="rotate(-90 71.5 1382.6)" dy="0">4</text>
<line x1="223.0" y1="1923.9" x2="223.0" y2="1932.9" stroke="#222" stroke-width="1.6"/>
<text x="223.0" y="1948.7" font-size="15.5" text-anchor="middle" fill="#222">-2</text>
<line x1="391.4" y1="1923.9" x2="391.4" y2="1932.9" stroke="#222" stroke-width="1.6"/>
<text x="391.4" y="1948.7" font-size="15.5" text-anchor="middle" fill="#222">0</text>
<line x1="559.8" y1="1923.9" x2="559.8" y2="1932.9" stroke="#222" stroke-width="1.6"/>
<text x="559.8" y="1948.7" font-size="15.5" text-anchor="middle" fill="#222">2</text>
<text x="332.3" y="1970.7" font-size="18.9" text-anchor="middle" fill="#222">Difference (Control - Acidified)</text>
<text x="44" y="1615" font-size="19" text-anchor="middle" fill="#2a1a22" transform="rotate(-90 44 1615)">-Log p</text>
<path d="M982.5 1886.1h0M979.1 1884.8h0M965.5 1866.5h0M981.8 1892.1h0M968.4 1874.1h0M977.7 1869.6h0M977.8 1888.7h0M982.7 1893.4h0M980.0 1885.7h0M975.0 1872.1h0M981.0 1875.5h0M982.6 1890.1h0M980.0 1880.1h0M972.4 1871.7h0M973.7 1880.4h0M962.1 1873.0h0M969.5 1861.1h0M976.1 1871.2h0M970.5 1881.5h0M983.1 1888.8h0M980.6 1883.1h0M969.7 1877.3h0M963.7 1863.8h0M969.1 1867.9h0M979.9 1884.1h0M977.0 1862.6h0M982.2 1878.7h0M967.1 1870.8h0M981.6 1891.6h0M982.0 1891.7h0M979.4 1888.2h0M957.7 1864.1h0M960.1 1871.3h0M971.5 1865.3h0M977.7 1872.6h0M980.6 1881.0h0M979.5 1877.1h0M962.1 1874.4h0M969.4 1864.8h0M980.2 1879.9h0M975.6 1863.8h0M968.5 1873.7h0M969.6 1866.0h0M969.1 1877.8h0M959.7 1870.9h0M979.2 1883.4h0M964.5 1876.9h0M981.9 1887.7h0M983.3 1891.8h0M982.9 1894.0h0M965.6 1870.5h0M970.2 1879.2h0M957.2 1863.6h0M969.6 1865.8h0M976.4 1881.8h0M975.0 1860.9h0M971.7 1874.4h0M967.7 1868.3h0M973.8 1881.0h0M981.4 1888.4h0M983.1 1889.3h0M981.8 1889.0h0M981.4 1874.0h0M984.0 1891.4h0M984.3 1894.7h0M981.1 1865.9h0M980.9 1891.9h0M982.4 1879.4h0M978.5 1878.1h0M963.2 1873.4h0M979.0 1877.5h0M964.9 1862.2h0M961.6 1868.8h0M974.4 1875.0h0M950.3 1873.5h0M969.8 1877.4h0M976.3 1861.2h0M976.1 1887.4h0M967.0 1871.0h0M979.8 1875.7h0M983.0 1893.9h0M974.5 1884.9h0M956.9 1862.5h0M966.7 1867.6h0M983.5 1894.9h0M982.1 1884.9h0M983.4 1895.1h0M978.4 1866.1h0M982.0 1891.5h0M983.6 1893.4h0M963.4 1860.6h0M966.3 1879.6h0M971.9 1884.1h0M983.9 1893.7h0M972.1 1881.6h0M972.5 1882.4h0M983.1 1876.8h0M983.4 1895.2h0M981.1 1890.2h0M979.7 1888.0h0M979.5 1879.8h0M977.6 1884.7h0M973.5 1873.7h0M983.7 1885.3h0M977.0 1863.2h0M956.2 1861.3h0M983.8 1893.3h0M976.7 1888.0h0M972.7 1875.4h0M965.1 1868.1h0M984.3 1893.1h0M983.6 1888.9h0M982.3 1879.2h0M968.1 1871.7h0M971.9 1863.4h0M978.4 1864.7h0M962.0 1867.3h0M983.7 1893.5h0M964.9 1860.8h0M969.1 1873.6h0M982.4 1892.3h0M979.3 1886.4h0M982.6 1873.4h0M980.2 1881.7h0M970.7 1879.6h0M964.7 1866.9h0M957.2 1866.2h0M983.0 1876.0h0M976.3 1867.3h0M981.4 1881.0h0M958.1 1860.9h0M968.0 1874.0h0M957.8 1861.1h0M984.0 1893.8h0M958.3 1864.1h0M982.3 1875.6h0M980.1 1870.1h0M982.0 1888.6h0M968.4 1876.0h0M976.6 1885.1h0M983.8 1891.7h0M984.4 1895.3h0M960.4 1863.3h0M972.3 1871.6h0M983.3 1888.1h0M983.9 1886.3h0M980.9 1878.9h0M978.3 1866.4h0M980.3 1891.2h0M975.1 1861.1h0M955.8 1862.0h0M979.2 1886.7h0M968.0 1872.7h0M982.4 1882.6h0M977.5 1870.7h0M983.5 1892.3h0M981.5 1878.7h0M972.7 1874.5h0M978.9 1873.2h0M977.7 1870.8h0M973.0 1863.8h0M977.4 1886.9h0M978.4 1890.0h0M980.6 1881.6h0M962.9 1875.2h0M965.9 1861.4h0M981.1 1870.2h0M976.8 1869.2h0M957.9 1860.9h0M982.9 1885.9h0M980.8 1886.2h0M978.2 1880.4h0M982.0 1884.9h0M967.0 1872.3h0M966.1 1861.7h0M982.9 1890.0h0M964.4 1877.0h0M966.6 1871.4h0M966.5 1877.9h0M955.7 1863.0h0M973.0 1869.3h0M970.7 1864.1h0M981.6 1891.4h0M983.7 1888.5h0M982.2 1893.1h0M959.3 1866.0h0M959.7 1861.3h0M983.8 1894.9h0M960.8 1867.4h0M965.4 1869.6h0M957.9 1863.2h0M976.8 1885.8h0M972.5 1870.1h0M979.6 1887.0h0M982.1 1892.7h0M978.8 1869.0h0M982.9 1893.9h0M960.4 1870.6h0M973.9 1885.4h0M973.0 1878.1h0M981.0 1863.8h0M975.4 1886.8h0M979.7 1878.8h0M983.7 1882.8h0M980.6 1888.7h0M966.3 1878.6h0M979.7 1889.0h0M975.6 1867.1h0M980.4 1873.6h0M977.7 1885.4h0M971.1 1860.9h0M981.5 1883.2h0M976.1 1871.6h0M962.0 1869.4h0M977.6 1886.0h0M983.9 1895.0h0M977.1 1863.8h0M969.5 1861.5h0M983.7 1889.4h0M979.7 1890.0h0M971.5 1880.1h0M976.6 1874.2h0M967.8 1860.4h0M966.8 1861.3h0M971.4 1860.4h0M974.8 1886.7h0M975.6 1874.2h0M968.6 1880.0h0M975.2 1887.2h0M983.2 1893.1h0M983.6 1889.4h0M973.9 1882.7h0M982.7 1892.3h0M981.0 1890.1h0M982.7 1893.8h0M981.0 1873.3h0M965.8 1877.9h0M979.7 1886.8h0M979.5 1876.7h0M979.8 1880.4h0M976.7 1872.0h0M967.4 1862.3h0M970.6 1882.9h0M967.4 1872.5h0M979.5 1887.6h0M957.5 1862.1h0M972.2 1873.5h0M983.0 1889.8h0M980.6 1886.3h0M978.1 1889.8h0M978.7 1889.1h0M977.6 1884.5h0M957.9 1866.2h0M980.1 1879.2h0M974.0 1885.6h0M968.5 1880.5h0M980.7 1885.9h0M972.3 1869.4h0M983.8 1893.3h0M983.4 1885.2h0M980.7 1883.9h0M977.7 1889.0h0M979.8 1869.2h0M981.8 1889.0h0M978.9 1884.8h0M984.1 1893.4h0M977.2 1868.6h0M979.6 1882.5h0M969.6 1872.2h0M977.0 1887.7h0M984.2 1894.6h0M978.6 1884.0h0M970.2 1867.8h0M972.5 1865.7h0M974.0 1883.0h0M958.5 1865.4h0M983.9 1893.6h0M976.5 1876.9h0M983.5 1886.3h0M983.1 1879.8h0M978.7 1887.5h0M975.4 1863.7h0M980.6 1884.7h0M953.9 1861.9h0M982.4 1891.5h0M974.2 1880.2h0M977.5 1879.7h0M962.2 1870.3h0M981.0 1883.2h0M977.9 1877.9h0M982.9 1892.9h0M972.2 1884.4h0M973.4 1869.7h0M980.9 1891.6h0M975.5 1879.0h0M977.7 1887.0h0M983.2 1889.5h0M980.1 1891.1h0M964.5 1866.6h0M971.6 1871.1h0M949.7 1846.5h0M970.7 1846.1h0M965.0 1834.1h0M948.9 1838.6h0M940.5 1827.5h0M939.0 1827.4h0M960.2 1842.9h0M949.7 1836.6h0M957.8 1840.7h0M970.2 1849.0h0M945.8 1843.9h0M962.9 1834.4h0M948.9 1840.4h0M971.4 1837.6h0M969.8 1842.7h0M973.6 1826.2h0M964.5 1832.4h0M979.6 1855.3h0M957.9 1831.1h0M951.5 1827.4h0M941.8 1831.0h0M952.9 1847.8h0M949.3 1846.9h0M959.0 1851.3h0M956.2 1858.0h0M965.1 1843.2h0M949.3 1829.8h0M962.9 1832.7h0M953.1 1836.5h0M960.2 1829.9h0M957.0 1836.6h0M961.3 1852.0h0M952.7 1831.5h0M974.9 1846.9h0M972.0 1828.4h0M953.5 1848.4h0M979.7 1856.7h0M959.0 1834.1h0M974.3 1856.1h0M968.1 1829.1h0M964.4 1845.4h0M971.1 1832.3h0M978.0 1858.1h0M955.3 1840.7h0M944.7 1836.0h0M955.6 1855.4h0M946.5 1838.4h0M967.8 1854.9h0M953.5 1849.2h0M975.8 1847.0h0M968.6 1838.0h0M966.9 1855.4h0M920.1 1853.4h0M954.6 1832.3h0M942.0 1834.6h0M950.2 1843.9h0M975.8 1850.0h0M942.2 1835.4h0M963.8 1843.4h0M952.8 1848.9h0M972.9 1829.0h0M951.2 1852.8h0M960.2 1831.5h0M953.6 1838.1h0M953.3 1837.1h0M964.1 1835.8h0M964.8 1833.4h0M970.0 1828.7h0M969.4 1827.3h0M954.9 1850.9h0M961.2 1854.2h0M950.1 1828.2h0M951.5 1852.7h0M978.3 1852.1h0M970.7 1831.4h0M945.1 1825.7h0M944.1 1830.0h0M961.9 1841.7h0M950.3 1846.7h0M941.2 1824.9h0M942.9 1833.9h0M949.9 1837.7h0M954.5 1859.6h0M956.8 1853.0h0M975.1 1859.5h0M967.1 1827.8h0M963.1 1851.6h0M960.3 1853.9h0M974.8 1839.3h0M949.2 1852.8h0M970.2 1840.6h0M944.2 1826.3h0M970.5 1829.3h0M978.9 1851.3h0M962.5 1827.5h0M945.7 1845.8h0M971.4 1841.4h0M977.8 1848.4h0M955.8 1824.5h0M948.6 1849.1h0M951.3 1833.8h0M962.0 1838.0h0M971.1 1835.5h0M960.3 1856.3h0M959.9 1840.9h0M937.5 1824.6h0M956.9 1840.0h0M973.2 1853.0h0M957.1 1858.1h0M948.9 1848.3h0M945.4 1833.5h0M965.7 1859.1h0M953.3 1858.2h0M959.6 1836.7h0M964.8 1828.7h0M970.4 1844.4h0M972.2 1837.8h0M948.6 1850.8h0M954.0 1850.3h0M945.4 1843.1h0M959.2 1852.2h0M965.8 1843.9h0M964.3 1854.7h0M962.5 1827.2h0M972.2 1837.0h0M970.3 1856.6h0M977.4 1853.1h0M947.7 1830.6h0M974.5 1846.8h0M967.0 1850.7h0M966.2 1859.1h0M951.8 1836.0h0M967.1 1839.8h0M945.9 1830.2h0M973.1 1853.9h0M940.9 1833.3h0M940.2 1830.7h0M970.5 1830.8h0M955.4 1833.5h0M968.7 1844.3h0M973.0 1858.3h0M963.4 1837.1h0M960.5 1859.1h0M952.7 1856.9h0M947.1 1845.5h0M965.4 1855.7h0M966.2 1843.9h0M948.0 1829.8h0M951.9 1853.8h0M950.4 1831.7h0M940.2 1824.6h0M980.1 1858.6h0M971.5 1845.0h0M973.9 1834.9h0M944.9 1834.0h0M969.2 1850.0h0M953.0 1831.3h0M962.7 1846.8h0M962.4 1852.8h0M964.7 1841.6h0M972.2 1838.3h0M935.8 1830.3h0M971.4 1836.4h0M970.5 1857.0h0M975.3 1839.6h0M966.9 1847.8h0M962.9 1835.0h0M952.2 1858.4h0M944.1 1836.7h0M952.3 1831.9h0M964.4 1858.5h0M956.0 1859.4h0M939.3 1828.4h0M943.9 1828.2h0M954.1 1853.7h0M956.0 1827.3h0M954.8 1845.6h0M965.1 1841.6h0M965.3 1843.3h0M960.1 1848.1h0M951.1 1828.6h0M969.6 1838.3h0M964.2 1826.9h0M963.2 1837.9h0M951.8 1827.2h0M976.2 1841.7h0M963.6 1843.1h0M946.7 1839.7h0M969.5 1859.8h0M949.3 1832.8h0M968.1 1855.0h0M943.7 1826.5h0M972.0 1858.4h0M954.6 1834.9h0M966.2 1832.7h0M971.2 1840.8h0M962.0 1856.6h0M952.2 1831.2h0M944.7 1848.6h0M972.8 1849.8h0M970.6 1835.4h0M945.6 1825.5h0M979.4 1856.6h0M968.2 1844.5h0M964.7 1836.1h0M973.6 1850.1h0M969.9 1827.2h0M936.2 1838.6h0M970.0 1857.3h0M949.7 1854.5h0M962.2 1854.9h0M967.9 1843.8h0M961.7 1827.7h0M965.3 1856.0h0M954.3 1854.6h0M960.7 1852.5h0M973.2 1839.7h0M953.5 1844.7h0M971.1 1845.1h0M975.5 1854.8h0M949.1 1830.8h0M963.5 1843.0h0M927.3 1829.3h0M955.1 1858.9h0M976.5 1843.7h0M967.4 1846.9h0M967.8 1830.1h0M973.8 1835.4h0M952.4 1841.5h0M959.0 1854.2h0M963.8 1835.8h0M965.7 1828.2h0M958.0 1832.4h0M969.5 1825.7h0M950.2 1839.0h0M977.8 1848.8h0M959.3 1852.1h0M957.0 1831.6h0M965.8 1831.2h0M971.4 1837.5h0M959.9 1832.2h0M955.7 1842.7h0M959.4 1829.8h0M949.9 1835.3h0M976.9 1851.4h0M961.4 1839.1h0M952.0 1836.7h0M975.5 1852.8h0M962.9 1826.8h0M952.3 1831.4h0M960.8 1854.8h0M958.9 1852.2h0M972.0 1859.9h0M954.9 1826.7h0M972.5 1853.8h0M966.2 1830.4h0M972.0 1841.8h0M952.1 1857.9h0M978.6 1852.5h0M953.8 1850.8h0M964.5 1832.9h0M967.4 1846.9h0M956.7 1854.9h0M961.2 1826.4h0M965.1 1841.7h0M967.4 1857.6h0M965.9 1825.5h0M961.4 1836.0h0M951.9 1844.3h0M979.4 1854.8h0M968.0 1835.4h0M976.6 1856.5h0M971.9 1826.7h0M945.3 1833.3h0M954.9 1834.7h0M940.5 1832.7h0M947.2 1829.4h0M972.2 1843.3h0M968.1 1831.2h0M959.8 1856.1h0M961.5 1835.1h0M967.5 1833.3h0M967.7 1852.5h0M972.9 1856.0h0M941.2 1827.5h0M958.9 1828.4h0M976.7 1856.1h0M969.9 1839.1h0M965.3 1853.6h0M954.1 1852.7h0M934.3 1791.6h0M945.8 1801.0h0M956.6 1797.6h0M968.1 1814.5h0M969.1 1797.0h0M937.9 1800.8h0M950.0 1812.3h0M955.3 1806.9h0M958.7 1815.7h0M948.8 1803.5h0M957.2 1817.9h0M972.0 1808.6h0M945.6 1794.2h0M950.1 1801.2h0M963.8 1803.2h0M958.8 1820.6h0M930.4 1795.4h0M946.7 1802.6h0M944.2 1790.9h0M956.7 1791.4h0M955.3 1791.5h0M936.0 1805.6h0M932.9 1797.2h0M950.1 1820.9h0M950.2 1822.9h0M945.5 1796.7h0M955.1 1800.7h0M964.0 1791.0h0M955.8 1813.7h0M956.5 1807.0h0M943.6 1796.6h0M951.6 1802.9h0M967.1 1794.5h0M965.2 1810.5h0M930.2 1794.6h0M948.3 1794.0h0M930.5 1792.5h0M966.1 1810.4h0M956.8 1792.3h0M947.3 1813.6h0M953.4 1803.5h0M944.6 1789.8h0M934.8 1801.7h0M932.2 1803.5h0M943.6 1811.7h0M952.4 1806.3h0M945.5 1807.1h0M952.1 1800.5h0M937.1 1805.4h0M935.6 1813.2h0M956.1 1817.8h0M938.7 1789.5h0M946.1 1802.6h0M942.8 1818.4h0M965.8 1812.5h0M936.0 1801.5h0M958.4 1816.1h0M933.3 1792.8h0M955.9 1805.4h0M952.2 1800.4h0M964.8 1801.0h0M952.4 1818.8h0M954.5 1791.5h0M963.3 1794.6h0M959.3 1819.4h0M969.8 1804.3h0M970.2 1805.8h0M956.1 1813.6h0M952.3 1811.2h0M963.7 1815.3h0M943.4 1802.2h0M970.1 1809.3h0M967.2 1821.0h0M958.8 1816.5h0M956.3 1819.2h0M947.3 1802.2h0M949.5 1804.9h0M955.2 1810.6h0M934.9 1805.1h0M959.0 1802.2h0M973.1 1816.9h0M953.8 1822.6h0M961.7 1790.4h0M967.3 1818.0h0M929.4 1816.0h0M929.8 1799.6h0M953.2 1789.6h0M944.6 1820.1h0M938.3 1810.3h0M947.2 1794.2h0M939.3 1821.5h0M938.2 1815.7h0M953.7 1802.8h0M947.2 1795.1h0M959.1 1820.9h0M934.7 1809.8h0M965.6 1803.5h0M939.2 1805.1h0M931.8 1805.5h0M929.8 1789.3h0M943.8 1789.7h0M938.6 1817.1h0M935.4 1815.5h0M957.7 1810.3h0M954.4 1820.9h0M968.6 1819.3h0M960.9 1804.5h0M950.8 1789.6h0M943.5 1814.1h0M952.4 1817.5h0M935.9 1802.7h0M955.7 1814.0h0M937.5 1824.0h0M936.5 1821.2h0M955.2 1793.4h0M948.5 1820.7h0M936.3 1801.8h0M939.6 1809.7h0M943.3 1797.3h0M971.3 1806.5h0M952.1 1816.3h0M941.1 1817.0h0M958.8 1816.2h0M960.9 1816.2h0M945.4 1815.6h0M955.2 1813.9h0M930.2 1803.3h0M940.2 1805.8h0M952.9 1822.1h0M946.2 1809.6h0M950.7 1791.6h0M931.0 1791.2h0M944.7 1813.2h0M944.4 1819.0h0M951.9 1814.1h0M972.7 1819.8h0M972.6 1815.4h0M949.4 1791.8h0M969.0 1793.4h0M934.2 1808.5h0M953.4 1805.0h0M948.6 1799.7h0M963.3 1799.7h0M941.9 1799.9h0M949.3 1798.4h0M965.2 1803.6h0M957.5 1819.8h0M967.2 1800.2h0M937.9 1800.8h0M958.6 1818.8h0M948.6 1817.6h0M957.7 1802.0h0M960.6 1810.9h0M970.4 1795.8h0M946.7 1814.7h0M948.3 1800.9h0M959.5 1802.7h0M935.8 1820.6h0M950.0 1814.7h0M941.4 1812.0h0M964.0 1813.8h0M968.0 1821.3h0M944.2 1816.2h0M958.7 1805.5h0M963.9 1816.5h0M929.7 1802.0h0M950.9 1809.8h0M955.0 1808.4h0M925.0 1817.2h0M943.5 1796.7h0M953.4 1821.8h0M962.2 1791.1h0M945.4 1803.6h0M943.0 1791.1h0M940.4 1805.1h0M947.8 1812.1h0M960.7 1811.4h0M936.0 1791.6h0M964.8 1806.1h0M933.6 1810.5h0M944.1 1819.0h0M961.4 1819.1h0M933.5 1809.8h0M935.6 1808.5h0M967.9 1796.0h0M958.6 1820.2h0M969.1 1808.4h0M971.7 1819.8h0M938.7 1815.5h0M932.5 1807.0h0M943.5 1793.4h0M946.7 1819.8h0M949.9 1818.4h0M944.0 1799.5h0M947.9 1805.8h0M958.8 1821.4h0M957.3 1800.4h0M895.1 1790.6h0M960.0 1798.4h0M959.8 1789.2h0M945.8 1798.2h0M940.8 1812.9h0M937.3 1796.2h0M950.9 1804.4h0M950.0 1821.3h0M970.4 1811.7h0M964.7 1791.0h0M934.9 1801.3h0M954.5 1811.4h0M950.9 1799.4h0M956.7 1800.3h0M945.9 1818.9h0M962.6 1808.2h0M946.2 1796.0h0M954.8 1820.4h0M953.1 1805.1h0M962.0 1820.3h0M965.1 1814.8h0M965.3 1797.4h0M939.3 1811.8h0M967.4 1795.4h0M960.9 1798.8h0M956.5 1802.0h0M973.7 1819.2h0M940.0 1808.5h0M951.9 1793.4h0M957.4 1802.1h0M961.6 1822.1h0M949.3 1806.7h0M952.9 1808.0h0M965.2 1807.3h0M954.1 1809.8h0M957.9 1795.7h0M945.9 1805.7h0M941.2 1794.1h0M966.2 1790.7h0M968.8 1792.8h0M958.5 1797.2h0M941.4 1823.8h0M972.9 1824.5h0M945.3 1818.4h0M931.7 1806.2h0M972.4 1813.9h0M969.2 1819.8h0M937.0 1791.7h0M945.2 1809.3h0M966.3 1817.5h0M952.4 1806.4h0M927.6 1789.7h0M968.9 1798.9h0M941.1 1791.8h0M950.3 1820.4h0M937.3 1798.3h0M958.2 1812.6h0M969.7 1811.8h0M961.0 1808.3h0M959.8 1808.1h0M935.1 1796.5h0M944.4 1814.0h0M968.4 1808.2h0M939.1 1809.2h0M944.5 1802.5h0M959.4 1804.7h0M971.9 1822.8h0M948.4 1794.3h0M966.7 1801.8h0M972.1 1819.1h0M964.2 1807.0h0M957.4 1792.6h0M963.0 1793.2h0M962.6 1774.8h0M937.8 1780.6h0M934.3 1755.4h0M887.7 1763.0h0M948.1 1765.6h0M945.2 1774.6h0M926.4 1758.4h0M947.1 1782.3h0M923.3 1759.7h0M925.1 1760.7h0M942.2 1770.6h0M931.9 1776.2h0M933.5 1764.8h0M957.9 1775.3h0M964.7 1774.4h0M963.1 1779.5h0M934.4 1761.3h0M960.9 1783.6h0M945.1 1771.5h0M944.2 1773.4h0M943.7 1754.1h0M928.2 1785.2h0M929.3 1769.0h0M955.4 1781.2h0M899.8 1755.4h0M954.3 1784.6h0M952.6 1756.6h0M944.1 1766.2h0M959.9 1782.3h0M949.0 1774.4h0M951.1 1779.3h0M948.9 1772.2h0M941.0 1759.9h0M924.9 1772.0h0M955.5 1754.2h0M958.6 1756.8h0M954.1 1781.4h0M937.1 1784.4h0M929.5 1764.9h0M941.9 1776.3h0M930.8 1779.7h0M920.7 1756.3h0M959.0 1768.6h0M932.8 1779.6h0M910.1 1769.1h0M921.3 1769.6h0M934.9 1760.8h0M941.6 1774.5h0M934.8 1771.2h0M955.7 1783.7h0M923.4 1759.0h0M959.2 1756.5h0M950.6 1789.0h0M920.1 1762.3h0M915.8 1754.6h0M948.8 1758.6h0M919.6 1760.8h0M949.9 1781.5h0M932.3 1754.0h0M933.9 1775.9h0M944.2 1758.7h0M958.3 1761.5h0M945.4 1767.6h0M949.8 1754.9h0M954.1 1755.2h0M941.2 1773.4h0M936.0 1772.3h0M932.1 1757.1h0M925.1 1773.1h0M917.7 1758.3h0M937.3 1781.0h0M927.6 1780.1h0M966.6 1775.4h0M927.8 1778.1h0M949.1 1773.0h0M935.6 1781.2h0M927.5 1783.3h0M949.3 1775.6h0M947.1 1782.8h0M966.1 1776.9h0M953.4 1775.0h0M960.0 1755.7h0M941.0 1774.3h0M956.9 1768.1h0M929.5 1756.3h0M957.7 1773.3h0M929.6 1779.3h0M960.1 1769.0h0M933.3 1759.9h0M933.7 1779.0h0M954.1 1763.0h0M925.0 1772.0h0M959.3 1770.4h0M928.0 1766.3h0M939.8 1772.5h0M962.1 1782.5h0M948.7 1780.9h0M932.2 1787.4h0M925.3 1757.8h0M951.5 1766.0h0M959.3 1755.8h0M959.0 1777.8h0M925.1 1769.3h0M955.9 1768.9h0M941.2 1784.1h0M931.6 1769.4h0M946.8 1767.6h0M945.1 1773.8h0M939.8 1776.7h0M935.6 1780.7h0M936.7 1786.4h0M928.8 1767.9h0M954.5 1782.1h0M963.6 1786.2h0M951.4 1754.2h0M950.6 1757.5h0M950.6 1776.3h0M961.1 1772.4h0M960.5 1781.8h0M924.4 1754.1h0M946.9 1778.4h0M939.0 1759.5h0M927.6 1762.6h0M963.4 1788.5h0M943.0 1787.8h0M944.6 1773.5h0M939.9 1788.0h0M958.8 1756.5h0M921.9 1754.7h0M950.7 1767.4h0M939.7 1778.2h0M953.4 1781.5h0M931.8 1784.3h0M952.1 1769.0h0M966.3 1783.5h0M960.2 1781.3h0M937.3 1763.6h0M927.6 1758.3h0M951.1 1766.6h0M956.4 1755.2h0M943.5 1760.1h0M937.8 1773.8h0M924.4 1776.4h0M931.8 1782.1h0M945.5 1760.7h0M877.9 1771.2h0M926.3 1758.0h0M961.9 1771.6h0M959.7 1758.1h0M957.3 1763.5h0M929.9 1768.9h0M933.3 1762.9h0M935.9 1763.0h0M956.6 1787.4h0M941.5 1760.4h0M958.9 1785.2h0M961.4 1769.9h0M956.1 1771.9h0M961.8 1762.1h0M935.9 1781.3h0M960.0 1764.4h0M931.8 1761.1h0M932.3 1776.9h0M951.4 1768.5h0M927.3 1774.4h0M958.9 1762.3h0M923.9 1757.8h0M945.1 1771.0h0M942.7 1788.7h0M915.9 1756.5h0M950.1 1768.3h0M932.6 1782.7h0M935.9 1763.1h0M960.5 1773.0h0M941.5 1782.9h0M946.7 1777.0h0M933.4 1767.5h0M936.3 1777.2h0M950.0 1784.1h0M945.2 1787.1h0M959.5 1775.4h0M949.5 1763.2h0M954.5 1776.9h0M930.0 1774.5h0M944.0 1760.6h0M947.5 1766.4h0M943.4 1754.2h0M948.4 1759.5h0M961.4 1755.8h0M948.8 1771.0h0M958.4 1761.7h0M924.3 1753.7h0M923.9 1788.7h0M949.3 1772.5h0M940.6 1762.7h0M955.1 1780.9h0M930.9 1786.6h0M946.2 1771.2h0M934.7 1786.8h0M942.3 1783.5h0M946.1 1787.3h0M927.6 1763.2h0M947.2 1787.3h0M931.4 1756.5h0M934.3 1769.3h0M963.9 1774.9h0M955.7 1783.9h0M962.7 1775.2h0M948.3 1780.1h0M962.2 1758.4h0M930.0 1771.0h0M934.2 1788.4h0M943.0 1755.9h0M927.1 1754.1h0M960.0 1753.9h0M930.4 1779.4h0M945.1 1771.4h0M935.2 1763.7h0M950.6 1785.2h0M958.0 1773.9h0M962.9 1777.7h0M927.5 1758.6h0M943.2 1788.2h0M921.9 1756.3h0M948.0 1788.4h0M930.4 1756.3h0M961.5 1773.0h0M932.0 1782.5h0M954.8 1778.0h0M932.5 1755.8h0M940.4 1746.9h0M919.1 1724.8h0M925.7 1722.1h0M960.8 1743.1h0M934.8 1733.0h0M904.0 1735.2h0M942.2 1720.5h0M941.2 1747.1h0M885.3 1740.4h0M908.3 1730.1h0M958.4 1748.6h0M931.9 1744.4h0M916.6 1726.4h0M959.6 1730.8h0M918.2 1733.6h0M933.9 1722.9h0M956.8 1745.0h0M902.9 1721.2h0M938.1 1742.1h0M947.2 1721.1h0M950.5 1727.9h0M904.7 1728.0h0M918.6 1732.1h0M947.4 1726.1h0M917.9 1742.6h0M884.7 1727.6h0M921.3 1749.5h0M901.4 1730.5h0M951.5 1719.2h0M900.8 1719.5h0M942.5 1745.0h0M901.3 1721.7h0M909.4 1732.5h0M950.5 1738.1h0M928.3 1740.1h0M943.8 1737.7h0M959.6 1737.6h0M888.4 1719.9h0M952.2 1726.7h0M945.6 1747.9h0M957.4 1726.0h0M942.6 1732.4h0M923.3 1718.5h0M958.0 1743.5h0M934.7 1727.4h0M951.9 1735.3h0M928.5 1745.7h0M906.6 1749.4h0M945.6 1721.9h0M933.4 1753.1h0M933.3 1744.7h0M957.4 1736.9h0M936.3 1743.3h0M922.3 1734.0h0M924.4 1747.3h0M907.7 1726.1h0M926.1 1733.0h0M947.5 1730.8h0M936.0 1719.1h0M956.7 1747.7h0M906.6 1737.1h0M903.8 1748.1h0M908.5 1743.0h0M955.3 1735.8h0M950.4 1726.7h0M860.4 1747.2h0M949.2 1724.9h0M912.2 1727.9h0M956.3 1736.8h0M919.6 1722.7h0M924.2 1738.6h0M953.2 1718.8h0M951.9 1719.5h0M941.2 1738.8h0M944.0 1719.8h0M940.0 1726.3h0M924.4 1734.9h0M951.9 1731.9h0M951.6 1725.3h0M933.8 1719.6h0M910.2 1721.6h0M893.7 1719.8h0M923.0 1739.4h0M959.5 1753.4h0M951.7 1748.8h0M884.3 1740.1h0M954.6 1750.2h0M954.4 1734.4h0M929.1 1749.4h0M958.0 1742.9h0M937.3 1742.8h0M909.2 1721.4h0M954.0 1737.1h0M899.0 1749.6h0M937.3 1726.9h0M955.2 1720.4h0M949.7 1728.4h0M953.4 1753.5h0M903.8 1723.7h0M914.0 1746.1h0M929.9 1724.6h0M943.6 1724.5h0M917.6 1729.4h0M938.8 1750.9h0M941.9 1740.6h0M930.0 1749.2h0M919.5 1726.0h0M923.3 1751.2h0M929.1 1737.9h0M949.3 1727.3h0M900.1 1724.4h0M954.4 1738.6h0M913.2 1750.7h0M946.0 1722.5h0M923.9 1743.1h0M907.7 1736.2h0M922.2 1753.6h0M939.6 1743.0h0M953.2 1720.3h0M900.0 1727.8h0M946.4 1728.3h0M907.8 1733.6h0M958.6 1748.8h0M925.4 1745.7h0M909.4 1719.9h0M951.8 1749.7h0M888.7 1730.1h0M912.3 1740.4h0M860.4 1727.7h0M958.3 1748.5h0M928.7 1749.9h0M953.1 1734.3h0M944.8 1744.5h0M943.7 1725.7h0M948.9 1718.3h0M953.2 1748.8h0M944.8 1744.8h0M955.1 1747.5h0M915.7 1739.8h0M955.8 1745.3h0M952.8 1732.0h0M953.4 1740.3h0M930.2 1735.2h0M936.6 1723.1h0M951.3 1723.1h0M914.0 1747.4h0M919.9 1744.4h0M905.9 1733.5h0M915.4 1736.9h0M948.1 1752.5h0M955.8 1727.5h0M930.4 1725.6h0M908.1 1738.3h0M916.7 1749.3h0M943.4 1728.9h0M941.3 1751.3h0M944.1 1751.4h0M953.0 1733.3h0M910.7 1738.2h0M942.6 1718.7h0M954.3 1744.7h0M958.0 1747.2h0M924.6 1742.2h0M901.5 1722.7h0M912.0 1729.0h0M948.5 1718.1h0M872.9 1713.6h0M886.4 1684.5h0M947.0 1698.1h0M925.3 1703.5h0M934.7 1715.5h0M952.0 1710.2h0M909.6 1717.6h0M903.3 1688.1h0M929.1 1685.2h0M956.2 1699.2h0M957.0 1690.1h0M951.1 1713.3h0M943.8 1708.3h0M911.0 1696.3h0M947.0 1694.1h0M922.9 1696.8h0M860.9 1715.0h0M948.2 1685.2h0M907.8 1709.3h0M854.5 1693.9h0M821.3 1687.7h0M916.5 1713.5h0M940.8 1702.0h0M917.1 1696.3h0M910.9 1683.1h0M893.1 1693.1h0M937.9 1703.0h0M944.5 1693.5h0M890.1 1700.0h0M915.1 1714.3h0M944.5 1710.5h0M861.2 1696.1h0M908.0 1694.3h0M937.0 1702.7h0M943.9 1709.0h0M937.6 1716.2h0M960.1 1691.7h0M893.1 1711.1h0M956.1 1692.9h0M943.3 1684.8h0M945.6 1689.1h0M913.6 1697.2h0M919.9 1716.3h0M821.5 1693.2h0M881.0 1683.4h0M938.8 1707.4h0M956.5 1688.5h0M937.0 1699.1h0M957.7 1690.5h0M918.6 1692.4h0M956.8 1707.5h0M954.9 1701.1h0M929.9 1714.8h0M893.2 1714.0h0M905.2 1708.1h0M886.6 1692.9h0M945.1 1704.3h0M888.8 1687.6h0M953.1 1694.8h0M942.9 1685.7h0M926.4 1690.2h0M924.2 1702.6h0M956.7 1714.5h0M895.9 1700.9h0M951.6 1700.0h0M957.8 1714.3h0M918.6 1712.9h0M859.1 1683.4h0M936.5 1688.9h0M922.5 1705.5h0M895.3 1717.2h0M915.2 1708.7h0M932.5 1698.7h0M955.0 1683.9h0M906.7 1717.4h0M954.9 1692.8h0M923.9 1684.2h0M948.7 1684.0h0M921.3 1697.1h0M948.8 1690.4h0M919.3 1694.1h0M944.9 1717.6h0M898.6 1708.5h0M894.6 1684.9h0M899.4 1714.7h0M942.5 1712.5h0M917.8 1696.3h0M954.8 1686.5h0M927.7 1705.2h0M903.0 1696.9h0M951.6 1683.5h0M944.7 1688.5h0M940.8 1717.7h0M834.8 1694.2h0M893.0 1678.9h0M901.4 1648.9h0M955.8 1657.3h0M946.0 1650.7h0M950.5 1665.4h0M949.8 1680.7h0M955.2 1675.4h0M927.8 1679.8h0M876.8 1656.0h0M951.3 1651.7h0M934.9 1666.7h0M956.4 1653.1h0M904.0 1675.1h0M866.2 1667.3h0M930.1 1667.9h0M920.9 1665.4h0M906.5 1681.7h0M942.4 1676.7h0M839.8 1679.0h0M936.5 1659.8h0M887.2 1665.8h0M922.3 1647.5h0M948.0 1660.2h0M835.8 1675.5h0M946.2 1679.0h0M857.3 1658.6h0M939.0 1653.6h0M956.2 1678.0h0M954.4 1664.4h0M896.1 1648.8h0M935.9 1650.8h0M926.8 1678.7h0M902.3 1665.3h0M931.4 1651.8h0M880.1 1661.3h0M939.2 1682.0h0M835.3 1670.4h0M952.8 1672.8h0M910.3 1670.8h0M932.9 1648.1h0M954.0 1653.8h0M916.4 1647.4h0M903.3 1654.6h0M920.1 1648.5h0M873.8 1668.0h0M952.8 1649.6h0M884.3 1663.4h0M951.1 1654.0h0M894.2 1675.6h0M913.6 1651.7h0M887.8 1633.3h0M920.4 1614.0h0M954.2 1636.5h0M951.0 1633.3h0M920.4 1629.3h0M898.8 1616.0h0M952.7 1621.4h0M914.1 1638.1h0M888.9 1629.7h0M917.7 1617.2h0M927.6 1615.9h0M872.2 1621.0h0M876.4 1635.7h0M948.2 1614.7h0M897.6 1633.7h0M906.1 1621.5h0M937.5 1618.8h0M926.7 1623.0h0M865.1 1645.5h0M943.7 1639.8h0M948.0 1619.7h0M876.6 1624.2h0M949.4 1617.4h0M850.8 1622.4h0M900.9 1623.0h0M871.2 1616.1h0M894.0 1614.4h0M887.2 1637.2h0M920.9 1617.8h0M907.1 1613.1h0M924.2 1643.1h0M892.5 1631.7h0M943.8 1628.1h0M879.9 1627.4h0M951.2 1616.6h0M950.8 1611.6h0M871.1 1609.5h0M881.4 1584.2h0M915.6 1602.1h0M909.5 1595.5h0M895.4 1606.7h0M910.2 1577.9h0M950.6 1594.4h0M950.1 1609.4h0M939.6 1579.8h0M951.3 1591.0h0M918.8 1602.9h0M929.4 1608.6h0M908.3 1610.8h0M937.9 1581.2h0M949.0 1607.6h0M885.4 1604.1h0M949.2 1592.2h0M919.0 1609.5h0M949.4 1586.3h0M875.4 1589.0h0M915.3 1588.9h0M897.0 1563.8h0M946.7 1566.4h0M879.0 1549.1h0M923.7 1541.7h0M929.3 1555.4h0M949.2 1544.1h0M919.3 1570.9h0M946.2 1549.4h0M948.3 1568.2h0M948.0 1566.6h0M927.2 1575.4h0M847.5 1543.2h0M923.3 1571.1h0M904.9 1568.4h0M915.2 1564.2h0M987.3 1892.3h0M995.3 1876.3h0M992.9 1878.2h0M997.2 1866.4h0M1000.6 1878.7h0M990.0 1889.4h0M999.1 1861.6h0M987.9 1880.1h0M1000.5 1882.5h0M1006.3 1873.3h0M988.9 1891.0h0M986.3 1893.6h0M991.1 1861.7h0M989.2 1884.5h0M991.4 1870.1h0M994.1 1879.9h0M996.0 1872.5h0M997.1 1884.5h0M994.3 1865.4h0M1010.8 1867.9h0M999.3 1882.8h0M1014.3 1864.8h0M988.8 1892.3h0M989.9 1891.3h0M1003.8 1868.3h0M991.9 1881.1h0M1005.3 1870.0h0M993.6 1884.7h0M989.7 1864.6h0M985.9 1892.8h0M991.7 1881.7h0M1014.5 1863.6h0M992.0 1870.4h0M992.2 1883.2h0M992.0 1874.8h0M992.7 1867.0h0M994.9 1870.9h0M990.0 1891.3h0M1003.6 1871.1h0M992.2 1885.0h0M991.3 1871.2h0M995.4 1879.7h0M1011.2 1864.4h0M995.8 1861.4h0M1000.8 1867.4h0M988.9 1887.6h0M1011.6 1864.3h0M985.3 1892.8h0M1000.0 1860.2h0M991.6 1887.9h0M988.0 1882.5h0M1002.1 1867.1h0M991.2 1876.5h0M1008.0 1867.0h0M1003.1 1866.1h0M988.9 1866.5h0M998.4 1871.8h0M990.2 1884.7h0M997.2 1873.7h0M1008.7 1868.5h0M1009.5 1871.1h0M986.7 1893.8h0M989.1 1872.5h0M988.2 1892.8h0M993.9 1872.0h0M992.1 1879.6h0M990.3 1884.0h0M995.7 1879.1h0M1000.3 1862.9h0M985.5 1890.3h0M990.4 1887.1h0M990.5 1881.4h0M986.5 1892.8h0M1003.6 1882.8h0M988.8 1876.3h0M985.7 1887.4h0M1002.1 1884.1h0M990.0 1889.6h0M990.8 1864.2h0M996.3 1870.5h0M985.3 1894.9h0M1008.8 1871.6h0M1005.0 1881.9h0M993.1 1889.8h0M1010.8 1870.3h0M1004.3 1877.6h0M987.1 1883.3h0M989.0 1886.4h0M987.9 1878.1h0M997.8 1885.0h0M994.5 1871.5h0M997.7 1885.9h0M998.9 1882.7h0M1009.4 1862.1h0M992.8 1885.6h0M992.0 1888.9h0M998.9 1879.9h0M993.7 1875.6h0M985.7 1893.6h0M991.0 1891.2h0M1014.0 1860.0h0M1012.6 1866.5h0M990.2 1888.9h0M996.9 1877.2h0M997.6 1864.4h0M989.6 1882.1h0M988.2 1869.1h0M1005.2 1882.3h0M992.1 1888.0h0M991.2 1880.0h0M994.4 1876.0h0M1014.3 1862.7h0M1001.6 1869.0h0M989.0 1877.8h0M1011.3 1864.8h0M988.4 1870.4h0M986.8 1893.3h0M988.4 1880.5h0M1010.3 1865.3h0M998.1 1872.6h0M987.8 1888.0h0M1000.8 1879.5h0M997.9 1868.7h0M985.5 1894.6h0M984.6 1894.7h0M989.1 1870.7h0M989.3 1885.8h0M986.0 1894.3h0M993.1 1865.8h0M996.6 1885.7h0M990.2 1890.2h0M1015.1 1863.7h0M993.2 1884.7h0M989.1 1890.0h0M991.0 1882.5h0M987.6 1892.2h0M999.3 1881.4h0M999.8 1867.0h0M1003.5 1864.2h0M986.5 1886.8h0M1004.0 1867.9h0M988.5 1889.3h0M1008.2 1863.8h0M984.7 1894.9h0M987.1 1890.7h0M997.6 1862.3h0M999.1 1878.8h0M999.4 1885.8h0M989.1 1879.6h0M1000.8 1872.8h0M988.1 1878.0h0M996.1 1881.1h0M1006.3 1879.9h0M1006.4 1868.8h0M999.1 1869.4h0M1003.1 1879.5h0M987.4 1892.6h0M1004.6 1875.9h0M993.8 1884.0h0M1002.4 1864.7h0M1007.9 1873.7h0M988.2 1879.3h0M986.7 1893.1h0M987.7 1893.1h0M1007.1 1865.6h0M986.7 1893.9h0M996.1 1887.1h0M986.6 1880.2h0M1011.1 1864.6h0M995.6 1871.7h0M987.3 1875.8h0M1002.4 1883.2h0M997.0 1873.0h0M994.7 1881.7h0M1004.2 1862.8h0M991.6 1860.0h0M989.3 1870.4h0M992.6 1863.2h0M1003.8 1863.6h0M987.1 1891.7h0M1004.9 1861.9h0M1006.5 1864.5h0M984.7 1895.0h0M993.0 1869.8h0M995.0 1873.8h0M989.4 1887.1h0M1006.3 1877.9h0M990.9 1870.5h0M999.1 1864.1h0M995.7 1880.5h0M985.7 1894.2h0M994.6 1888.6h0M993.8 1863.6h0M1002.2 1869.8h0M1003.5 1871.6h0M995.8 1885.4h0M1001.6 1861.2h0M989.9 1889.9h0M1014.0 1861.0h0M985.1 1895.1h0M1006.2 1877.5h0M1012.2 1865.6h0M990.2 1890.6h0M1000.6 1878.3h0M989.3 1885.5h0M987.2 1892.6h0M995.3 1885.2h0M987.5 1879.1h0M1007.4 1860.6h0M996.0 1874.1h0M988.2 1892.7h0M986.1 1886.7h0M985.8 1893.1h0M1011.6 1869.1h0M985.8 1885.5h0M992.6 1878.1h0M991.7 1875.6h0M996.1 1885.3h0M988.4 1891.7h0M992.8 1889.7h0M991.9 1888.4h0M985.9 1888.3h0M990.9 1881.0h0M1003.7 1877.7h0M988.2 1887.8h0M1010.6 1871.6h0M985.4 1894.3h0M1004.6 1878.2h0M992.7 1881.1h0M988.2 1893.1h0M1011.0 1861.0h0M990.8 1861.8h0M984.6 1894.5h0M985.6 1894.1h0M985.0 1893.7h0M997.2 1866.1h0M998.6 1882.5h0M985.8 1888.5h0M994.1 1887.4h0M1009.4 1862.9h0M988.1 1884.5h0M997.3 1864.0h0M992.2 1875.5h0M1004.3 1879.8h0M1000.0 1869.1h0M1004.0 1871.3h0M1003.9 1863.6h0M1004.1 1863.2h0M998.4 1870.5h0M988.9 1878.5h0M1000.8 1860.8h0M986.3 1888.4h0M992.1 1873.4h0M994.6 1872.0h0M988.5 1889.4h0M991.6 1879.4h0M990.4 1882.1h0M993.8 1863.7h0M1013.5 1860.7h0M996.9 1873.7h0M1003.6 1876.9h0M1011.0 1871.7h0M1007.9 1875.0h0M1008.7 1869.4h0M1008.6 1873.9h0M988.6 1886.0h0M991.3 1869.0h0M988.6 1885.7h0M1004.3 1861.5h0M1012.1 1868.0h0M993.6 1877.7h0M986.3 1894.0h0M1001.5 1860.2h0M995.3 1872.0h0M985.6 1895.0h0M988.0 1890.1h0M989.0 1890.3h0M994.0 1888.2h0M1003.6 1879.2h0M993.3 1865.1h0M996.7 1871.4h0M1006.0 1877.6h0M990.3 1866.4h0M1000.5 1878.5h0M989.8 1878.2h0M998.8 1874.0h0M988.6 1875.8h0M1002.7 1884.0h0M1002.2 1875.1h0M987.1 1876.4h0M991.0 1864.9h0M988.7 1863.6h0M1010.4 1870.9h0M991.8 1874.8h0M995.5 1862.5h0M989.3 1890.2h0M1005.7 1867.6h0M1002.1 1870.0h0M993.9 1889.1h0M1002.6 1884.5h0M1027.1 1844.4h0M1021.4 1836.3h0M999.2 1836.0h0M992.5 1841.9h0M1002.7 1830.7h0M1000.5 1832.8h0M1018.8 1826.1h0M1009.4 1830.1h0M1010.6 1830.6h0M1013.5 1847.4h0M1000.5 1827.1h0M1005.9 1854.1h0M1010.4 1828.5h0M1022.5 1851.4h0M1008.8 1857.7h0M1026.8 1842.3h0M1018.6 1857.5h0M993.8 1825.1h0M998.2 1855.7h0M1019.6 1847.9h0M1016.8 1837.4h0M1022.0 1843.2h0M1003.8 1857.9h0M989.6 1859.9h0M1009.4 1837.3h0M998.4 1835.6h0M994.6 1844.5h0M1029.0 1832.7h0M1004.8 1838.7h0M1005.2 1855.7h0M1019.1 1842.2h0M1002.8 1827.5h0M1004.8 1857.8h0M994.6 1846.1h0M1011.8 1825.3h0M1016.1 1839.2h0M1021.9 1826.1h0M1000.9 1855.2h0M1012.2 1851.3h0M1011.4 1850.7h0M1007.6 1831.0h0M997.2 1859.7h0M1030.1 1834.2h0M1005.1 1825.0h0M1001.0 1830.7h0M1003.8 1827.7h0M1020.1 1841.0h0M1015.0 1847.8h0M1012.3 1851.7h0M1000.6 1847.0h0M1022.6 1825.4h0M1014.2 1835.0h0M1001.0 1840.1h0M994.5 1853.9h0M1006.5 1842.2h0M1025.5 1826.4h0M1000.7 1845.8h0M1009.8 1835.8h0M1010.7 1855.5h0M1016.2 1830.4h0M1019.0 1856.6h0M1004.4 1842.5h0M996.4 1851.1h0M995.7 1857.4h0M1004.9 1845.4h0M1002.1 1852.1h0M1031.7 1829.3h0M999.4 1835.8h0M1008.6 1832.6h0M1015.9 1837.9h0M1005.3 1833.7h0M1013.9 1839.7h0M1002.3 1840.9h0M1020.6 1854.6h0M992.9 1833.3h0M1016.8 1839.3h0M996.5 1832.0h0M1003.0 1840.0h0M995.6 1831.2h0M1025.4 1840.2h0M998.5 1850.3h0M1023.9 1834.6h0M1002.3 1852.4h0M999.8 1851.0h0M1011.3 1845.8h0M1010.4 1826.8h0M1003.0 1852.2h0M1011.1 1844.5h0M1007.6 1828.0h0M997.3 1858.0h0M1009.2 1832.3h0M1022.1 1840.5h0M1003.7 1851.1h0M1011.2 1834.0h0M1003.6 1840.9h0M1020.2 1825.3h0M1028.9 1842.1h0M1006.1 1849.4h0M1001.0 1824.8h0M1024.4 1842.9h0M1022.4 1833.2h0M1009.3 1855.1h0M1029.9 1825.0h0M995.1 1836.6h0M1015.3 1849.8h0M1011.3 1826.2h0M1015.8 1826.6h0M1029.4 1833.9h0M996.5 1855.3h0M994.6 1852.9h0M999.7 1828.2h0M1023.2 1827.1h0M1018.5 1846.9h0M1015.4 1836.9h0M1031.8 1824.6h0M1004.3 1849.5h0M1023.1 1845.8h0M1012.4 1831.4h0M1020.3 1832.2h0M1007.5 1830.5h0M1006.1 1837.7h0M1024.1 1831.5h0M1017.4 1859.3h0M1020.2 1852.1h0M1000.6 1850.5h0M992.4 1840.6h0M997.3 1837.0h0M1018.4 1855.0h0M1020.6 1855.6h0M1019.3 1854.1h0M1014.9 1855.5h0M1019.0 1853.0h0M1017.2 1841.9h0M998.7 1854.7h0M1010.6 1855.9h0M1017.1 1858.6h0M1008.5 1857.3h0M1008.4 1857.2h0M1028.2 1829.3h0M1030.0 1835.3h0M1010.1 1845.6h0M1014.2 1851.4h0M999.8 1853.9h0M992.3 1850.7h0M1024.2 1831.6h0M1013.1 1847.2h0M1008.8 1839.7h0M1027.7 1833.3h0M1003.8 1850.0h0M1000.8 1855.2h0M1010.4 1835.4h0M1007.5 1826.8h0M999.0 1846.3h0M1019.3 1827.0h0M997.3 1852.6h0M997.8 1842.2h0M1008.0 1840.2h0M1027.5 1844.5h0M993.5 1841.6h0M1017.0 1824.5h0M1004.6 1855.8h0M1021.9 1830.1h0M1029.1 1841.0h0M1024.3 1846.0h0M1017.3 1856.9h0M992.9 1846.9h0M1005.0 1849.7h0M1012.9 1841.2h0M1014.2 1848.5h0M1017.0 1850.2h0M1024.3 1828.2h0M1029.7 1831.4h0M1012.4 1841.4h0M1006.7 1852.1h0M1009.0 1850.2h0M1004.8 1831.9h0M1025.6 1842.8h0M1006.8 1840.3h0M1004.1 1859.5h0M1016.8 1836.0h0M1017.4 1826.9h0M1028.1 1838.6h0M1022.2 1842.6h0M1009.0 1827.7h0M1024.8 1832.2h0M997.7 1859.7h0M1008.6 1845.0h0M992.3 1844.6h0M1021.3 1851.1h0M1029.1 1840.3h0M999.5 1851.3h0M994.4 1853.1h0M998.9 1829.6h0M996.9 1830.6h0M1029.5 1831.9h0M1009.4 1860.0h0M1019.7 1839.0h0M1003.5 1840.8h0M1030.4 1827.0h0M1023.1 1835.9h0M1006.6 1829.0h0M995.2 1849.5h0M1014.5 1836.5h0M1006.3 1833.5h0M1028.3 1840.0h0M1016.4 1832.2h0M999.4 1850.5h0M1024.0 1834.2h0M1006.2 1834.8h0M996.6 1844.0h0M1022.8 1840.3h0M1030.5 1831.1h0M1028.4 1837.4h0M1011.5 1852.2h0M1008.0 1825.1h0M1013.2 1841.6h0M1011.1 1825.7h0M991.6 1844.2h0M992.2 1852.7h0M1031.1 1831.1h0M1000.9 1851.6h0M994.9 1859.8h0M1000.9 1852.3h0M1009.9 1837.1h0M1007.7 1857.1h0M1007.4 1859.7h0M1013.4 1857.7h0M1004.7 1828.7h0M1003.7 1840.3h0M1008.8 1846.2h0M1008.1 1847.9h0M994.9 1855.4h0M1011.8 1853.1h0M1010.9 1834.6h0M994.1 1842.2h0M996.3 1842.5h0M1001.6 1826.1h0M1015.0 1838.7h0M1001.6 1849.5h0M1004.9 1841.8h0M997.1 1824.6h0M1009.3 1833.2h0M1010.8 1845.2h0M1004.6 1859.1h0M997.8 1842.4h0M1005.4 1855.1h0M1003.1 1849.7h0M1014.4 1856.9h0M1016.1 1855.4h0M1004.8 1855.0h0M1011.8 1850.1h0M1013.8 1849.4h0M1006.2 1825.9h0M1015.6 1837.7h0M1025.6 1832.1h0M1003.3 1830.4h0M1009.4 1843.8h0M1015.2 1833.9h0M1023.2 1835.7h0M1013.2 1838.6h0M1016.5 1856.4h0M993.7 1850.4h0M1028.1 1839.1h0M1008.7 1859.6h0M1007.6 1857.8h0M992.9 1846.1h0M1001.9 1827.6h0M1003.9 1827.6h0M1004.2 1834.7h0M1011.0 1832.4h0M1011.2 1849.8h0M994.3 1833.3h0M1010.6 1828.4h0M1019.0 1848.0h0M1002.0 1846.8h0M1030.9 1834.2h0M1008.5 1843.9h0M995.9 1841.3h0M997.2 1848.1h0M1009.1 1836.7h0M1009.3 1852.2h0M1013.4 1843.5h0M1011.5 1842.6h0M1030.1 1824.8h0M1014.5 1837.4h0M1007.7 1849.0h0M993.6 1836.3h0M1000.6 1830.9h0M1014.2 1853.1h0M1010.7 1851.9h0M1020.0 1812.1h0M1012.1 1811.0h0M1006.2 1793.2h0M1000.9 1800.7h0M1029.5 1808.3h0M1028.5 1798.7h0M1016.1 1793.5h0M1026.5 1792.5h0M1022.9 1796.8h0M1011.6 1818.2h0M1006.1 1820.7h0M1003.8 1800.7h0M1026.8 1802.9h0M1021.9 1823.5h0M1005.6 1812.8h0M1011.1 1793.0h0M1026.2 1802.9h0M1034.9 1810.9h0M1012.5 1810.1h0M1011.2 1794.1h0M1024.7 1805.9h0M1021.0 1791.1h0M1027.4 1804.9h0M1000.4 1814.4h0M1018.3 1805.3h0M1026.4 1810.8h0M1013.3 1810.7h0M1037.8 1797.0h0M1020.6 1802.1h0M1012.2 1789.5h0M1006.6 1810.2h0M1030.8 1822.5h0M1021.0 1792.5h0M1008.9 1791.1h0M1017.7 1823.2h0M1018.6 1803.0h0M1008.1 1814.5h0M1009.4 1798.0h0M1018.6 1819.4h0M995.1 1823.5h0M995.4 1812.4h0M1032.4 1794.6h0M1028.7 1818.1h0M1019.1 1818.4h0M1025.4 1802.0h0M1005.4 1796.2h0M1023.6 1816.5h0M1000.0 1812.6h0M1017.3 1795.9h0M1014.3 1818.3h0M1046.3 1820.4h0M1012.2 1816.4h0M1027.5 1805.1h0M999.0 1802.3h0M1022.1 1808.2h0M1012.7 1814.5h0M1028.8 1795.3h0M1028.4 1796.3h0M1028.6 1819.3h0M1009.6 1802.4h0M1003.5 1808.2h0M1015.2 1802.9h0M1023.5 1797.0h0M1011.7 1810.3h0M1010.2 1797.9h0M1011.6 1808.2h0M1034.6 1802.0h0M1001.3 1812.6h0M999.9 1797.1h0M1021.1 1812.3h0M1007.7 1791.5h0M1008.2 1805.6h0M999.2 1791.4h0M1003.6 1792.5h0M1019.4 1802.4h0M1025.7 1809.4h0M998.4 1801.9h0M1008.2 1800.2h0M1033.9 1797.3h0M1000.7 1806.9h0M1015.0 1817.5h0M1001.7 1821.4h0M1014.8 1798.3h0M1017.5 1816.7h0M997.3 1799.9h0M1026.3 1814.0h0M1025.9 1812.4h0M998.4 1798.7h0M1015.6 1809.1h0M1025.4 1795.1h0M1035.1 1790.3h0M1022.1 1816.6h0M1026.7 1822.6h0M1032.7 1800.2h0M1028.0 1811.9h0M1000.0 1792.3h0M999.5 1815.9h0M1022.3 1803.6h0M1023.9 1805.5h0M999.4 1814.1h0M1020.2 1795.9h0M1001.5 1794.0h0M997.1 1822.2h0M1025.2 1820.2h0M1033.2 1821.5h0M1024.4 1815.6h0M1003.9 1795.1h0M1013.2 1811.6h0M1024.6 1792.3h0M1034.2 1807.3h0M1027.2 1797.9h0M1011.7 1810.1h0M998.5 1823.4h0M1017.1 1821.6h0M999.3 1794.4h0M1002.9 1804.6h0M1008.0 1789.6h0M1001.6 1810.0h0M996.6 1815.0h0M1011.5 1823.7h0M1001.8 1814.3h0M1016.5 1821.7h0M1003.1 1819.9h0M1004.0 1794.1h0M1024.5 1802.5h0M1001.9 1809.7h0M1030.1 1824.1h0M1019.0 1808.3h0M1016.3 1794.7h0M1004.2 1792.9h0M1026.2 1799.4h0M999.4 1816.0h0M1030.3 1820.1h0M1036.8 1796.9h0M1012.0 1821.0h0M1009.0 1795.1h0M1018.6 1792.0h0M1013.5 1805.4h0M1013.5 1789.6h0M1033.1 1817.9h0M1039.6 1790.9h0M1031.6 1813.6h0M1025.7 1808.7h0M1001.1 1796.9h0M1033.5 1789.4h0M1034.4 1809.4h0M1013.0 1823.5h0M1019.4 1816.8h0M1015.4 1814.0h0M1002.5 1797.3h0M1002.4 1799.9h0M1035.5 1799.8h0M1076.4 1792.1h0M1004.1 1810.9h0M997.7 1812.8h0M1028.9 1804.6h0M1022.9 1796.7h0M1035.4 1795.1h0M998.1 1813.0h0M1025.1 1793.4h0M1012.5 1811.7h0M1008.7 1808.2h0M1029.8 1814.7h0M1018.3 1805.4h0M1009.7 1802.6h0M1015.5 1821.6h0M1004.2 1813.8h0M1032.7 1815.3h0M1006.4 1821.7h0M1032.9 1823.2h0M1034.9 1805.5h0M1031.9 1817.5h0M1000.5 1816.9h0M1018.0 1820.5h0M1012.3 1805.1h0M1009.5 1795.1h0M1029.2 1806.8h0M1001.2 1796.0h0M999.5 1800.2h0M1030.2 1819.3h0M1030.1 1824.5h0M1011.4 1821.1h0M1031.2 1822.1h0M1038.3 1796.6h0M1012.5 1806.4h0M1021.2 1789.5h0M1026.3 1802.7h0M1024.9 1806.5h0M1011.5 1795.9h0M1003.8 1798.2h0M997.1 1809.4h0M1009.6 1819.0h0M1032.1 1792.2h0M1031.4 1814.7h0M1007.4 1813.3h0M1010.1 1801.7h0M999.2 1809.2h0M997.6 1815.9h0M1018.8 1800.2h0M1016.8 1824.0h0M1031.4 1812.1h0M1025.0 1812.3h0M1003.7 1789.5h0M1002.1 1821.3h0M1022.2 1820.1h0M1026.3 1802.6h0M1015.6 1807.4h0M1025.6 1808.2h0M1000.6 1792.2h0M1033.7 1793.7h0M1003.3 1811.2h0M1021.2 1802.5h0M1007.7 1818.9h0M1024.6 1815.1h0M1016.4 1810.7h0M996.4 1824.4h0M997.6 1798.0h0M1017.5 1809.7h0M1000.7 1810.4h0M1018.7 1793.8h0M1006.0 1819.2h0M996.5 1819.2h0M1012.0 1792.9h0M1016.3 1822.3h0M1032.4 1798.5h0M1016.8 1814.1h0M1011.3 1798.6h0M1014.9 1789.4h0M1015.8 1794.8h0M1021.9 1796.8h0M1024.5 1821.1h0M1040.4 1812.5h0M1014.5 1791.1h0M1019.0 1812.2h0M998.1 1805.2h0M1021.3 1812.3h0M1017.3 1808.8h0M1005.2 1791.1h0M1013.9 1794.0h0M1020.0 1791.5h0M1014.2 1794.6h0M1002.7 1801.8h0M1025.7 1824.4h0M1022.1 1816.2h0M1029.1 1822.8h0M1029.8 1790.2h0M1029.2 1813.0h0M1017.1 1795.9h0M1025.6 1813.0h0M1020.9 1809.7h0M1018.5 1799.2h0M998.2 1809.7h0M1012.0 1804.3h0M1008.9 1823.4h0M1015.2 1796.2h0M1025.6 1808.8h0M1008.3 1807.6h0M1032.7 1798.9h0M1029.8 1803.6h0M1020.2 1807.7h0M1009.3 1814.7h0M1005.2 1811.9h0M1011.9 1805.0h0M1002.4 1790.2h0M997.3 1806.9h0M1003.2 1798.7h0M1008.0 1814.5h0M1011.3 1809.2h0M1015.1 1806.5h0M1022.0 1806.7h0M1005.0 1767.6h0M1032.3 1770.7h0M1022.8 1783.5h0M1025.3 1779.5h0M1007.7 1778.9h0M1017.9 1774.7h0M1006.6 1761.8h0M1013.0 1769.2h0M1053.0 1773.8h0M1025.1 1783.9h0M1028.4 1765.5h0M1003.6 1779.3h0M1037.0 1764.9h0M1005.1 1757.1h0M1057.8 1753.8h0M1028.1 1760.3h0M1029.4 1779.6h0M1011.2 1766.4h0M1021.9 1780.3h0M1034.4 1787.4h0M1010.6 1772.4h0M1012.8 1782.4h0M1035.6 1779.0h0M1018.7 1780.2h0M1004.7 1763.5h0M1008.5 1782.1h0M1030.2 1770.2h0M1046.5 1761.1h0M1027.5 1756.0h0M1034.3 1771.0h0M1020.9 1777.0h0M1021.7 1759.5h0M1013.4 1779.0h0M1004.5 1777.3h0M1036.1 1781.2h0M1017.0 1768.4h0M1009.1 1755.6h0M1016.3 1761.1h0M1015.1 1762.8h0M1013.6 1787.5h0M1032.3 1787.5h0M1005.0 1758.5h0M1016.8 1788.9h0M1042.6 1768.7h0M1027.4 1772.9h0M1002.1 1756.7h0M1010.2 1760.7h0M1041.3 1781.2h0M1006.2 1775.4h0M1022.9 1759.4h0M1028.9 1760.1h0M1009.3 1773.2h0M1024.5 1769.3h0M1043.7 1764.1h0M1017.8 1784.1h0M1004.8 1767.6h0M1012.4 1762.5h0M1030.4 1765.1h0M1011.8 1769.7h0M1037.7 1763.6h0M1034.6 1766.9h0M1042.2 1770.3h0M1044.5 1770.7h0M1040.6 1778.8h0M1022.6 1775.8h0M1022.6 1779.6h0M1052.4 1756.1h0M1036.3 1762.6h0M1014.6 1774.8h0M1049.6 1760.1h0M1037.7 1766.8h0M1026.5 1765.8h0M1038.6 1775.4h0M1023.9 1781.3h0M1052.3 1759.0h0M1034.1 1787.3h0M1033.0 1783.3h0M1027.9 1778.2h0M1019.8 1768.1h0M1021.6 1781.0h0M1019.5 1772.3h0M1010.0 1782.0h0M1009.4 1754.7h0M1036.9 1767.8h0M1049.2 1764.1h0M1018.8 1774.7h0M1027.8 1786.8h0M1026.8 1768.6h0M1045.5 1784.9h0M1045.7 1759.7h0M1008.5 1783.9h0M1032.4 1761.7h0M1030.5 1774.5h0M1000.8 1787.5h0M1012.3 1786.1h0M1048.6 1766.1h0M1014.2 1774.8h0M1008.4 1788.2h0M1005.6 1764.1h0M1039.8 1786.9h0M1030.5 1764.7h0M1008.1 1783.2h0M1043.6 1767.4h0M1013.8 1757.0h0M1005.3 1755.5h0M1035.0 1759.8h0M1040.6 1764.0h0M1022.0 1788.2h0M1004.6 1788.6h0M1004.1 1769.7h0M1003.5 1782.6h0M1006.8 1775.5h0M1028.7 1782.7h0M1024.6 1774.7h0M1024.7 1769.4h0M1025.0 1770.1h0M1053.1 1757.9h0M1021.4 1754.8h0M1026.6 1758.1h0M1034.7 1786.3h0M1003.5 1778.8h0M1039.1 1772.5h0M1013.7 1756.6h0M1020.1 1760.3h0M1013.6 1782.6h0M1015.2 1784.3h0M1022.2 1779.1h0M1009.3 1772.6h0M1037.1 1769.8h0M1013.1 1787.7h0M1011.3 1756.5h0M1035.5 1765.6h0M1042.1 1758.6h0M1014.9 1769.4h0M1004.7 1775.8h0M1002.7 1782.3h0M1023.4 1785.9h0M1046.7 1767.0h0M1002.2 1771.1h0M1008.1 1779.6h0M1049.3 1753.7h0M1032.9 1779.4h0M1038.6 1788.4h0M1013.0 1764.7h0M1028.7 1759.6h0M1034.0 1770.9h0M1037.7 1770.8h0M1035.5 1787.5h0M1016.5 1771.7h0M1036.6 1777.6h0M1034.9 1774.1h0M1029.6 1786.9h0M1045.1 1778.5h0M1050.3 1758.6h0M1021.3 1785.0h0M1023.6 1785.7h0M1037.2 1778.0h0M1027.0 1771.5h0M1014.5 1786.9h0M1013.9 1775.2h0M1017.6 1760.4h0M1048.8 1780.0h0M1047.6 1783.7h0M1027.7 1772.4h0M1021.4 1769.6h0M1016.5 1763.6h0M1021.0 1778.9h0M1022.0 1762.6h0M1019.3 1786.9h0M1054.0 1772.2h0M1006.2 1756.8h0M1069.0 1760.5h0M1032.5 1757.1h0M1032.0 1759.5h0M1040.1 1758.1h0M1057.1 1766.9h0M1019.6 1759.9h0M1051.6 1757.9h0M1042.4 1766.6h0M1035.3 1787.4h0M1019.5 1774.8h0M1044.1 1761.9h0M1006.4 1777.7h0M1004.6 1771.1h0M1025.8 1779.0h0M1036.7 1786.2h0M1013.3 1779.7h0M1019.2 1786.3h0M1048.3 1760.6h0M1044.2 1756.2h0M1016.0 1776.3h0M1037.7 1785.1h0M1012.5 1780.2h0M1024.8 1775.3h0M1046.5 1763.0h0M1042.7 1772.3h0M1020.2 1757.7h0M1021.7 1771.3h0M1009.3 1757.6h0M1016.2 1779.1h0M1019.9 1777.4h0M1031.8 1754.8h0M1037.0 1785.7h0M1053.3 1757.0h0M1046.0 1760.6h0M1011.4 1757.7h0M1010.9 1777.3h0M1007.3 1784.9h0M1017.7 1755.2h0M1021.2 1772.1h0M1061.5 1755.3h0M1024.7 1775.3h0M1014.3 1786.3h0M1029.5 1767.7h0M1033.2 1782.0h0M1040.3 1754.6h0M1025.4 1758.8h0M1030.2 1757.3h0M1044.8 1756.6h0M1021.4 1788.5h0M1041.8 1781.5h0M1012.8 1771.9h0M1039.5 1779.9h0M1033.9 1765.3h0M1008.8 1759.2h0M1010.5 1763.5h0M1019.3 1786.5h0M1033.5 1775.6h0M1039.8 1778.9h0M1030.9 1763.6h0M1052.8 1726.6h0M1014.6 1718.9h0M1056.0 1719.5h0M1026.7 1752.9h0M1034.0 1730.9h0M1017.0 1742.9h0M1049.6 1730.2h0M1039.7 1723.8h0M1029.8 1750.7h0M1058.6 1750.1h0M1034.5 1740.6h0M1045.3 1719.1h0M1032.6 1738.3h0M1059.9 1725.3h0M1017.2 1738.5h0M1038.4 1753.2h0M1026.7 1743.0h0M1055.7 1750.1h0M1064.3 1740.4h0M1020.2 1723.7h0M1014.6 1733.6h0M1056.7 1741.8h0M1017.7 1741.7h0M1013.1 1747.0h0M1089.9 1724.2h0M1046.9 1720.7h0M1025.8 1751.4h0M1026.5 1728.6h0M1054.5 1736.8h0M1091.8 1718.8h0M1018.3 1743.0h0M1025.7 1753.2h0M1033.6 1736.5h0M1061.7 1733.7h0M1015.1 1721.7h0M1053.6 1742.8h0M1035.3 1734.9h0M1039.9 1731.8h0M1015.4 1738.8h0M1022.9 1746.7h0M1063.2 1735.7h0M1123.9 1720.2h0M1019.3 1750.8h0M1020.0 1748.1h0M1017.3 1751.1h0M1046.0 1746.3h0M1044.6 1738.4h0M1034.3 1736.0h0M1060.9 1729.0h0M1051.9 1736.8h0M1046.7 1727.0h0M1146.0 1720.7h0M1007.4 1752.5h0M1016.0 1739.6h0M1112.7 1741.8h0M1012.9 1735.2h0M1028.4 1742.6h0M1056.8 1725.6h0M1048.5 1732.8h0M1023.0 1750.5h0M1106.9 1725.0h0M1040.4 1744.3h0M1020.2 1747.7h0M1033.9 1752.0h0M1035.7 1739.6h0M1050.9 1722.2h0M1077.8 1743.0h0M1024.2 1751.2h0M1025.6 1749.1h0M1024.3 1735.7h0M1017.6 1722.0h0M1021.1 1725.3h0M1018.6 1737.1h0M1052.4 1725.2h0M1051.2 1746.9h0M1011.6 1744.6h0M1050.9 1751.7h0M1057.3 1743.2h0M1028.3 1726.9h0M1027.2 1748.2h0M1042.6 1746.0h0M1097.4 1734.0h0M1065.1 1727.4h0M1031.4 1751.4h0M1021.4 1740.9h0M1029.6 1737.6h0M1035.2 1742.5h0M1023.6 1740.9h0M1045.5 1723.9h0M1044.7 1736.9h0M1042.7 1735.4h0M1047.8 1748.5h0M1046.5 1733.3h0M1028.4 1734.3h0M1055.9 1741.0h0M1030.8 1750.5h0M1005.5 1742.6h0M1022.9 1737.0h0M1034.1 1750.3h0M1055.4 1742.8h0M1052.9 1740.9h0M1013.3 1737.9h0M1020.4 1743.3h0M1052.8 1731.0h0M1050.6 1723.4h0M1041.5 1728.4h0M1012.0 1745.4h0M1058.1 1745.9h0M1013.2 1749.9h0M1008.2 1742.9h0M1031.7 1745.5h0M1032.3 1753.1h0M1045.3 1740.7h0M1014.6 1720.6h0M1056.4 1753.4h0M1044.8 1735.0h0M1030.4 1718.9h0M1070.0 1744.7h0M1035.8 1731.9h0M1070.1 1746.5h0M1010.8 1739.8h0M1067.6 1734.9h0M1027.4 1724.4h0M1045.5 1740.8h0M1048.8 1723.8h0M1017.2 1718.3h0M1087.8 1735.2h0M1035.9 1721.5h0M1012.0 1746.4h0M1062.4 1720.9h0M1029.8 1725.3h0M1019.1 1734.7h0M1004.9 1751.7h0M1018.4 1724.0h0M1059.9 1731.7h0M1031.8 1735.6h0M1101.5 1721.0h0M1057.9 1746.5h0M1018.3 1737.2h0M1018.1 1748.3h0M1026.2 1738.2h0M1088.6 1748.4h0M1014.3 1734.0h0M1009.2 1732.5h0M1031.3 1750.4h0M1041.8 1736.2h0M1046.2 1740.2h0M1019.6 1743.5h0M1025.9 1720.3h0M1073.5 1735.3h0M1106.0 1720.3h0M1054.3 1748.5h0M1028.4 1742.8h0M1025.7 1735.5h0M1053.0 1719.8h0M1019.5 1733.1h0M1013.4 1728.0h0M1017.0 1725.8h0M1039.4 1730.0h0M1047.0 1753.6h0M1029.8 1751.1h0M1048.7 1750.3h0M1008.8 1740.2h0M1028.0 1745.5h0M1042.2 1721.2h0M1045.7 1710.3h0M1079.8 1684.0h0M1043.0 1708.7h0M1114.1 1715.9h0M1013.3 1714.7h0M1124.7 1710.6h0M1064.7 1709.0h0M1017.3 1715.2h0M1030.4 1710.0h0M1014.5 1696.5h0M1052.2 1692.0h0M1087.4 1697.1h0M1020.3 1698.7h0M1014.5 1713.2h0M1016.5 1705.6h0M1058.2 1715.8h0M1094.4 1697.2h0M1055.5 1695.9h0M1018.5 1707.1h0M1016.6 1690.1h0M1015.9 1709.4h0M1015.4 1683.0h0M1012.1 1693.3h0M1082.7 1692.1h0M1026.8 1713.5h0M1024.4 1706.1h0M1060.1 1695.2h0M1030.4 1717.2h0M1078.3 1705.4h0M1010.6 1683.3h0M1015.2 1715.0h0M1046.2 1691.6h0M1077.3 1712.3h0M1013.2 1703.4h0M1024.3 1717.2h0M1013.6 1714.3h0M1041.1 1705.9h0M1024.6 1704.5h0M1031.8 1708.4h0M1026.3 1706.9h0M1058.5 1698.4h0M1035.0 1718.1h0M1063.4 1690.6h0M1111.5 1695.2h0M1084.0 1696.1h0M1047.6 1693.4h0M1041.8 1708.2h0M1048.7 1711.4h0M1019.0 1692.7h0M1020.9 1693.8h0M1038.4 1698.3h0M1051.0 1705.3h0M1040.2 1715.0h0M1051.8 1689.9h0M1012.1 1688.6h0M1007.3 1684.1h0M1088.8 1689.0h0M1104.9 1700.1h0M1044.3 1714.2h0M1012.0 1682.9h0M1012.2 1684.2h0M1038.7 1705.0h0M1017.9 1684.3h0M1046.8 1702.6h0M1008.7 1707.2h0M1027.7 1712.9h0M1012.6 1717.4h0M1074.5 1696.2h0M1022.4 1712.6h0M1016.2 1717.9h0M1034.2 1717.4h0M1015.8 1705.7h0M1047.8 1703.3h0M1090.1 1702.1h0M1013.8 1700.5h0M1043.5 1683.3h0M1148.3 1688.1h0M1080.6 1705.4h0M1012.0 1689.6h0M1112.1 1691.5h0M1036.4 1717.0h0M1084.1 1701.4h0M1107.9 1704.8h0M1072.5 1710.1h0M1067.0 1706.2h0M1064.4 1708.9h0M1050.2 1716.8h0M1032.9 1706.8h0M1010.9 1696.2h0M1033.7 1689.4h0M1047.0 1696.7h0M1014.3 1702.1h0M1016.5 1712.2h0M1062.8 1689.0h0M1049.2 1706.9h0M1027.9 1667.2h0M1102.2 1660.7h0M1034.9 1658.8h0M1017.1 1658.4h0M1116.8 1657.9h0M1008.5 1655.3h0M1010.0 1670.6h0M1051.4 1658.9h0M1026.3 1676.3h0M1042.3 1648.5h0M1033.4 1671.6h0M1116.7 1654.3h0M1031.2 1672.0h0M1066.3 1680.5h0M1092.8 1682.1h0M1073.5 1669.0h0M1112.8 1664.6h0M1070.5 1682.0h0M1011.1 1673.0h0M1022.1 1659.9h0M1031.5 1669.0h0M1013.9 1658.7h0M1046.5 1651.9h0M1068.3 1653.2h0M1014.8 1663.1h0M1033.2 1652.1h0M1106.9 1666.7h0M1083.5 1675.5h0M1090.2 1682.2h0M1011.6 1672.1h0M1023.9 1670.5h0M1063.5 1679.0h0M1054.6 1660.5h0M1042.7 1682.7h0M1027.9 1676.6h0M1011.7 1669.2h0M1072.7 1667.8h0M1009.6 1676.6h0M1043.9 1680.4h0M1168.3 1649.5h0M1032.1 1672.3h0M1068.9 1679.8h0M1085.6 1676.3h0M1017.4 1666.1h0M1031.7 1652.4h0M1014.0 1670.2h0M1144.6 1651.5h0M1036.1 1668.0h0M1050.2 1670.4h0M1063.2 1658.3h0M1111.4 1622.9h0M1127.1 1636.8h0M1014.9 1632.9h0M1016.1 1628.0h0M1064.6 1621.2h0M1014.3 1617.1h0M1015.4 1645.4h0M1089.3 1645.6h0M1015.0 1635.4h0M1088.3 1622.7h0M1054.7 1627.6h0M1109.7 1647.0h0M1079.2 1638.2h0M1107.9 1640.4h0M1090.7 1626.1h0M1017.8 1619.8h0M1041.8 1647.0h0M1031.3 1641.2h0M1067.0 1644.1h0M1103.3 1641.0h0M1176.4 1616.2h0M1060.8 1625.2h0M1031.7 1626.9h0M1012.5 1646.2h0M1025.1 1618.5h0M1019.7 1646.9h0M1025.2 1617.3h0M1070.6 1630.1h0M1029.9 1645.4h0M1091.8 1641.2h0M1106.6 1614.1h0M1017.1 1630.2h0M1111.5 1612.0h0M1018.3 1628.0h0M1013.1 1622.5h0M1071.6 1609.4h0M1087.6 1600.2h0M1036.2 1608.4h0M1059.4 1592.7h0M1018.6 1595.5h0M1034.7 1577.4h0M1099.2 1599.3h0M1044.4 1604.7h0M1051.4 1595.3h0M1018.9 1578.1h0M1117.3 1590.1h0M1034.9 1594.7h0M1074.6 1606.7h0M1016.9 1593.6h0M1074.1 1587.2h0M1020.6 1578.2h0M1031.7 1581.4h0M1017.8 1611.8h0M1022.7 1582.5h0M1134.1 1580.7h0M1036.4 1605.0h0M1035.7 1609.1h0M1043.7 1572.7h0M1051.1 1552.7h0M1051.5 1555.7h0M1020.4 1569.7h0M1133.9 1541.3h0M1064.8 1574.4h0M1087.5 1568.4h0M1021.4 1575.1h0M1093.4 1566.0h0M1081.6 1551.5h0M1042.6 1543.3h0M1040.7 1548.2h0M1018.1 1576.3h0M1075.9 1545.4h0M1081.9 1566.8h0M901.2 1334.6h0M888.7 1343.8h0M898.1 1406.0h0M885.6 1429.2h0M921.1 1446.1h0M938.3 1455.6h0M899.7 1456.9h0M887.1 1467.5h0M888.7 1475.7h0M922.8 1478.8h0M877.7 1484.9h0M888.7 1489.6h0M901.2 1490.9h0M936.5 1489.6h0M881.0 1518.9h0M935.0 1517.4h0M881.0 1531.3h0M902.5 1532.6h0M924.0 1532.3h0M928.6 1537.7h0M1059.1 1413.7h0M1043.7 1427.6h0M1037.5 1456.9h0M1090.2 1471.0h0M1114.7 1488.0h0M1029.3 1497.1h0M1032.9 1497.1h0M1059.4 1497.5h0M1062.7 1500.2h0M1053.0 1515.8h0M1030.2 1526.8h0M1034.7 1523.5h0M1021.9 1535.9h0M763.5 1766.9h0M844.2 1794.3h0M853.1 1805.3h0M855.8 1774.3h0M862.2 1745.1h0M855.8 1723.2h0M879.1 1815.0h0M888.6 1821.1h0M885.4 1797.5h0M891.7 1780.6h0M870.6 1698.3h0M900.8 1808.7h0M924.4 1838.2h0M928.7 1857.7h0M941.3 1859.8h0M949.8 1865.0h0M1074.3 1833.4h0M1063.8 1832.3h0M1049.0 1840.8h0M1032.1 1859.8h0M1076.4 1813.3h0M1073.3 1800.7h0M1095.4 1794.3h0M1099.7 1767.9h0M1099.7 1754.2h0M1087.0 1779.5h0M1082.8 1753.2h0M819.2 1628.8h0M819.2 1641.9h0M819.2 1660.1h0M832.7 1582.4h0M834.4 1753.0h0M843.7 1795.2h0M853.4 1805.8h0M856.0 1723.4h0M856.0 1775.0h0M862.3 1570.1h0M862.7 1745.4h0M1153.2 1594.6h0M1142.3 1644.0h0M1125.8 1652.9h0M1137.2 1652.5h0M1145.6 1664.7h0M1133.0 1675.7h0M1114.8 1666.4h0M1111.9 1680.3h0M1114.0 1692.6h0M1119.5 1709.9h0" stroke="#a6a6a6" stroke-width="5.6" stroke-linecap="round" fill="none"/>
<path d="M877.58,1307.50 L877.32,1308.63 L877.06,1309.76 L876.80,1310.90 L876.53,1312.03 L876.26,1313.16 L875.99,1314.29 L875.72,1315.42 L875.44,1316.55 L875.16,1317.69 L874.88,1318.82 L874.59,1319.95 L874.30,1321.08 L874.01,1322.21 L873.71,1323.35 L873.42,1324.48 L873.11,1325.61 L872.81,1326.74 L872.50,1327.87 L872.19,1329.00 L871.87,1330.14 L871.55,1331.27 L871.23,1332.40 L870.91,1333.53 L870.58,1334.66 L870.25,1335.79 L869.91,1336.93 L869.57,1338.06 L869.22,1339.19 L868.88,1340.32 L868.52,1341.45 L868.17,1342.59 L867.81,1343.72 L867.45,1344.85 L867.08,1345.98 L866.70,1347.11 L866.33,1348.24 L865.95,1349.38 L865.56,1350.51 L865.17,1351.64 L864.78,1352.77 L864.38,1353.90 L863.97,1355.04 L863.57,1356.17 L863.15,1357.30 L862.73,1358.43 L862.31,1359.56 L861.88,1360.69 L861.45,1361.83 L861.01,1362.96 L860.57,1364.09 L860.12,1365.22 L859.66,1366.35 L859.20,1367.48 L858.73,1368.62 L858.26,1369.75 L857.78,1370.88 L857.30,1372.01 L856.81,1373.14 L856.31,1374.28 L855.81,1375.41 L855.30,1376.54 L854.79,1377.67 L854.27,1378.80 L853.74,1379.93 L853.20,1381.07 L852.66,1382.20 L852.11,1383.33 L851.55,1384.46 L850.99,1385.59 L850.42,1386.73 L849.84,1387.86 L849.25,1388.99 L848.66,1390.12 L848.06,1391.25 L847.44,1392.38 L846.83,1393.52 L846.20,1394.65 L845.56,1395.78 L844.92,1396.91 L844.27,1398.04 L843.60,1399.18 L842.93,1400.31 L842.25,1401.44 L841.56,1402.57 L840.86,1403.70 L840.15,1404.83 L839.43,1405.97 L838.70,1407.10 L837.96,1408.23 L837.21,1409.36 L836.45,1410.49 L835.67,1411.62 L834.89,1412.76 L834.09,1413.89 L833.28,1415.02 L832.46,1416.15 L831.63,1417.28 L830.79,1418.42 L829.93,1419.55 L829.06,1420.68 L828.18,1421.81 L827.28,1422.94 L826.37,1424.07 L825.45,1425.21 L824.51,1426.34 L823.56,1427.47 L822.59,1428.60 L821.60,1429.73 L820.61,1430.87 L819.59,1432.00 L818.56,1433.13 L817.51,1434.26 L816.45,1435.39 L815.37,1436.52 L814.27,1437.66 L813.15,1438.79 L812.02,1439.92 L810.86,1441.05 L809.69,1442.18 L808.50,1443.31 L807.29,1444.45 L806.05,1445.58 L804.80,1446.71 L803.52,1447.84 L802.23,1448.97 L800.91,1450.11 L799.56,1451.24 L798.20,1452.37 L796.81,1453.50 L795.39,1454.63 L793.96,1455.76 L792.49,1456.90 L791.00,1458.03 L789.48,1459.16 L787.94,1460.29 L786.36,1461.42 L784.76,1462.56 L783.13,1463.69 L781.46,1464.82 L779.77,1465.95 L778.04,1467.08 L776.29,1468.21 L774.49,1469.35 L772.67,1470.48 L770.81,1471.61 L768.91,1472.74 L766.98,1473.87 L765.00,1475.00 L762.99,1476.14 L760.94,1477.27 L758.85,1478.40 L756.72,1479.53 L754.54,1480.66 L752.32,1481.80 L750.05,1482.93 L747.74,1484.06 L745.37,1485.19 L742.96,1486.32 L740.50,1487.45" fill="none" stroke="#000" stroke-width="2.6"/>
<path d="M1091.27,1307.50 L1091.55,1308.62 L1091.82,1309.74 L1092.10,1310.87 L1092.39,1311.99 L1092.67,1313.11 L1092.96,1314.23 L1093.25,1315.36 L1093.54,1316.48 L1093.83,1317.60 L1094.13,1318.72 L1094.43,1319.85 L1094.73,1320.97 L1095.03,1322.09 L1095.34,1323.21 L1095.65,1324.34 L1095.96,1325.46 L1096.28,1326.58 L1096.59,1327.70 L1096.91,1328.83 L1097.24,1329.95 L1097.56,1331.07 L1097.89,1332.19 L1098.22,1333.32 L1098.56,1334.44 L1098.90,1335.56 L1099.24,1336.68 L1099.58,1337.81 L1099.93,1338.93 L1100.28,1340.05 L1100.64,1341.17 L1100.99,1342.30 L1101.35,1343.42 L1101.72,1344.54 L1102.09,1345.66 L1102.46,1346.79 L1102.83,1347.91 L1103.21,1349.03 L1103.59,1350.15 L1103.98,1351.28 L1104.37,1352.40 L1104.76,1353.52 L1105.16,1354.64 L1105.56,1355.77 L1105.97,1356.89 L1106.38,1358.01 L1106.79,1359.13 L1107.21,1360.25 L1107.64,1361.38 L1108.06,1362.50 L1108.50,1363.62 L1108.93,1364.74 L1109.37,1365.87 L1109.82,1366.99 L1110.27,1368.11 L1110.73,1369.23 L1111.19,1370.36 L1111.66,1371.48 L1112.13,1372.60 L1112.60,1373.72 L1113.09,1374.85 L1113.57,1375.97 L1114.07,1377.09 L1114.57,1378.21 L1115.07,1379.34 L1115.58,1380.46 L1116.10,1381.58 L1116.62,1382.70 L1117.15,1383.83 L1117.68,1384.95 L1118.23,1386.07 L1118.77,1387.19 L1119.33,1388.32 L1119.89,1389.44 L1120.46,1390.56 L1121.04,1391.68 L1121.62,1392.81 L1122.21,1393.93 L1122.81,1395.05 L1123.42,1396.17 L1124.03,1397.30 L1124.65,1398.42 L1125.29,1399.54 L1125.92,1400.66 L1126.57,1401.79 L1127.23,1402.91 L1127.90,1404.03 L1128.57,1405.15 L1129.26,1406.28 L1129.95,1407.40 L1130.65,1408.52 L1131.37,1409.64 L1132.09,1410.76 L1132.83,1411.89 L1133.57,1413.01 L1134.33,1414.13 L1135.10,1415.25 L1135.88,1416.38 L1136.67,1417.50 L1137.47,1418.62 L1138.29,1419.74 L1139.12,1420.87 L1139.96,1421.99 L1140.82,1423.11 L1141.69,1424.23 L1142.57,1425.36 L1143.47,1426.48 L1144.38,1427.60 L1145.31,1428.72 L1146.26,1429.85 L1147.22,1430.97 L1148.19,1432.09 L1149.19,1433.21 L1150.20,1434.34 L1151.23,1435.46 L1152.28,1436.58 L1153.35,1437.70 L1154.43,1438.83 L1155.54,1439.95 L1156.67,1441.07 L1157.82,1442.19 L1158.99,1443.32 L1160.19,1444.44 L1161.41,1445.56 L1162.65,1446.68 L1163.92,1447.81 L1165.21,1448.93 L1166.53,1450.05 L1167.88,1451.17 L1169.26,1452.30 L1170.67,1453.42 L1172.11,1454.54 L1173.58,1455.66 L1175.08,1456.79 L1176.62,1457.91 L1178.19,1459.03 L1179.80,1460.15 L1181.45,1461.27 L1183.14,1462.40 L1184.87,1463.52 L1186.64,1464.64 L1188.45,1465.76 L1190.32,1466.89 L1192.23,1468.01 L1194.19,1469.13 L1196.20,1470.25 L1198.27,1471.38 L1200.40,1472.50 L1202.58,1473.62 L1204.83,1474.74 L1207.14,1475.87 L1209.53,1476.99 L1211.98,1478.11 L1214.51,1479.23 L1217.12,1480.36 L1219.81,1481.48 L1222.59,1482.60 L1225.46,1483.72 L1228.43,1484.85 L1231.50,1485.97" fill="none" stroke="#000" stroke-width="2.6"/>
<path d="M740.1,1307 L740.1,1924.8 L1231.5,1924.8" fill="none" stroke="#222" stroke-width="1.6"/>
<line x1="730.1" y1="1895.4" x2="740.1" y2="1895.4" stroke="#222" stroke-width="1.6"/>
<text x="724.5" y="1895.4" font-size="15.5" text-anchor="middle" fill="#222" transform="rotate(-90 724.5 1895.4)" dy="0">0</text>
<line x1="730.1" y1="1753.7" x2="740.1" y2="1753.7" stroke="#222" stroke-width="1.6"/>
<text x="724.5" y="1753.7" font-size="15.5" text-anchor="middle" fill="#222" transform="rotate(-90 724.5 1753.7)" dy="0">1</text>
<line x1="730.1" y1="1611.9" x2="740.1" y2="1611.9" stroke="#222" stroke-width="1.6"/>
<text x="724.5" y="1611.9" font-size="15.5" text-anchor="middle" fill="#222" transform="rotate(-90 724.5 1611.9)" dy="0">2</text>
<line x1="730.1" y1="1470.2" x2="740.1" y2="1470.2" stroke="#222" stroke-width="1.6"/>
<text x="724.5" y="1470.2" font-size="15.5" text-anchor="middle" fill="#222" transform="rotate(-90 724.5 1470.2)" dy="0">3</text>
<line x1="730.1" y1="1328.4" x2="740.1" y2="1328.4" stroke="#222" stroke-width="1.6"/>
<text x="724.5" y="1328.4" font-size="15.5" text-anchor="middle" fill="#222" transform="rotate(-90 724.5 1328.4)" dy="0">4</text>
<line x1="857.4" y1="1924.8" x2="857.4" y2="1933.8" stroke="#222" stroke-width="1.6"/>
<text x="857.4" y="1949.6" font-size="15.5" text-anchor="middle" fill="#222">-1</text>
<line x1="984.5" y1="1924.8" x2="984.5" y2="1933.8" stroke="#222" stroke-width="1.6"/>
<text x="984.5" y="1949.6" font-size="15.5" text-anchor="middle" fill="#222">0</text>
<line x1="1111.7" y1="1924.8" x2="1111.7" y2="1933.8" stroke="#222" stroke-width="1.6"/>
<text x="1111.7" y="1949.6" font-size="15.5" text-anchor="middle" fill="#222">1</text>
<text x="983.8" y="1971.6" font-size="18.6" text-anchor="middle" fill="#222">Difference (DE - SE)</text>
<text x="697" y="1615" font-size="19" text-anchor="middle" fill="#2a1a22" transform="rotate(-90 697 1615)">-Log p</text>
<text transform="translate(0 47.9) scale(0.954 1)" font-size="31.7" font-weight="bold" fill="#000">(a)</text>
<text transform="translate(686.2 44.9) scale(0.912 1)" font-size="31.9" font-weight="bold" fill="#000">(b)</text>
<text transform="translate(7.6 702.8) scale(0.89 1)" font-size="33.0" font-weight="bold" fill="#000">(c)</text>
<text transform="translate(679.8 696.0) scale(0.896 1)" font-size="32.15" font-weight="bold" fill="#000">(d)</text>
<text transform="translate(19 1302) scale(0.887 1)" font-size="33.1" font-weight="bold" fill="#000">(e)</text>
<text transform="translate(677.7 1301.3) scale(0.909 1)" font-size="32.15" font-weight="bold" fill="#000">(f)</text>
</svg></body></html>
